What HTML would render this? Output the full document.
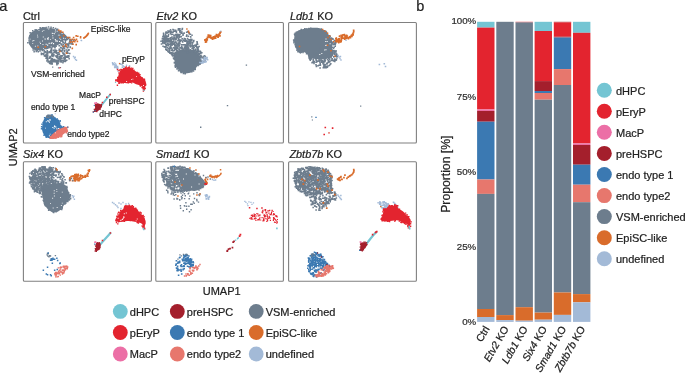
<!DOCTYPE html>
<html><head><meta charset="utf-8"><style>
html,body{margin:0;padding:0;background:#fff;width:685px;height:374px;overflow:hidden}
text{stroke:#222;stroke-width:.22px}
svg{display:block;font-family:"Liberation Sans",sans-serif;will-change:transform}
</style></head><body>
<svg width="685" height="374" viewBox="0 0 685 374">
<rect x="23.4" y="22.5" width="128.0" height="120.5" rx="1" fill="none" stroke="#808080" stroke-width="1.1"/>
<rect x="155.8" y="22.5" width="127.6" height="120.5" rx="1" fill="none" stroke="#808080" stroke-width="1.1"/>
<rect x="288.6" y="22.5" width="127.8" height="120.5" rx="1" fill="none" stroke="#808080" stroke-width="1.1"/>
<rect x="23.4" y="161.8" width="128.0" height="119.5" rx="1" fill="none" stroke="#808080" stroke-width="1.1"/>
<rect x="155.8" y="161.8" width="127.6" height="119.5" rx="1" fill="none" stroke="#808080" stroke-width="1.1"/>
<rect x="288.6" y="161.8" width="127.8" height="119.5" rx="1" fill="none" stroke="#808080" stroke-width="1.1"/>
<text x="22.9" y="19.7" font-size="10.90" text-anchor="start" fill="#222">Ctrl</text>
<text x="156.4" y="19.7" font-size="10.90" fill="#222"><tspan font-style="italic">Etv2</tspan> KO</text>
<text x="289.9" y="19.7" font-size="10.90" fill="#222"><tspan font-style="italic">Ldb1</tspan> KO</text>
<text x="23.0" y="158.3" font-size="10.90" fill="#222"><tspan font-style="italic">Six4</tspan> KO</text>
<text x="156.1" y="158.3" font-size="10.90" fill="#222"><tspan font-style="italic">Smad1</tspan> KO</text>
<text x="289.4" y="158.3" font-size="10.90" fill="#222"><tspan font-style="italic">Zbtb7b</tspan> KO</text>
<text x="-0.8" y="10.7" font-size="14.50" text-anchor="start" fill="#222">a</text>
<text x="416.2" y="10.5" font-size="14.50" text-anchor="start" fill="#222">b</text>
<text x="221.7" y="294.9" font-size="11.00" text-anchor="middle" fill="#222">UMAP1</text>
<text transform="translate(17.4 147.3) rotate(-90)" font-size="11" text-anchor="middle" fill="#222">UMAP2</text>
<path d="M28.1 39.9C28.1 38.5 28.7 36.9 29.2 35.6C29.7 34.4 30.2 33.3 31.3 32.4C32.4 31.5 33.8 31.0 35.6 30.3C37.4 29.6 40.0 28.6 42.0 28.1C44.0 27.7 45.6 27.6 47.4 27.6C49.2 27.7 51.1 28.0 52.7 28.4C54.3 28.8 55.8 29.3 57.0 29.7C58.2 30.1 59.1 30.3 60.2 30.8C61.3 31.3 62.3 32.0 63.4 32.9C64.5 33.8 66.0 34.9 66.6 36.1C67.2 37.3 67.4 38.9 67.0 40.0C66.6 41.1 65.2 42.3 64.0 43.0C62.8 43.7 61.3 43.5 60.0 44.0C58.7 44.5 57.3 45.3 56.0 46.0C54.7 46.7 53.3 47.5 52.0 48.0C50.7 48.5 49.3 48.7 48.0 49.0C46.7 49.3 45.3 49.8 44.0 50.0C42.7 50.2 41.3 50.0 40.0 50.0C38.7 50.0 37.1 50.1 36.0 50.0C34.9 49.9 34.3 49.9 33.5 49.5C32.7 49.1 32.0 48.3 31.3 47.4C30.6 46.5 29.7 45.5 29.2 44.2C28.7 43.0 28.1 41.3 28.1 39.9Z" fill="#6d7d8d"/>
<path d="M46.4 56.8h1.6v1.6h-1.6zM55.5 61.2h1.6v1.6h-1.6zM63.0 52.2h1.6v1.6h-1.6zM50.9 58.6h1.6v1.6h-1.6zM46.1 54.3h1.6v1.6h-1.6zM61.6 47.6h1.6v1.6h-1.6zM66.6 38.2h1.6v1.6h-1.6zM58.5 48.4h1.6v1.6h-1.6zM48.6 50.9h1.6v1.6h-1.6zM44.6 51.1h1.6v1.6h-1.6zM52.0 58.9h1.6v1.6h-1.6zM64.1 58.2h1.6v1.6h-1.6zM50.4 49.2h1.6v1.6h-1.6zM67.7 55.1h1.6v1.6h-1.6zM66.6 55.8h1.6v1.6h-1.6zM51.0 62.3h1.6v1.6h-1.6zM66.1 52.1h1.6v1.6h-1.6zM51.2 55.1h1.6v1.6h-1.6zM65.6 56.1h1.6v1.6h-1.6zM64.0 53.7h1.6v1.6h-1.6zM70.2 43.0h1.6v1.6h-1.6zM70.2 40.0h1.6v1.6h-1.6zM55.3 59.5h1.6v1.6h-1.6zM65.0 44.2h1.6v1.6h-1.6zM56.6 55.8h1.6v1.6h-1.6zM68.1 55.2h1.6v1.6h-1.6zM61.0 44.2h1.6v1.6h-1.6zM70.9 41.2h1.6v1.6h-1.6zM67.9 56.1h1.6v1.6h-1.6zM50.9 60.7h1.6v1.6h-1.6zM46.8 58.4h1.6v1.6h-1.6zM53.5 59.6h1.6v1.6h-1.6zM46.2 60.1h1.6v1.6h-1.6zM59.9 47.0h1.6v1.6h-1.6zM52.2 55.3h1.6v1.6h-1.6zM62.0 45.2h1.6v1.6h-1.6zM52.5 54.4h1.6v1.6h-1.6zM68.3 42.9h1.6v1.6h-1.6zM50.3 51.9h1.6v1.6h-1.6zM48.8 61.0h1.6v1.6h-1.6zM58.7 58.6h1.6v1.6h-1.6zM52.4 61.0h1.6v1.6h-1.6zM62.5 59.4h1.6v1.6h-1.6zM55.3 45.4h1.6v1.6h-1.6zM46.3 59.9h1.6v1.6h-1.6zM52.9 52.2h1.6v1.6h-1.6zM55.8 55.9h1.6v1.6h-1.6zM52.1 60.4h1.6v1.6h-1.6zM60.2 46.8h1.6v1.6h-1.6zM64.1 42.5h1.6v1.6h-1.6zM49.5 57.1h1.6v1.6h-1.6zM59.0 49.9h1.6v1.6h-1.6zM66.4 51.1h1.6v1.6h-1.6zM53.6 46.0h1.6v1.6h-1.6zM61.0 50.7h1.6v1.6h-1.6zM59.4 58.7h1.6v1.6h-1.6zM59.8 50.1h1.6v1.6h-1.6zM67.3 49.6h1.6v1.6h-1.6zM60.2 56.3h1.6v1.6h-1.6zM49.9 57.1h1.6v1.6h-1.6zM63.4 56.8h1.6v1.6h-1.6zM53.5 59.2h1.6v1.6h-1.6zM58.0 52.0h1.6v1.6h-1.6zM52.4 49.6h1.6v1.6h-1.6zM55.4 51.5h1.6v1.6h-1.6zM63.1 54.0h1.6v1.6h-1.6zM48.8 51.6h1.6v1.6h-1.6zM61.7 49.2h1.6v1.6h-1.6zM57.5 51.9h1.6v1.6h-1.6zM64.1 45.3h1.6v1.6h-1.6zM67.1 52.3h1.6v1.6h-1.6zM68.9 52.7h1.6v1.6h-1.6zM67.8 37.3h1.6v1.6h-1.6zM67.0 56.3h1.6v1.6h-1.6zM55.6 60.0h1.6v1.6h-1.6zM60.2 43.2h1.6v1.6h-1.6zM61.1 50.2h1.6v1.6h-1.6zM52.9 59.0h1.6v1.6h-1.6zM49.9 49.7h1.6v1.6h-1.6zM67.5 44.0h1.6v1.6h-1.6zM64.4 57.9h1.6v1.6h-1.6zM50.8 51.6h1.6v1.6h-1.6zM56.4 54.6h1.6v1.6h-1.6zM55.9 52.2h1.6v1.6h-1.6zM50.8 48.0h1.6v1.6h-1.6zM67.0 44.1h1.6v1.6h-1.6zM49.7 51.3h1.6v1.6h-1.6zM57.3 60.4h1.6v1.6h-1.6zM63.1 53.6h1.6v1.6h-1.6zM57.2 61.2h1.6v1.6h-1.6zM69.1 38.8h1.6v1.6h-1.6zM64.2 42.5h1.6v1.6h-1.6zM45.7 56.3h1.6v1.6h-1.6zM60.9 59.4h1.6v1.6h-1.6zM63.3 53.6h1.6v1.6h-1.6zM64.2 54.9h1.6v1.6h-1.6zM55.2 51.3h1.6v1.6h-1.6zM60.9 57.5h1.6v1.6h-1.6zM63.6 50.5h1.6v1.6h-1.6zM48.6 56.5h1.6v1.6h-1.6zM65.0 60.0h1.6v1.6h-1.6zM69.1 40.3h1.6v1.6h-1.6zM66.2 43.1h1.6v1.6h-1.6zM54.1 49.3h1.6v1.6h-1.6zM63.0 46.7h1.6v1.6h-1.6zM46.3 56.6h1.6v1.6h-1.6zM56.1 59.8h1.6v1.6h-1.6zM50.7 60.4h1.6v1.6h-1.6zM68.9 40.9h1.6v1.6h-1.6zM67.9 49.3h1.6v1.6h-1.6zM45.5 57.5h1.6v1.6h-1.6zM59.8 59.4h1.6v1.6h-1.6zM54.2 46.8h1.6v1.6h-1.6zM46.4 50.7h1.6v1.6h-1.6zM61.6 55.1h1.6v1.6h-1.6zM60.2 55.0h1.6v1.6h-1.6zM60.2 56.4h1.6v1.6h-1.6zM49.4 61.5h1.6v1.6h-1.6zM62.7 60.6h1.6v1.6h-1.6zM67.6 36.8h1.6v1.6h-1.6zM49.8 60.2h1.6v1.6h-1.6zM57.8 59.3h1.6v1.6h-1.6zM66.5 47.0h1.6v1.6h-1.6zM53.3 58.8h1.6v1.6h-1.6zM56.0 62.5h1.6v1.6h-1.6zM53.6 50.9h1.6v1.6h-1.6zM50.3 59.3h1.6v1.6h-1.6zM66.4 55.2h1.6v1.6h-1.6zM50.1 50.1h1.6v1.6h-1.6zM62.5 52.8h1.6v1.6h-1.6zM60.8 43.7h1.6v1.6h-1.6zM60.6 43.2h1.6v1.6h-1.6zM58.5 57.5h1.6v1.6h-1.6zM62.7 45.8h1.6v1.6h-1.6zM39.2 50.1h1.6v1.6h-1.6zM60.7 61.1h1.6v1.6h-1.6zM66.8 38.7h1.6v1.6h-1.6zM55.6 52.0h1.6v1.6h-1.6zM57.2 62.3h1.6v1.6h-1.6zM48.4 57.3h1.6v1.6h-1.6zM58.6 57.9h1.6v1.6h-1.6zM46.9 53.1h1.6v1.6h-1.6zM36.8 49.4h1.6v1.6h-1.6zM58.4 49.8h1.6v1.6h-1.6zM58.6 53.5h1.6v1.6h-1.6zM64.1 59.2h1.6v1.6h-1.6zM65.4 56.3h1.6v1.6h-1.6zM55.8 56.7h1.6v1.6h-1.6zM65.5 49.2h1.6v1.6h-1.6zM46.9 54.9h1.6v1.6h-1.6zM42.9 52.4h1.6v1.6h-1.6zM49.4 55.7h1.6v1.6h-1.6zM58.7 44.9h1.6v1.6h-1.6zM58.6 55.4h1.6v1.6h-1.6zM67.8 45.0h1.6v1.6h-1.6zM51.2 54.2h1.6v1.6h-1.6zM61.1 50.3h1.6v1.6h-1.6zM57.0 53.7h1.6v1.6h-1.6zM62.0 47.8h1.6v1.6h-1.6zM58.9 57.4h1.6v1.6h-1.6zM36.1 50.0h1.6v1.6h-1.6zM45.2 55.5h1.6v1.6h-1.6zM58.4 45.0h1.6v1.6h-1.6zM45.5 53.7h1.6v1.6h-1.6zM68.1 42.4h1.6v1.6h-1.6zM53.1 54.0h1.6v1.6h-1.6zM59.7 58.7h1.6v1.6h-1.6zM62.1 52.2h1.6v1.6h-1.6zM65.6 51.5h1.6v1.6h-1.6zM41.4 49.6h1.6v1.6h-1.6zM62.4 52.7h1.6v1.6h-1.6zM57.6 60.6h1.6v1.6h-1.6zM35.5 50.6h1.6v1.6h-1.6zM49.3 62.2h1.6v1.6h-1.6zM51.6 52.8h1.6v1.6h-1.6zM50.3 50.0h1.6v1.6h-1.6zM64.5 45.7h1.6v1.6h-1.6zM44.9 54.5h1.6v1.6h-1.6zM46.2 52.1h1.6v1.6h-1.6zM63.6 49.8h1.6v1.6h-1.6zM43.2 50.0h1.6v1.6h-1.6zM64.1 56.4h1.6v1.6h-1.6zM46.5 49.9h1.6v1.6h-1.6zM68.0 55.3h1.6v1.6h-1.6zM67.9 55.5h1.6v1.6h-1.6zM54.6 55.2h1.6v1.6h-1.6zM57.3 59.2h1.6v1.6h-1.6zM62.7 57.2h1.6v1.6h-1.6zM51.1 53.7h1.6v1.6h-1.6zM47.0 58.8h1.6v1.6h-1.6zM51.5 58.1h1.6v1.6h-1.6zM57.2 57.3h1.6v1.6h-1.6zM55.9 49.9h1.6v1.6h-1.6zM57.9 60.6h1.6v1.6h-1.6zM59.5 49.5h1.6v1.6h-1.6zM50.9 54.8h1.6v1.6h-1.6zM64.5 41.5h1.6v1.6h-1.6zM50.0 62.2h1.6v1.6h-1.6zM56.7 55.5h1.6v1.6h-1.6zM55.8 55.3h1.6v1.6h-1.6zM67.1 46.6h1.6v1.6h-1.6zM56.8 55.4h1.6v1.6h-1.6zM68.2 49.0h1.6v1.6h-1.6zM55.0 49.6h1.6v1.6h-1.6zM58.6 48.4h1.6v1.6h-1.6zM62.1 60.0h1.6v1.6h-1.6zM64.2 55.4h1.6v1.6h-1.6zM56.1 60.7h1.6v1.6h-1.6zM63.7 47.7h1.6v1.6h-1.6zM68.5 43.0h1.6v1.6h-1.6zM53.9 60.8h1.6v1.6h-1.6zM59.3 57.9h1.6v1.6h-1.6zM55.5 52.5h1.6v1.6h-1.6zM48.0 60.6h1.6v1.6h-1.6zM47.0 51.4h1.6v1.6h-1.6zM43.6 50.2h1.6v1.6h-1.6zM44.6 55.3h1.6v1.6h-1.6zM58.9 56.8h1.6v1.6h-1.6zM46.5 59.0h1.6v1.6h-1.6zM44.2 51.7h1.6v1.6h-1.6zM54.3 59.3h1.6v1.6h-1.6zM63.9 59.0h1.6v1.6h-1.6zM63.7 58.3h1.6v1.6h-1.6zM65.5 56.1h1.6v1.6h-1.6zM58.0 60.0h1.6v1.6h-1.6zM52.2 55.7h1.6v1.6h-1.6zM54.5 51.4h1.6v1.6h-1.6zM62.8 43.5h1.6v1.6h-1.6zM53.3 59.4h1.6v1.6h-1.6z" fill="#6d7d8d"/>
<path d="M61.2 42.2h1.1v1.1h-1.1zM53.0 43.1h1.1v1.1h-1.1zM47.2 38.0h1.1v1.1h-1.1zM47.1 44.6h1.1v1.1h-1.1zM50.7 42.8h1.1v1.1h-1.1zM51.5 42.2h1.1v1.1h-1.1zM63.4 40.3h1.1v1.1h-1.1zM45.6 43.7h1.1v1.1h-1.1zM59.2 37.5h1.1v1.1h-1.1zM55.4 39.9h1.1v1.1h-1.1zM60.8 41.8h1.1v1.1h-1.1zM54.8 38.9h1.1v1.1h-1.1zM59.0 41.0h1.1v1.1h-1.1zM47.5 37.8h1.1v1.1h-1.1zM55.4 40.6h1.1v1.1h-1.1zM48.6 42.8h1.1v1.1h-1.1zM56.8 40.6h1.1v1.1h-1.1zM52.4 37.5h1.1v1.1h-1.1z" fill="#fff"/>
<path d="M29.3 42.9h1.5v1.5h-1.5zM50.3 26.5h1.5v1.5h-1.5zM54.6 28.1h1.5v1.5h-1.5zM34.2 49.3h1.5v1.5h-1.5zM40.7 53.7h1.5v1.5h-1.5zM45.6 57.4h1.5v1.5h-1.5zM59.5 60.9h1.5v1.5h-1.5zM29.4 32.1h1.5v1.5h-1.5zM47.3 61.2h1.5v1.5h-1.5zM56.1 63.3h1.5v1.5h-1.5zM66.0 59.5h1.5v1.5h-1.5zM35.4 29.0h1.5v1.5h-1.5zM54.9 27.7h1.5v1.5h-1.5zM69.4 46.8h1.5v1.5h-1.5zM52.6 27.1h1.5v1.5h-1.5zM56.2 63.9h1.5v1.5h-1.5zM50.7 63.3h1.5v1.5h-1.5zM29.3 35.1h1.5v1.5h-1.5zM49.9 28.2h1.5v1.5h-1.5zM37.5 51.0h1.5v1.5h-1.5zM39.7 27.8h1.5v1.5h-1.5zM34.8 30.5h1.5v1.5h-1.5zM40.6 52.4h1.5v1.5h-1.5zM71.5 43.5h1.5v1.5h-1.5zM42.7 53.7h1.5v1.5h-1.5zM62.2 62.0h1.5v1.5h-1.5zM50.3 26.5h1.5v1.5h-1.5zM51.3 62.6h1.5v1.5h-1.5zM40.5 28.4h1.5v1.5h-1.5zM55.9 28.7h1.5v1.5h-1.5zM41.6 26.9h1.5v1.5h-1.5zM40.6 53.0h1.5v1.5h-1.5zM43.2 27.1h1.5v1.5h-1.5zM61.4 32.3h1.5v1.5h-1.5zM36.9 29.9h1.5v1.5h-1.5zM30.7 32.8h1.5v1.5h-1.5zM57.2 63.1h1.5v1.5h-1.5zM69.5 46.3h1.5v1.5h-1.5zM54.9 27.9h1.5v1.5h-1.5zM65.6 36.5h1.5v1.5h-1.5zM28.2 39.2h1.5v1.5h-1.5zM34.3 29.3h1.5v1.5h-1.5zM33.4 51.0h1.5v1.5h-1.5zM49.6 62.9h1.5v1.5h-1.5zM27.1 42.1h1.5v1.5h-1.5zM43.7 55.3h1.5v1.5h-1.5zM39.4 26.9h1.5v1.5h-1.5zM41.7 53.1h1.5v1.5h-1.5zM45.6 26.8h1.5v1.5h-1.5zM32.4 49.2h1.5v1.5h-1.5zM68.4 57.9h1.5v1.5h-1.5zM44.9 27.6h1.5v1.5h-1.5zM51.5 63.3h1.5v1.5h-1.5zM32.0 30.0h1.5v1.5h-1.5zM64.6 60.8h1.5v1.5h-1.5zM56.9 28.6h1.5v1.5h-1.5zM64.0 60.5h1.5v1.5h-1.5zM43.9 54.6h1.5v1.5h-1.5zM47.8 26.2h1.5v1.5h-1.5zM48.8 62.6h1.5v1.5h-1.5z" fill="#6d7d8d"/>
<path d="M59.2 34.7h0.9v0.9h-0.9zM46.8 27.5h0.9v0.9h-0.9zM63.1 37.8h0.9v0.9h-0.9zM61.6 33.1h0.9v0.9h-0.9zM34.9 45.8h0.9v0.9h-0.9zM41.9 30.8h0.9v0.9h-0.9zM42.1 40.5h0.9v0.9h-0.9zM27.8 38.8h0.9v0.9h-0.9zM45.0 38.7h0.9v0.9h-0.9zM32.3 43.2h0.9v0.9h-0.9zM40.1 43.1h0.9v0.9h-0.9zM42.5 44.0h0.9v0.9h-0.9zM64.8 38.2h0.9v0.9h-0.9zM47.6 39.0h0.9v0.9h-0.9zM48.6 27.6h0.9v0.9h-0.9zM37.4 45.5h0.9v0.9h-0.9zM54.8 31.5h0.9v0.9h-0.9zM28.3 40.6h0.9v0.9h-0.9zM50.1 38.9h0.9v0.9h-0.9zM55.0 29.5h0.9v0.9h-0.9zM46.9 38.4h0.9v0.9h-0.9zM38.5 29.9h0.9v0.9h-0.9zM43.4 30.2h0.9v0.9h-0.9zM50.7 46.4h0.9v0.9h-0.9zM33.4 40.0h0.9v0.9h-0.9zM56.7 30.8h0.9v0.9h-0.9zM42.8 36.6h0.9v0.9h-0.9zM60.3 38.9h0.9v0.9h-0.9zM43.0 48.2h0.9v0.9h-0.9zM57.9 34.7h0.9v0.9h-0.9zM37.0 34.7h0.9v0.9h-0.9zM44.6 49.1h0.9v0.9h-0.9zM29.7 38.7h0.9v0.9h-0.9zM37.3 36.6h0.9v0.9h-0.9zM52.3 35.3h0.9v0.9h-0.9zM48.3 28.7h0.9v0.9h-0.9zM44.5 38.5h0.9v0.9h-0.9zM64.1 41.3h0.9v0.9h-0.9zM52.6 33.1h0.9v0.9h-0.9zM54.0 33.3h0.9v0.9h-0.9zM48.7 47.9h0.9v0.9h-0.9zM51.8 32.8h0.9v0.9h-0.9zM47.9 36.9h0.9v0.9h-0.9zM39.5 41.7h0.9v0.9h-0.9zM32.3 40.5h0.9v0.9h-0.9z" fill="#fff"/>
<path d="M58.0 29.4h1.6v1.6h-1.6zM60.0 30.3h1.6v1.6h-1.6zM62.0 31.5h1.6v1.6h-1.6zM59.5 31.2h1.6v1.6h-1.6zM62.9 34.8h1.6v1.6h-1.6zM66.7 36.7h1.6v1.6h-1.6zM68.9 36.7h1.6v1.6h-1.6zM72.8 36.7h1.6v1.6h-1.6zM75.4 35.1h1.6v1.6h-1.6zM77.0 35.5h1.6v1.6h-1.6zM79.8 36.1h1.6v1.6h-1.6zM79.8 37.0h1.6v1.6h-1.6zM76.6 40.6h1.6v1.6h-1.6zM75.4 43.8h1.6v1.6h-1.6zM72.2 43.5h1.6v1.6h-1.6zM59.3 36.4h1.6v1.6h-1.6zM65.1 43.8h1.6v1.6h-1.6zM65.7 45.7h1.6v1.6h-1.6zM62.5 45.4h1.6v1.6h-1.6zM71.5 47.6h1.6v1.6h-1.6zM37.4 46.5h1.6v1.6h-1.6zM44.6 45.9h1.6v1.6h-1.6zM59.1 50.7h1.6v1.6h-1.6zM65.7 52.5h1.6v1.6h-1.6z" fill="#d96c2b"/>
<path d="M69.8 38.7h1.6v1.6h-1.6zM71.6 38.4h1.6v1.6h-1.6zM73.4 38.8h1.6v1.6h-1.6zM74.8 39.5h1.6v1.6h-1.6zM70.6 40.2h1.6v1.6h-1.6zM72.4 40.4h1.6v1.6h-1.6zM74.0 41.0h1.6v1.6h-1.6zM71.7 42.0h1.6v1.6h-1.6zM69.5 41.4h1.6v1.6h-1.6zM75.7 38.5h1.6v1.6h-1.6z" fill="#d96c2b"/>
<path d="M70.8 39.5h1.4v1.4h-1.4zM73.2 39.7h1.4v1.4h-1.4zM71.5 42.9h1.4v1.4h-1.4z" fill="#6d7d8d"/>
<path d="M83.9 38.0L85.3 37.0L86.6 35.9L87.6 34.7L88.3 33.4" stroke="#d96c2b" stroke-width="1.9" fill="none" stroke-linecap="round"/>
<path d="M80.6 39.7h1.4v1.4h-1.4z" fill="#a3bad7"/>
<path d="M72.8 55.8h1.4v1.4h-1.4zM73.8 57.3h1.4v1.4h-1.4zM74.8 58.8h1.4v1.4h-1.4zM75.8 59.6h1.4v1.4h-1.4zM80.8 39.9h1.4v1.4h-1.4zM74.5 56.5h1.4v1.4h-1.4z" fill="#a3bad7"/>
<path d="M52.1 66.5h1.2v1.2h-1.2zM57.9 67.2h1.2v1.2h-1.2zM59.9 66.9h1.2v1.2h-1.2z" fill="#6d7d8d"/>
<path d="M59.2 67.2h1.2v1.2h-1.2z" fill="#e3242f"/>
<path d="M118.8 74.0C119.1 73.2 119.7 72.0 120.2 71.2C120.7 70.4 121.3 69.9 122.0 69.4C122.7 68.9 123.6 68.3 124.4 68.0C125.2 67.7 125.9 67.6 126.7 67.5C127.5 67.4 128.2 67.3 129.0 67.5C129.8 67.7 130.5 67.9 131.4 68.4C132.3 68.9 133.3 69.7 134.2 70.3C135.1 70.9 136.1 71.4 137.0 72.2C137.9 73.0 138.9 74.1 139.8 75.0C140.7 75.9 141.7 77.0 142.6 77.8C143.5 78.6 144.4 79.3 145.0 80.1C145.6 80.9 145.8 81.5 145.9 82.5C146.0 83.5 145.6 85.0 145.4 86.2C145.2 87.4 145.2 88.7 145.0 89.5C144.8 90.3 144.4 91.3 144.0 90.9C143.6 90.5 143.3 88.0 142.6 87.1C141.9 86.2 140.9 85.8 139.8 85.3C138.7 84.8 137.3 84.8 136.1 84.3C134.8 83.8 133.6 82.7 132.3 82.5C131.1 82.3 129.8 82.8 128.6 82.9C127.3 83.0 126.0 82.9 124.8 82.9C123.5 82.9 122.3 83.1 121.1 82.9C119.9 82.8 118.2 82.5 117.4 82.0C116.6 81.5 116.0 80.7 116.0 80.1C116.0 79.5 117.0 78.9 117.4 78.2C117.8 77.5 118.1 76.6 118.3 75.9C118.5 75.2 118.5 74.8 118.8 74.0Z" fill="#e3242f"/>
<path d="M117.0 76.8h1.4v1.4h-1.4zM136.5 71.7h1.4v1.4h-1.4zM142.7 90.3h1.4v1.4h-1.4zM125.6 66.3h1.4v1.4h-1.4zM138.1 73.1h1.4v1.4h-1.4zM138.0 72.6h1.4v1.4h-1.4zM122.9 67.9h1.4v1.4h-1.4zM121.0 82.0h1.4v1.4h-1.4zM142.4 87.1h1.4v1.4h-1.4zM131.6 68.7h1.4v1.4h-1.4zM144.8 84.5h1.4v1.4h-1.4zM139.5 84.9h1.4v1.4h-1.4zM139.3 73.9h1.4v1.4h-1.4zM133.2 69.4h1.4v1.4h-1.4zM143.3 78.6h1.4v1.4h-1.4zM118.3 72.3h1.4v1.4h-1.4zM119.1 82.3h1.4v1.4h-1.4zM142.6 88.3h1.4v1.4h-1.4zM136.9 73.2h1.4v1.4h-1.4zM137.8 73.6h1.4v1.4h-1.4zM128.8 66.3h1.4v1.4h-1.4zM118.4 81.8h1.4v1.4h-1.4zM120.9 68.9h1.4v1.4h-1.4zM144.7 82.7h1.4v1.4h-1.4zM124.4 66.7h1.4v1.4h-1.4zM117.4 76.7h1.4v1.4h-1.4zM128.3 66.5h1.4v1.4h-1.4zM141.3 76.9h1.4v1.4h-1.4zM139.6 84.3h1.4v1.4h-1.4zM122.6 82.2h1.4v1.4h-1.4zM129.5 81.6h1.4v1.4h-1.4zM127.8 82.2h1.4v1.4h-1.4zM125.6 81.9h1.4v1.4h-1.4zM115.1 80.1h1.4v1.4h-1.4zM118.2 82.5h1.4v1.4h-1.4zM127.3 82.1h1.4v1.4h-1.4zM143.7 87.5h1.4v1.4h-1.4zM142.0 87.1h1.4v1.4h-1.4zM125.7 81.6h1.4v1.4h-1.4zM139.8 85.3h1.4v1.4h-1.4zM145.0 83.8h1.4v1.4h-1.4zM130.9 82.2h1.4v1.4h-1.4zM143.8 79.0h1.4v1.4h-1.4zM143.7 78.4h1.4v1.4h-1.4zM125.5 81.6h1.4v1.4h-1.4zM144.5 87.8h1.4v1.4h-1.4zM130.7 67.4h1.4v1.4h-1.4zM127.5 66.9h1.4v1.4h-1.4zM141.4 86.9h1.4v1.4h-1.4zM115.1 79.2h1.4v1.4h-1.4z" fill="#e3242f"/>
<path d="M132.4 78.7h0.9v0.9h-0.9zM143.1 85.1h0.9v0.9h-0.9zM131.0 79.2h0.9v0.9h-0.9zM136.0 76.2h0.9v0.9h-0.9zM126.2 81.0h0.9v0.9h-0.9z" fill="#fff"/>
<path d="M115.6 65.9h1.5v1.5h-1.5zM113.9 66.2h1.5v1.5h-1.5zM114.1 66.7h1.5v1.5h-1.5zM117.1 67.2h1.5v1.5h-1.5zM114.6 65.7h1.5v1.5h-1.5zM112.5 63.0h1.5v1.5h-1.5zM115.3 66.5h1.5v1.5h-1.5zM116.7 66.4h1.5v1.5h-1.5zM114.5 66.1h1.5v1.5h-1.5zM115.0 64.9h1.5v1.5h-1.5zM112.0 62.8h1.5v1.5h-1.5z" fill="#a3bad7"/>
<path d="M119.3 63.1h1.5v1.5h-1.5zM121.6 66.4h1.5v1.5h-1.5zM122.1 66.3h1.5v1.5h-1.5zM119.7 63.6h1.5v1.5h-1.5z" fill="#a3bad7"/>
<path d="M128.8 64.9h1.4v1.4h-1.4zM117.3 70.3h1.4v1.4h-1.4zM125.8 64.5h1.4v1.4h-1.4zM111.8 62.1h1.4v1.4h-1.4zM112.7 62.9h1.4v1.4h-1.4zM113.5 63.9h1.4v1.4h-1.4zM114.3 64.9h1.4v1.4h-1.4zM115.1 66.0h1.4v1.4h-1.4zM115.9 67.1h1.4v1.4h-1.4zM116.6 68.2h1.4v1.4h-1.4zM112.3 64.1h1.4v1.4h-1.4zM113.9 62.2h1.4v1.4h-1.4zM114.9 63.3h1.4v1.4h-1.4zM115.6 64.6h1.4v1.4h-1.4zM116.9 65.7h1.4v1.4h-1.4zM119.1 62.9h1.4v1.4h-1.4zM120.3 63.5h1.4v1.4h-1.4zM121.6 64.3h1.4v1.4h-1.4zM122.7 65.3h1.4v1.4h-1.4zM123.6 66.3h1.4v1.4h-1.4z" fill="#a3bad7"/>
<path d="M116.8 68.8h1.4v1.4h-1.4zM118.3 69.8h1.4v1.4h-1.4zM120.3 68.8h1.4v1.4h-1.4zM119.8 70.8h1.4v1.4h-1.4z" fill="#e3242f"/>
<path d="M116.7 84.6h1.4v1.4h-1.4zM109.2 93.9h1.4v1.4h-1.4zM132.1 67.7h1.4v1.4h-1.4zM119.3 69.3h1.4v1.4h-1.4z" fill="#e3242f"/>
<path d="M114.9 81.9h1.2v1.2h-1.2zM143.4 89.8h1.2v1.2h-1.2z" fill="#74c5d3"/>
<path d="M118.9 62.9h1.2v1.2h-1.2z" fill="#d96c2b"/>
<path d="M100.5 106.5L103.0 103.3L106.0 99.6L108.5 96.5L110.2 94.5" stroke="#74c5d3" stroke-width="1.9" fill="none" stroke-linecap="round"/>
<path d="M109.5 93.8h1.5v1.5h-1.5zM106.0 96.5h1.5v1.5h-1.5zM101.7 101.8h1.5v1.5h-1.5z" fill="#e3242f"/>
<path d="M94.7 104.4C95.1 104.1 96.5 103.7 97.3 103.6C98.1 103.5 99.0 103.7 99.8 104.0C100.6 104.3 101.7 104.7 102.0 105.3C102.3 105.9 102.0 106.7 101.6 107.4C101.2 108.1 100.5 108.9 99.8 109.6C99.1 110.2 98.1 110.9 97.3 111.3C96.5 111.7 95.3 112.0 94.7 112.1C94.1 112.2 93.5 112.4 93.4 112.1C93.3 111.8 94.0 110.8 94.3 110.0C94.6 109.2 95.0 108.1 95.1 107.4C95.2 106.7 95.2 106.2 95.1 105.7C95.0 105.2 94.3 104.8 94.7 104.4Z" fill="#a41f2c"/>
<path d="M96.7 103.5h1.2v1.2h-1.2zM96.3 111.0h1.2v1.2h-1.2zM99.5 108.9h1.2v1.2h-1.2zM95.7 103.8h1.2v1.2h-1.2zM96.1 110.3h1.2v1.2h-1.2zM99.4 108.5h1.2v1.2h-1.2zM100.9 103.8h1.2v1.2h-1.2zM94.9 105.7h1.2v1.2h-1.2zM100.7 105.6h1.2v1.2h-1.2zM93.7 108.7h1.2v1.2h-1.2zM95.6 110.5h1.2v1.2h-1.2zM98.0 109.1h1.2v1.2h-1.2zM100.6 104.1h1.2v1.2h-1.2zM92.6 111.2h1.2v1.2h-1.2z" fill="#a41f2c"/>
<path d="M94.0 102.4h1.4v1.4h-1.4zM95.7 102.0h1.4v1.4h-1.4zM94.8 102.6h1.4v1.4h-1.4z" fill="#ec6fa6"/>
<path d="M93.7 104.9h1.2v1.2h-1.2zM92.8 111.5h1.2v1.2h-1.2zM94.5 110.0h1.2v1.2h-1.2z" fill="#3b79b2"/>
<path d="M46.0 116.4C46.7 115.7 47.5 115.0 48.4 114.8C49.3 114.6 50.7 114.7 51.6 115.0C52.5 115.3 53.2 115.8 54.0 116.4C54.8 117.0 55.5 118.1 56.4 118.8C57.3 119.5 58.7 119.6 59.3 120.4C59.9 121.2 59.8 122.7 60.1 123.6C60.4 124.5 60.7 125.4 61.3 126.0C61.9 126.6 62.9 126.7 63.7 127.2C64.5 127.7 65.6 128.5 66.1 129.2C66.6 129.9 66.9 130.6 66.5 131.3C66.1 132.0 64.7 132.6 63.7 133.3C62.7 134.0 61.7 135.0 60.5 135.7C59.3 136.4 57.8 137.2 56.4 137.7C55.0 138.2 53.7 138.4 52.4 138.5C51.1 138.6 49.6 138.4 48.4 138.1C47.2 137.8 46.1 137.3 45.2 136.5C44.3 135.7 43.7 134.5 43.2 133.3C42.7 132.1 42.1 130.5 42.0 129.2C41.9 127.8 42.2 126.5 42.4 125.2C42.6 123.9 42.9 122.3 43.2 121.2C43.5 120.1 43.9 119.6 44.4 118.8C44.9 118.0 45.3 117.1 46.0 116.4Z" fill="#3b79b2"/>
<path d="M59.9 125.2h1.4v1.4h-1.4zM55.5 131.3h1.4v1.4h-1.4zM59.4 120.6h1.4v1.4h-1.4zM63.1 127.0h1.4v1.4h-1.4zM43.9 117.1h1.4v1.4h-1.4zM51.9 135.2h1.4v1.4h-1.4zM53.2 133.7h1.4v1.4h-1.4zM60.7 129.0h1.4v1.4h-1.4zM52.7 115.9h1.4v1.4h-1.4zM63.0 126.0h1.4v1.4h-1.4zM56.6 118.2h1.4v1.4h-1.4zM59.5 120.1h1.4v1.4h-1.4zM45.5 136.6h1.4v1.4h-1.4zM54.3 117.2h1.4v1.4h-1.4zM51.3 114.1h1.4v1.4h-1.4zM40.9 126.1h1.4v1.4h-1.4zM57.8 129.6h1.4v1.4h-1.4zM40.8 128.1h1.4v1.4h-1.4zM62.7 126.8h1.4v1.4h-1.4zM61.3 126.8h1.4v1.4h-1.4zM57.1 119.7h1.4v1.4h-1.4zM54.9 132.8h1.4v1.4h-1.4zM57.9 130.9h1.4v1.4h-1.4zM43.3 134.6h1.4v1.4h-1.4zM42.4 121.8h1.4v1.4h-1.4zM62.5 127.4h1.4v1.4h-1.4zM49.2 136.9h1.4v1.4h-1.4zM41.3 123.5h1.4v1.4h-1.4zM54.2 132.7h1.4v1.4h-1.4zM58.9 122.6h1.4v1.4h-1.4zM61.2 127.5h1.4v1.4h-1.4zM51.3 135.2h1.4v1.4h-1.4zM61.4 128.4h1.4v1.4h-1.4zM55.2 118.4h1.4v1.4h-1.4zM60.8 125.7h1.4v1.4h-1.4z" fill="#3b79b2"/>
<path d="M49.4 138.5C49.6 137.9 50.7 136.4 51.5 135.5C52.3 134.6 53.2 133.6 54.1 132.8C55.0 132.0 55.9 131.4 56.8 130.8C57.7 130.2 58.8 129.6 59.7 129.1C60.7 128.6 61.5 128.2 62.5 127.8C63.5 127.4 64.7 126.8 65.4 126.8C66.2 126.8 66.6 127.0 67.0 127.5C67.4 128.0 67.6 128.8 67.6 129.5C67.6 130.2 67.6 130.8 67.0 131.5C66.4 132.2 65.0 133.0 64.0 133.8C63.0 134.6 62.0 135.5 60.8 136.2C59.6 136.9 58.0 137.7 56.6 138.2C55.2 138.7 53.5 138.9 52.4 139.0C51.3 139.1 50.5 139.1 50.0 139.0C49.5 138.9 49.1 139.1 49.4 138.5Z" fill="#e7776d"/>
<path d="M66.5 129.8h1.4v1.4h-1.4zM57.9 136.6h1.4v1.4h-1.4zM60.9 135.9h1.4v1.4h-1.4zM60.1 136.0h1.4v1.4h-1.4zM66.0 130.4h1.4v1.4h-1.4zM61.1 135.0h1.4v1.4h-1.4zM61.8 129.0h1.4v1.4h-1.4zM61.0 129.9h1.4v1.4h-1.4zM66.7 130.9h1.4v1.4h-1.4zM65.8 126.9h1.4v1.4h-1.4zM52.8 135.2h1.4v1.4h-1.4zM55.8 137.2h1.4v1.4h-1.4zM53.9 134.1h1.4v1.4h-1.4zM59.2 130.1h1.4v1.4h-1.4zM51.3 135.9h1.4v1.4h-1.4zM65.8 129.8h1.4v1.4h-1.4zM55.6 133.8h1.4v1.4h-1.4zM67.1 126.6h1.4v1.4h-1.4zM65.6 132.0h1.4v1.4h-1.4zM60.4 135.6h1.4v1.4h-1.4zM66.6 126.7h1.4v1.4h-1.4zM51.7 135.7h1.4v1.4h-1.4zM59.2 130.7h1.4v1.4h-1.4zM54.5 133.6h1.4v1.4h-1.4zM54.8 137.4h1.4v1.4h-1.4z" fill="#e7776d"/>
<path d="M58.6 128.0h1.2v1.2h-1.2zM53.9 133.7h1.2v1.2h-1.2zM56.5 129.3h1.2v1.2h-1.2zM53.4 134.3h1.2v1.2h-1.2zM49.6 136.1h1.2v1.2h-1.2zM51.7 134.6h1.2v1.2h-1.2zM54.7 132.1h1.2v1.2h-1.2zM57.3 132.4h1.2v1.2h-1.2zM58.8 130.8h1.2v1.2h-1.2zM56.7 131.6h1.2v1.2h-1.2zM56.3 129.4h1.2v1.2h-1.2zM50.6 136.7h1.2v1.2h-1.2zM50.9 136.0h1.2v1.2h-1.2zM57.0 131.3h1.2v1.2h-1.2z" fill="#e7776d"/>
<path d="M46.2 115.2h1.5v1.5h-1.5zM47.2 114.5h1.5v1.5h-1.5zM48.8 114.8h1.5v1.5h-1.5zM50.2 114.7h1.5v1.5h-1.5zM51.8 115.2h1.5v1.5h-1.5zM46.8 116.5h1.5v1.5h-1.5zM49.2 115.8h1.5v1.5h-1.5zM52.2 116.2h1.5v1.5h-1.5zM48.0 117.0h1.5v1.5h-1.5zM45.8 116.8h1.5v1.5h-1.5z" fill="#6d7d8d"/>
<path d="M48.5 120.5h1.0v1.0h-1.0zM45.8 121.3h1.0v1.0h-1.0zM47.6 120.7h1.0v1.0h-1.0zM50.0 119.5h1.0v1.0h-1.0zM49.2 119.2h1.0v1.0h-1.0zM48.9 121.7h1.0v1.0h-1.0z" fill="#fff"/>
<path d="M53.6 127.7h1.0v1.0h-1.0zM58.1 128.1h1.0v1.0h-1.0zM55.4 126.5h1.0v1.0h-1.0zM52.3 126.9h1.0v1.0h-1.0zM54.5 126.3h1.0v1.0h-1.0zM53.9 126.0h1.0v1.0h-1.0zM56.4 128.2h1.0v1.0h-1.0z" fill="#fff"/>
<path d="M47.4 120.1h0.9v0.9h-0.9zM54.2 124.9h0.9v0.9h-0.9zM48.9 135.3h0.9v0.9h-0.9zM45.0 127.7h0.9v0.9h-0.9zM49.7 133.7h0.9v0.9h-0.9zM55.0 132.4h0.9v0.9h-0.9z" fill="#fff"/>
<path d="M67.1 126.6h1.2v1.2h-1.2z" fill="#3b79b2"/>
<path d="M54.7 113.3h1.0v1.0h-1.0z" fill="#a3bad7"/>
<path d="M173.9 52.9C174.8 51.8 177.4 50.6 179.6 50.0C181.8 49.4 184.7 49.3 186.9 49.3C189.1 49.3 190.9 49.4 192.6 50.0C194.3 50.6 195.8 51.8 197.0 52.9C198.2 54.0 199.1 55.1 199.8 56.5C200.5 57.9 201.7 60.0 201.3 61.5C201.0 63.0 198.9 64.3 197.7 65.8C196.5 67.2 195.5 69.0 194.1 70.2C192.7 71.4 190.7 72.6 189.0 73.1C187.3 73.6 185.6 73.8 184.0 73.4C182.4 73.0 180.9 72.0 179.6 70.9C178.3 69.8 176.8 68.2 176.0 66.6C175.2 65.0 174.9 63.2 174.6 61.5C174.2 59.8 174.0 57.9 173.9 56.5C173.8 55.1 173.0 54.0 173.9 52.9Z" fill="#6d7d8d"/>
<path d="M187.7 48.1h1.6v1.6h-1.6zM165.9 40.3h1.6v1.6h-1.6zM177.0 36.6h1.6v1.6h-1.6zM163.5 40.0h1.6v1.6h-1.6zM180.9 32.3h1.6v1.6h-1.6zM175.4 48.5h1.6v1.6h-1.6zM177.1 34.8h1.6v1.6h-1.6zM165.7 49.4h1.6v1.6h-1.6zM180.3 35.8h1.6v1.6h-1.6zM202.1 56.5h1.6v1.6h-1.6zM190.1 38.6h1.6v1.6h-1.6zM171.8 33.5h1.6v1.6h-1.6zM175.5 35.6h1.6v1.6h-1.6zM167.9 40.8h1.6v1.6h-1.6zM186.9 30.8h1.6v1.6h-1.6zM180.5 35.9h1.6v1.6h-1.6zM196.1 46.5h1.6v1.6h-1.6zM183.9 46.3h1.6v1.6h-1.6zM176.0 47.1h1.6v1.6h-1.6zM174.1 47.3h1.6v1.6h-1.6zM186.1 43.0h1.6v1.6h-1.6zM169.6 31.1h1.6v1.6h-1.6zM175.3 48.1h1.6v1.6h-1.6zM204.0 55.3h1.6v1.6h-1.6zM189.9 40.8h1.6v1.6h-1.6zM162.1 35.8h1.6v1.6h-1.6zM191.3 47.5h1.6v1.6h-1.6zM186.2 45.2h1.6v1.6h-1.6zM165.9 35.4h1.6v1.6h-1.6zM172.2 31.5h1.6v1.6h-1.6zM184.6 38.6h1.6v1.6h-1.6zM171.0 53.2h1.6v1.6h-1.6zM179.1 30.5h1.6v1.6h-1.6zM178.4 35.0h1.6v1.6h-1.6zM171.4 44.1h1.6v1.6h-1.6zM170.4 40.8h1.6v1.6h-1.6zM192.6 46.5h1.6v1.6h-1.6zM200.7 55.4h1.6v1.6h-1.6zM200.0 52.8h1.6v1.6h-1.6zM166.3 44.1h1.6v1.6h-1.6zM187.9 31.7h1.6v1.6h-1.6zM191.1 38.8h1.6v1.6h-1.6zM169.5 47.5h1.6v1.6h-1.6zM198.4 53.6h1.6v1.6h-1.6zM169.1 52.4h1.6v1.6h-1.6zM177.9 33.7h1.6v1.6h-1.6zM200.1 51.6h1.6v1.6h-1.6zM176.2 34.1h1.6v1.6h-1.6zM191.3 45.0h1.6v1.6h-1.6zM182.2 34.4h1.6v1.6h-1.6zM200.0 54.9h1.6v1.6h-1.6zM164.2 42.1h1.6v1.6h-1.6zM168.4 43.6h1.6v1.6h-1.6zM178.2 43.3h1.6v1.6h-1.6zM162.8 33.8h1.6v1.6h-1.6zM190.9 39.6h1.6v1.6h-1.6zM173.1 49.9h1.6v1.6h-1.6zM172.6 53.0h1.6v1.6h-1.6zM200.0 62.4h1.6v1.6h-1.6zM177.1 40.0h1.6v1.6h-1.6zM202.9 58.1h1.6v1.6h-1.6zM194.0 50.3h1.6v1.6h-1.6zM189.3 43.1h1.6v1.6h-1.6zM185.5 45.6h1.6v1.6h-1.6zM163.5 42.5h1.6v1.6h-1.6zM182.4 43.9h1.6v1.6h-1.6zM171.7 37.9h1.6v1.6h-1.6zM176.5 33.4h1.6v1.6h-1.6zM181.1 47.4h1.6v1.6h-1.6zM186.3 40.9h1.6v1.6h-1.6zM168.4 30.2h1.6v1.6h-1.6zM174.3 41.2h1.6v1.6h-1.6zM164.4 35.3h1.6v1.6h-1.6zM168.2 39.4h1.6v1.6h-1.6zM178.7 36.3h1.6v1.6h-1.6zM189.9 36.1h1.6v1.6h-1.6zM176.1 33.4h1.6v1.6h-1.6zM169.2 51.6h1.6v1.6h-1.6zM200.1 56.3h1.6v1.6h-1.6zM189.9 45.6h1.6v1.6h-1.6zM191.3 42.5h1.6v1.6h-1.6zM163.4 46.0h1.6v1.6h-1.6zM175.8 49.6h1.6v1.6h-1.6zM187.6 38.9h1.6v1.6h-1.6zM181.6 27.8h1.6v1.6h-1.6zM175.6 31.4h1.6v1.6h-1.6zM167.8 33.7h1.6v1.6h-1.6zM197.3 46.4h1.6v1.6h-1.6zM187.8 42.2h1.6v1.6h-1.6zM181.1 39.8h1.6v1.6h-1.6zM195.6 43.7h1.6v1.6h-1.6zM185.7 35.5h1.6v1.6h-1.6zM167.5 35.3h1.6v1.6h-1.6zM189.4 42.8h1.6v1.6h-1.6zM196.7 48.1h1.6v1.6h-1.6zM203.2 55.7h1.6v1.6h-1.6zM170.9 38.6h1.6v1.6h-1.6zM172.6 46.9h1.6v1.6h-1.6zM171.2 36.4h1.6v1.6h-1.6zM170.5 53.1h1.6v1.6h-1.6zM173.5 42.3h1.6v1.6h-1.6zM187.6 47.8h1.6v1.6h-1.6zM165.2 34.9h1.6v1.6h-1.6zM183.5 37.7h1.6v1.6h-1.6zM180.1 32.0h1.6v1.6h-1.6zM166.2 49.3h1.6v1.6h-1.6zM166.9 46.7h1.6v1.6h-1.6zM183.3 32.3h1.6v1.6h-1.6zM176.7 49.7h1.6v1.6h-1.6zM200.5 60.4h1.6v1.6h-1.6zM173.1 35.2h1.6v1.6h-1.6zM172.7 30.3h1.6v1.6h-1.6zM178.7 41.6h1.6v1.6h-1.6zM178.2 44.7h1.6v1.6h-1.6zM179.2 33.7h1.6v1.6h-1.6zM172.2 54.9h1.6v1.6h-1.6zM177.7 38.1h1.6v1.6h-1.6zM169.7 32.5h1.6v1.6h-1.6zM192.0 41.9h1.6v1.6h-1.6zM199.1 50.4h1.6v1.6h-1.6zM194.2 44.4h1.6v1.6h-1.6zM192.8 45.1h1.6v1.6h-1.6zM191.2 41.8h1.6v1.6h-1.6zM170.7 33.7h1.6v1.6h-1.6zM167.7 38.6h1.6v1.6h-1.6zM165.4 43.4h1.6v1.6h-1.6zM196.9 50.9h1.6v1.6h-1.6zM181.1 31.2h1.6v1.6h-1.6zM192.0 47.6h1.6v1.6h-1.6zM191.3 43.9h1.6v1.6h-1.6zM184.2 38.0h1.6v1.6h-1.6zM177.4 42.6h1.6v1.6h-1.6zM177.9 28.0h1.6v1.6h-1.6zM163.4 35.3h1.6v1.6h-1.6zM193.0 39.7h1.6v1.6h-1.6zM175.3 38.2h1.6v1.6h-1.6zM169.9 46.4h1.6v1.6h-1.6zM177.5 29.2h1.6v1.6h-1.6zM180.7 43.9h1.6v1.6h-1.6zM192.8 40.6h1.6v1.6h-1.6zM204.4 59.5h1.6v1.6h-1.6zM175.6 30.4h1.6v1.6h-1.6zM194.7 44.4h1.6v1.6h-1.6zM201.3 61.6h1.6v1.6h-1.6zM181.6 48.2h1.6v1.6h-1.6zM178.8 29.0h1.6v1.6h-1.6zM166.1 37.2h1.6v1.6h-1.6zM165.4 31.2h1.6v1.6h-1.6zM192.7 49.1h1.6v1.6h-1.6zM173.1 39.1h1.6v1.6h-1.6zM174.9 38.8h1.6v1.6h-1.6zM199.4 52.4h1.6v1.6h-1.6zM183.7 46.3h1.6v1.6h-1.6zM163.1 41.0h1.6v1.6h-1.6zM184.9 44.2h1.6v1.6h-1.6zM187.0 43.8h1.6v1.6h-1.6zM163.1 41.5h1.6v1.6h-1.6zM184.7 45.8h1.6v1.6h-1.6zM186.2 41.9h1.6v1.6h-1.6zM187.6 35.4h1.6v1.6h-1.6zM196.8 49.8h1.6v1.6h-1.6zM174.0 36.8h1.6v1.6h-1.6zM165.3 31.5h1.6v1.6h-1.6zM174.0 37.8h1.6v1.6h-1.6zM186.9 41.7h1.6v1.6h-1.6zM186.0 34.2h1.6v1.6h-1.6zM178.4 28.7h1.6v1.6h-1.6zM170.8 52.0h1.6v1.6h-1.6zM165.0 48.3h1.6v1.6h-1.6zM193.5 46.7h1.6v1.6h-1.6zM173.9 43.0h1.6v1.6h-1.6zM194.5 49.7h1.6v1.6h-1.6zM164.8 33.5h1.6v1.6h-1.6zM175.8 47.6h1.6v1.6h-1.6zM174.2 30.4h1.6v1.6h-1.6zM185.9 31.5h1.6v1.6h-1.6zM187.5 48.1h1.6v1.6h-1.6zM176.6 44.2h1.6v1.6h-1.6zM167.5 31.5h1.6v1.6h-1.6zM166.1 48.4h1.6v1.6h-1.6zM168.2 51.5h1.6v1.6h-1.6zM183.6 43.9h1.6v1.6h-1.6zM169.7 45.5h1.6v1.6h-1.6zM169.9 33.0h1.6v1.6h-1.6zM167.7 39.2h1.6v1.6h-1.6zM184.1 40.5h1.6v1.6h-1.6zM186.8 37.8h1.6v1.6h-1.6zM171.8 54.4h1.6v1.6h-1.6zM197.2 48.2h1.6v1.6h-1.6zM179.1 31.2h1.6v1.6h-1.6zM176.3 33.6h1.6v1.6h-1.6zM169.7 37.2h1.6v1.6h-1.6zM198.8 62.9h1.6v1.6h-1.6zM176.5 34.6h1.6v1.6h-1.6zM204.2 57.7h1.6v1.6h-1.6zM201.4 61.0h1.6v1.6h-1.6zM198.2 63.6h1.6v1.6h-1.6zM187.3 47.0h1.6v1.6h-1.6zM171.2 36.2h1.6v1.6h-1.6zM181.4 37.9h1.6v1.6h-1.6zM179.0 31.2h1.6v1.6h-1.6zM197.3 46.2h1.6v1.6h-1.6zM188.0 48.0h1.6v1.6h-1.6zM175.9 36.9h1.6v1.6h-1.6zM188.6 40.5h1.6v1.6h-1.6zM164.8 39.5h1.6v1.6h-1.6zM192.3 47.3h1.6v1.6h-1.6zM169.1 39.5h1.6v1.6h-1.6zM172.1 43.2h1.6v1.6h-1.6zM199.5 50.5h1.6v1.6h-1.6zM200.9 57.5h1.6v1.6h-1.6zM189.2 44.3h1.6v1.6h-1.6zM200.8 60.3h1.6v1.6h-1.6zM175.4 33.4h1.6v1.6h-1.6zM189.6 40.0h1.6v1.6h-1.6zM185.2 46.3h1.6v1.6h-1.6zM204.7 56.7h1.6v1.6h-1.6zM173.3 34.5h1.6v1.6h-1.6zM196.4 43.0h1.6v1.6h-1.6zM167.1 50.6h1.6v1.6h-1.6zM174.8 29.6h1.6v1.6h-1.6zM174.2 44.6h1.6v1.6h-1.6zM169.2 41.2h1.6v1.6h-1.6zM175.2 47.1h1.6v1.6h-1.6zM165.7 39.0h1.6v1.6h-1.6zM178.5 44.7h1.6v1.6h-1.6zM174.9 34.1h1.6v1.6h-1.6zM194.8 48.5h1.6v1.6h-1.6zM184.6 40.3h1.6v1.6h-1.6zM189.1 39.0h1.6v1.6h-1.6zM197.9 52.9h1.6v1.6h-1.6zM172.7 38.2h1.6v1.6h-1.6zM165.8 41.1h1.6v1.6h-1.6zM195.6 45.1h1.6v1.6h-1.6zM203.0 60.9h1.6v1.6h-1.6zM176.1 45.0h1.6v1.6h-1.6zM166.8 42.6h1.6v1.6h-1.6zM163.8 46.0h1.6v1.6h-1.6zM194.7 49.9h1.6v1.6h-1.6zM173.2 30.3h1.6v1.6h-1.6zM173.1 36.9h1.6v1.6h-1.6zM170.9 31.5h1.6v1.6h-1.6zM196.8 43.5h1.6v1.6h-1.6zM167.0 39.7h1.6v1.6h-1.6zM165.8 37.4h1.6v1.6h-1.6zM189.1 42.6h1.6v1.6h-1.6zM197.1 51.6h1.6v1.6h-1.6zM179.8 30.1h1.6v1.6h-1.6zM187.1 45.4h1.6v1.6h-1.6zM182.3 33.3h1.6v1.6h-1.6zM192.6 47.8h1.6v1.6h-1.6zM176.1 35.8h1.6v1.6h-1.6zM178.9 40.0h1.6v1.6h-1.6zM184.0 47.1h1.6v1.6h-1.6zM169.6 39.3h1.6v1.6h-1.6zM163.6 36.5h1.6v1.6h-1.6zM172.6 43.3h1.6v1.6h-1.6zM162.8 35.2h1.6v1.6h-1.6zM196.9 47.9h1.6v1.6h-1.6zM165.4 32.0h1.6v1.6h-1.6zM166.6 32.1h1.6v1.6h-1.6zM170.2 38.6h1.6v1.6h-1.6zM193.7 44.6h1.6v1.6h-1.6z" fill="#6d7d8d"/>
<path d="M192.1 50.5h1.6v1.6h-1.6zM169.3 46.2h1.6v1.6h-1.6zM192.8 49.6h1.6v1.6h-1.6zM195.0 45.3h1.6v1.6h-1.6zM163.9 41.7h1.6v1.6h-1.6zM179.6 47.1h1.6v1.6h-1.6zM169.0 40.3h1.6v1.6h-1.6zM165.2 46.3h1.6v1.6h-1.6zM166.0 39.6h1.6v1.6h-1.6zM178.5 46.2h1.6v1.6h-1.6zM185.4 48.2h1.6v1.6h-1.6zM179.1 43.0h1.6v1.6h-1.6zM186.8 48.3h1.6v1.6h-1.6zM170.3 47.2h1.6v1.6h-1.6zM187.5 44.2h1.6v1.6h-1.6zM169.9 42.9h1.6v1.6h-1.6zM191.1 50.2h1.6v1.6h-1.6zM185.3 48.8h1.6v1.6h-1.6zM162.7 37.8h1.6v1.6h-1.6zM169.5 47.6h1.6v1.6h-1.6zM196.6 47.1h1.6v1.6h-1.6zM168.3 49.9h1.6v1.6h-1.6zM167.4 44.9h1.6v1.6h-1.6zM195.0 51.8h1.6v1.6h-1.6zM182.3 50.2h1.6v1.6h-1.6zM180.3 46.7h1.6v1.6h-1.6zM183.8 49.8h1.6v1.6h-1.6zM164.1 37.1h1.6v1.6h-1.6zM181.9 41.1h1.6v1.6h-1.6zM192.7 50.0h1.6v1.6h-1.6zM185.9 39.7h1.6v1.6h-1.6zM188.9 50.6h1.6v1.6h-1.6zM175.2 41.3h1.6v1.6h-1.6zM164.0 38.1h1.6v1.6h-1.6zM187.5 46.4h1.6v1.6h-1.6zM181.0 43.9h1.6v1.6h-1.6zM176.7 46.6h1.6v1.6h-1.6zM189.0 49.7h1.6v1.6h-1.6zM195.9 50.4h1.6v1.6h-1.6zM187.1 50.6h1.6v1.6h-1.6zM177.6 51.1h1.6v1.6h-1.6zM178.0 48.2h1.6v1.6h-1.6zM170.8 41.3h1.6v1.6h-1.6zM174.4 41.7h1.6v1.6h-1.6zM164.8 43.7h1.6v1.6h-1.6zM196.6 49.2h1.6v1.6h-1.6zM170.7 43.2h1.6v1.6h-1.6zM162.0 40.1h1.6v1.6h-1.6zM194.9 51.9h1.6v1.6h-1.6zM173.7 49.3h1.6v1.6h-1.6zM190.6 51.3h1.6v1.6h-1.6zM191.4 45.2h1.6v1.6h-1.6zM173.1 46.9h1.6v1.6h-1.6zM175.2 45.3h1.6v1.6h-1.6zM181.4 47.2h1.6v1.6h-1.6zM176.7 51.7h1.6v1.6h-1.6zM164.6 39.8h1.6v1.6h-1.6zM172.1 51.6h1.6v1.6h-1.6zM161.7 40.6h1.6v1.6h-1.6zM167.9 43.6h1.6v1.6h-1.6zM187.3 47.9h1.6v1.6h-1.6zM189.5 49.0h1.6v1.6h-1.6zM170.6 40.6h1.6v1.6h-1.6zM169.2 40.6h1.6v1.6h-1.6zM183.7 47.4h1.6v1.6h-1.6zM183.9 48.0h1.6v1.6h-1.6zM174.9 38.6h1.6v1.6h-1.6zM165.5 44.6h1.6v1.6h-1.6zM171.6 49.3h1.6v1.6h-1.6zM168.0 37.9h1.6v1.6h-1.6zM172.7 43.2h1.6v1.6h-1.6zM187.4 43.8h1.6v1.6h-1.6zM193.7 49.8h1.6v1.6h-1.6zM186.7 40.9h1.6v1.6h-1.6zM161.6 39.4h1.6v1.6h-1.6zM186.3 46.2h1.6v1.6h-1.6zM166.7 37.9h1.6v1.6h-1.6zM186.0 45.9h1.6v1.6h-1.6zM169.7 37.3h1.6v1.6h-1.6zM175.0 48.5h1.6v1.6h-1.6zM170.8 42.4h1.6v1.6h-1.6zM170.6 49.7h1.6v1.6h-1.6zM172.0 42.7h1.6v1.6h-1.6zM168.6 39.9h1.6v1.6h-1.6zM175.8 42.4h1.6v1.6h-1.6zM185.6 44.2h1.6v1.6h-1.6zM186.4 50.4h1.6v1.6h-1.6zM178.7 48.3h1.6v1.6h-1.6zM164.8 38.2h1.6v1.6h-1.6zM179.4 39.2h1.6v1.6h-1.6zM170.0 43.7h1.6v1.6h-1.6zM165.7 37.4h1.6v1.6h-1.6zM174.9 44.2h1.6v1.6h-1.6zM163.9 40.0h1.6v1.6h-1.6zM189.5 45.8h1.6v1.6h-1.6zM194.3 52.6h1.6v1.6h-1.6zM170.3 39.1h1.6v1.6h-1.6zM164.4 40.7h1.6v1.6h-1.6zM178.4 41.6h1.6v1.6h-1.6zM169.0 47.5h1.6v1.6h-1.6zM174.9 38.2h1.6v1.6h-1.6zM186.0 44.9h1.6v1.6h-1.6zM189.3 45.3h1.6v1.6h-1.6zM170.1 44.7h1.6v1.6h-1.6zM184.2 47.3h1.6v1.6h-1.6zM197.1 48.8h1.6v1.6h-1.6zM169.8 46.4h1.6v1.6h-1.6zM177.9 38.6h1.6v1.6h-1.6zM168.5 48.9h1.6v1.6h-1.6zM176.5 47.7h1.6v1.6h-1.6zM170.1 44.3h1.6v1.6h-1.6zM184.8 39.9h1.6v1.6h-1.6zM173.4 43.1h1.6v1.6h-1.6zM174.2 47.6h1.6v1.6h-1.6zM162.1 42.6h1.6v1.6h-1.6zM171.0 43.9h1.6v1.6h-1.6zM182.6 48.3h1.6v1.6h-1.6zM166.4 40.3h1.6v1.6h-1.6zM166.9 38.5h1.6v1.6h-1.6zM181.0 46.1h1.6v1.6h-1.6zM170.1 39.0h1.6v1.6h-1.6zM183.5 43.9h1.6v1.6h-1.6zM176.7 51.3h1.6v1.6h-1.6zM186.3 50.8h1.6v1.6h-1.6zM165.2 36.5h1.6v1.6h-1.6zM172.2 41.1h1.6v1.6h-1.6zM197.9 51.0h1.6v1.6h-1.6zM177.2 45.2h1.6v1.6h-1.6zM193.5 49.9h1.6v1.6h-1.6zM186.0 44.9h1.6v1.6h-1.6zM165.6 40.3h1.6v1.6h-1.6zM186.2 46.2h1.6v1.6h-1.6zM191.6 51.5h1.6v1.6h-1.6zM182.9 39.3h1.6v1.6h-1.6zM187.5 40.5h1.6v1.6h-1.6zM170.2 42.4h1.6v1.6h-1.6zM181.1 47.7h1.6v1.6h-1.6zM184.9 44.2h1.6v1.6h-1.6zM186.7 49.8h1.6v1.6h-1.6zM187.0 48.3h1.6v1.6h-1.6zM197.6 49.6h1.6v1.6h-1.6zM170.1 43.5h1.6v1.6h-1.6zM189.1 42.3h1.6v1.6h-1.6zM186.4 49.2h1.6v1.6h-1.6zM166.0 40.0h1.6v1.6h-1.6zM169.4 40.7h1.6v1.6h-1.6zM162.6 38.5h1.6v1.6h-1.6zM176.6 43.4h1.6v1.6h-1.6zM164.2 46.1h1.6v1.6h-1.6zM174.7 48.2h1.6v1.6h-1.6zM177.8 39.2h1.6v1.6h-1.6zM190.3 50.4h1.6v1.6h-1.6zM185.6 47.0h1.6v1.6h-1.6zM168.7 49.2h1.6v1.6h-1.6zM172.6 40.5h1.6v1.6h-1.6zM192.4 46.4h1.6v1.6h-1.6zM193.5 51.1h1.6v1.6h-1.6zM183.6 39.6h1.6v1.6h-1.6zM188.8 40.8h1.6v1.6h-1.6zM167.8 48.0h1.6v1.6h-1.6zM171.3 48.3h1.6v1.6h-1.6zM173.9 45.1h1.6v1.6h-1.6zM173.4 43.3h1.6v1.6h-1.6zM179.4 40.6h1.6v1.6h-1.6zM163.3 37.6h1.6v1.6h-1.6zM167.4 37.8h1.6v1.6h-1.6zM184.9 48.0h1.6v1.6h-1.6zM171.2 49.7h1.6v1.6h-1.6zM188.9 42.0h1.6v1.6h-1.6zM179.9 39.4h1.6v1.6h-1.6zM163.1 38.8h1.6v1.6h-1.6zM187.5 42.7h1.6v1.6h-1.6z" fill="#6d7d8d"/>
<path d="M173.0 58.0h1.6v1.6h-1.6zM177.0 54.9h1.6v1.6h-1.6zM197.4 53.8h1.6v1.6h-1.6zM200.1 60.7h1.6v1.6h-1.6zM177.5 54.7h1.6v1.6h-1.6zM199.1 63.4h1.6v1.6h-1.6zM174.3 62.0h1.6v1.6h-1.6zM199.7 56.5h1.6v1.6h-1.6zM176.3 68.1h1.6v1.6h-1.6zM174.4 64.4h1.6v1.6h-1.6zM197.3 64.7h1.6v1.6h-1.6zM179.6 70.1h1.6v1.6h-1.6zM193.6 50.8h1.6v1.6h-1.6zM199.4 62.6h1.6v1.6h-1.6zM175.0 63.8h1.6v1.6h-1.6zM175.8 65.6h1.6v1.6h-1.6zM200.1 61.6h1.6v1.6h-1.6zM173.8 62.2h1.6v1.6h-1.6zM200.1 57.9h1.6v1.6h-1.6zM175.1 55.6h1.6v1.6h-1.6zM174.2 57.9h1.6v1.6h-1.6zM176.5 54.2h1.6v1.6h-1.6zM194.1 67.8h1.6v1.6h-1.6zM195.3 51.7h1.6v1.6h-1.6zM197.8 53.0h1.6v1.6h-1.6zM180.4 71.7h1.6v1.6h-1.6zM187.0 51.5h1.6v1.6h-1.6zM184.4 73.0h1.6v1.6h-1.6zM198.7 55.3h1.6v1.6h-1.6zM180.1 71.1h1.6v1.6h-1.6zM173.5 58.0h1.6v1.6h-1.6zM175.0 54.4h1.6v1.6h-1.6zM196.5 52.1h1.6v1.6h-1.6zM182.6 72.7h1.6v1.6h-1.6zM173.6 61.8h1.6v1.6h-1.6zM194.3 68.3h1.6v1.6h-1.6zM173.9 58.3h1.6v1.6h-1.6zM191.0 70.8h1.6v1.6h-1.6zM186.7 51.7h1.6v1.6h-1.6zM174.5 65.6h1.6v1.6h-1.6z" fill="#6d7d8d"/>
<path d="M203.5 55.3h1.5v1.5h-1.5zM191.3 34.4h1.5v1.5h-1.5zM162.0 41.6h1.5v1.5h-1.5zM173.0 29.0h1.5v1.5h-1.5zM192.8 70.2h1.5v1.5h-1.5zM165.3 31.9h1.5v1.5h-1.5zM175.1 65.6h1.5v1.5h-1.5zM167.2 30.3h1.5v1.5h-1.5zM168.6 31.1h1.5v1.5h-1.5zM162.8 32.4h1.5v1.5h-1.5zM174.8 66.4h1.5v1.5h-1.5zM169.8 28.9h1.5v1.5h-1.5zM177.7 27.9h1.5v1.5h-1.5zM172.7 57.3h1.5v1.5h-1.5zM179.2 28.0h1.5v1.5h-1.5zM201.1 52.1h1.5v1.5h-1.5zM172.2 28.7h1.5v1.5h-1.5zM160.7 43.3h1.5v1.5h-1.5zM188.6 33.2h1.5v1.5h-1.5zM168.5 51.0h1.5v1.5h-1.5zM204.3 56.9h1.5v1.5h-1.5zM194.4 68.8h1.5v1.5h-1.5zM204.6 56.1h1.5v1.5h-1.5zM177.8 70.0h1.5v1.5h-1.5zM181.4 28.7h1.5v1.5h-1.5zM170.3 30.4h1.5v1.5h-1.5zM196.2 41.1h1.5v1.5h-1.5zM188.6 32.4h1.5v1.5h-1.5zM160.3 40.5h1.5v1.5h-1.5zM171.8 55.1h1.5v1.5h-1.5zM179.0 28.0h1.5v1.5h-1.5zM196.5 41.4h1.5v1.5h-1.5zM199.7 51.7h1.5v1.5h-1.5zM171.2 54.0h1.5v1.5h-1.5zM161.6 37.8h1.5v1.5h-1.5zM193.3 68.3h1.5v1.5h-1.5zM162.3 45.6h1.5v1.5h-1.5zM173.1 54.9h1.5v1.5h-1.5zM189.7 33.4h1.5v1.5h-1.5zM198.4 45.7h1.5v1.5h-1.5z" fill="#6d7d8d"/>
<path d="M200.8 62.1h1.5v1.5h-1.5zM202.5 60.2h1.5v1.5h-1.5zM201.0 62.2h1.5v1.5h-1.5zM205.4 61.0h1.5v1.5h-1.5zM206.1 57.5h1.5v1.5h-1.5zM204.7 58.4h1.5v1.5h-1.5zM206.4 56.7h1.5v1.5h-1.5zM203.7 58.1h1.5v1.5h-1.5zM206.2 58.2h1.5v1.5h-1.5zM204.9 60.3h1.5v1.5h-1.5zM199.2 61.8h1.5v1.5h-1.5zM203.7 58.9h1.5v1.5h-1.5zM201.8 61.2h1.5v1.5h-1.5zM200.7 58.1h1.5v1.5h-1.5zM206.0 57.3h1.5v1.5h-1.5zM205.5 57.1h1.5v1.5h-1.5zM203.0 58.6h1.5v1.5h-1.5zM201.6 60.2h1.5v1.5h-1.5zM206.9 59.0h1.5v1.5h-1.5zM201.6 61.9h1.5v1.5h-1.5zM204.0 56.5h1.5v1.5h-1.5zM204.1 61.6h1.5v1.5h-1.5zM203.5 59.1h1.5v1.5h-1.5zM202.5 61.9h1.5v1.5h-1.5z" fill="#a3bad7"/>
<path d="M204.7 41.0h1.9v1.9h-1.9zM205.0 39.5h1.9v1.9h-1.9zM205.6 38.0h1.9v1.9h-1.9zM206.6 36.5h1.9v1.9h-1.9zM207.6 35.5h1.9v1.9h-1.9zM208.6 36.2h1.9v1.9h-1.9zM209.7 36.8h1.9v1.9h-1.9zM210.8 37.0h1.9v1.9h-1.9zM211.9 36.5h1.9v1.9h-1.9zM213.0 36.0h1.9v1.9h-1.9zM214.1 35.6h1.9v1.9h-1.9zM215.2 35.2h1.9v1.9h-1.9zM216.4 34.8h1.9v1.9h-1.9zM217.4 34.2h1.9v1.9h-1.9zM218.2 33.3h1.9v1.9h-1.9zM219.0 32.2h1.9v1.9h-1.9zM219.6 31.1h1.9v1.9h-1.9zM208.5 34.6h1.9v1.9h-1.9zM213.1 37.3h1.9v1.9h-1.9zM206.2 38.8h1.9v1.9h-1.9zM207.4 34.3h1.9v1.9h-1.9zM209.6 34.8h1.9v1.9h-1.9zM211.6 38.0h1.9v1.9h-1.9zM214.6 37.0h1.9v1.9h-1.9zM217.1 36.0h1.9v1.9h-1.9zM218.9 34.8h1.9v1.9h-1.9zM205.4 40.5h1.9v1.9h-1.9zM204.1 39.0h1.9v1.9h-1.9zM215.6 33.8h1.9v1.9h-1.9z" fill="#d96c2b"/>
<path d="M220.2 30.6h1.2v1.2h-1.2z" fill="#a3bad7"/>
<path d="M186.2 28.3h1.4v1.4h-1.4zM188.3 32.0h1.4v1.4h-1.4zM187.9 30.6h1.4v1.4h-1.4z" fill="#d96c2b"/>
<path d="M245.7 64.4h1.4v1.4h-1.4zM226.8 104.9h1.4v1.4h-1.4zM200.0 126.5h1.4v1.4h-1.4z" fill="#6d7d8d"/>
<path d="M294.1 39.0C294.2 37.6 294.4 36.1 294.8 34.9C295.2 33.6 295.8 32.4 296.8 31.5C297.8 30.6 299.3 30.0 300.9 29.5C302.5 29.0 304.6 28.7 306.4 28.4C308.2 28.1 310.0 27.9 311.8 27.8C313.6 27.7 315.6 27.6 317.3 27.8C319.0 28.0 320.7 28.6 322.1 29.2C323.5 29.8 324.4 30.6 325.5 31.5C326.6 32.5 327.9 33.6 328.9 34.9C329.9 36.1 330.9 37.6 331.5 39.0C332.1 40.4 332.4 41.8 332.5 43.1C332.6 44.4 331.8 45.5 332.0 47.0C332.2 48.5 333.3 50.5 333.5 52.0C333.7 53.5 333.9 54.9 333.0 56.0C332.1 57.1 330.2 57.9 328.0 58.5C325.8 59.1 322.7 59.5 320.0 59.5C317.3 59.5 313.8 58.7 312.0 58.5C310.2 58.3 309.9 58.9 309.1 58.1C308.3 57.4 308.0 55.0 307.1 54.0C306.2 53.0 304.6 52.1 303.6 52.0C302.6 51.9 301.8 53.3 300.9 53.3C300.0 53.3 299.0 52.9 298.2 52.0C297.4 51.1 296.7 49.4 296.1 47.9C295.5 46.4 294.7 44.6 294.4 43.1C294.1 41.6 294.0 40.4 294.1 39.0Z" fill="#6d7d8d"/>
<path d="M335.1 55.7h1.6v1.6h-1.6zM316.1 60.8h1.6v1.6h-1.6zM324.2 65.3h1.6v1.6h-1.6zM333.0 49.7h1.6v1.6h-1.6zM326.4 62.8h1.6v1.6h-1.6zM315.2 64.0h1.6v1.6h-1.6zM315.6 65.4h1.6v1.6h-1.6zM320.8 60.1h1.6v1.6h-1.6zM319.6 64.3h1.6v1.6h-1.6zM323.9 66.8h1.6v1.6h-1.6zM330.3 57.0h1.6v1.6h-1.6zM333.4 43.5h1.6v1.6h-1.6zM325.3 66.1h1.6v1.6h-1.6zM330.4 59.6h1.6v1.6h-1.6zM332.4 60.0h1.6v1.6h-1.6zM333.8 53.3h1.6v1.6h-1.6zM317.3 65.0h1.6v1.6h-1.6zM325.9 62.4h1.6v1.6h-1.6zM331.4 58.0h1.6v1.6h-1.6zM319.3 67.2h1.6v1.6h-1.6zM322.6 66.9h1.6v1.6h-1.6zM308.6 57.4h1.6v1.6h-1.6zM312.5 59.6h1.6v1.6h-1.6zM333.2 50.1h1.6v1.6h-1.6zM332.7 59.6h1.6v1.6h-1.6zM327.7 60.8h1.6v1.6h-1.6zM336.5 55.3h1.6v1.6h-1.6zM333.9 58.2h1.6v1.6h-1.6zM318.3 64.4h1.6v1.6h-1.6zM328.6 58.3h1.6v1.6h-1.6zM313.2 62.6h1.6v1.6h-1.6zM332.8 52.2h1.6v1.6h-1.6zM335.6 58.8h1.6v1.6h-1.6zM313.5 60.9h1.6v1.6h-1.6zM331.9 42.1h1.6v1.6h-1.6zM334.6 55.2h1.6v1.6h-1.6zM323.1 65.2h1.6v1.6h-1.6zM336.6 54.9h1.6v1.6h-1.6zM319.0 61.0h1.6v1.6h-1.6zM319.0 60.0h1.6v1.6h-1.6zM322.5 61.4h1.6v1.6h-1.6zM333.6 51.9h1.6v1.6h-1.6zM315.6 65.6h1.6v1.6h-1.6zM333.0 56.1h1.6v1.6h-1.6zM334.0 60.6h1.6v1.6h-1.6zM332.9 59.4h1.6v1.6h-1.6zM335.6 53.5h1.6v1.6h-1.6zM334.6 50.3h1.6v1.6h-1.6zM324.2 60.7h1.6v1.6h-1.6zM309.0 58.1h1.6v1.6h-1.6zM322.5 66.8h1.6v1.6h-1.6zM328.0 57.4h1.6v1.6h-1.6zM324.3 63.9h1.6v1.6h-1.6zM309.5 58.4h1.6v1.6h-1.6zM328.0 60.4h1.6v1.6h-1.6zM327.2 61.7h1.6v1.6h-1.6zM334.9 42.2h1.6v1.6h-1.6zM335.0 41.9h1.6v1.6h-1.6zM313.2 61.3h1.6v1.6h-1.6zM335.2 55.1h1.6v1.6h-1.6zM320.2 59.1h1.6v1.6h-1.6zM312.6 61.2h1.6v1.6h-1.6zM312.5 61.2h1.6v1.6h-1.6zM332.5 41.0h1.6v1.6h-1.6zM333.7 60.4h1.6v1.6h-1.6zM334.9 42.2h1.6v1.6h-1.6zM325.8 63.1h1.6v1.6h-1.6zM333.3 46.4h1.6v1.6h-1.6zM315.4 59.4h1.6v1.6h-1.6zM330.9 59.4h1.6v1.6h-1.6zM322.9 60.6h1.6v1.6h-1.6zM315.3 61.5h1.6v1.6h-1.6zM309.5 59.5h1.6v1.6h-1.6zM323.7 59.1h1.6v1.6h-1.6zM312.4 58.7h1.6v1.6h-1.6zM332.2 43.8h1.6v1.6h-1.6zM317.1 60.3h1.6v1.6h-1.6zM321.5 61.3h1.6v1.6h-1.6zM310.4 58.1h1.6v1.6h-1.6zM312.5 58.4h1.6v1.6h-1.6zM334.5 43.8h1.6v1.6h-1.6zM319.4 62.6h1.6v1.6h-1.6zM332.2 38.3h1.6v1.6h-1.6zM335.4 59.0h1.6v1.6h-1.6zM331.6 38.0h1.6v1.6h-1.6zM328.1 61.7h1.6v1.6h-1.6zM317.3 60.5h1.6v1.6h-1.6zM318.3 59.1h1.6v1.6h-1.6zM333.5 60.5h1.6v1.6h-1.6zM333.8 42.3h1.6v1.6h-1.6zM324.1 65.4h1.6v1.6h-1.6zM334.2 59.0h1.6v1.6h-1.6zM323.1 63.8h1.6v1.6h-1.6zM312.7 59.7h1.6v1.6h-1.6zM311.3 62.0h1.6v1.6h-1.6zM311.7 61.5h1.6v1.6h-1.6zM323.7 66.8h1.6v1.6h-1.6zM333.8 50.3h1.6v1.6h-1.6zM333.1 50.3h1.6v1.6h-1.6zM325.0 66.9h1.6v1.6h-1.6zM324.0 66.0h1.6v1.6h-1.6zM321.6 60.0h1.6v1.6h-1.6zM334.9 59.1h1.6v1.6h-1.6zM329.1 60.8h1.6v1.6h-1.6zM326.7 58.9h1.6v1.6h-1.6zM320.9 61.3h1.6v1.6h-1.6zM323.1 62.0h1.6v1.6h-1.6zM322.2 63.0h1.6v1.6h-1.6zM324.4 59.3h1.6v1.6h-1.6zM330.9 37.6h1.6v1.6h-1.6zM315.2 58.7h1.6v1.6h-1.6z" fill="#6d7d8d"/>
<path d="M304.0 27.9h1.5v1.5h-1.5zM293.4 39.2h1.5v1.5h-1.5zM326.0 32.6h1.5v1.5h-1.5zM296.2 49.2h1.5v1.5h-1.5zM300.6 28.8h1.5v1.5h-1.5zM308.4 56.3h1.5v1.5h-1.5zM314.3 52.6h1.5v1.5h-1.5zM326.0 42.7h1.5v1.5h-1.5zM330.4 37.6h1.5v1.5h-1.5zM295.8 47.0h1.5v1.5h-1.5zM294.9 45.8h1.5v1.5h-1.5zM293.2 42.0h1.5v1.5h-1.5zM295.2 46.3h1.5v1.5h-1.5zM297.2 51.0h1.5v1.5h-1.5zM292.9 39.3h1.5v1.5h-1.5zM299.7 51.9h1.5v1.5h-1.5zM325.4 31.9h1.5v1.5h-1.5zM310.0 27.5h1.5v1.5h-1.5zM329.6 39.4h1.5v1.5h-1.5zM308.2 27.7h1.5v1.5h-1.5zM308.7 57.7h1.5v1.5h-1.5zM293.2 40.6h1.5v1.5h-1.5zM325.8 31.7h1.5v1.5h-1.5zM320.5 46.3h1.5v1.5h-1.5zM294.4 43.9h1.5v1.5h-1.5zM325.3 30.7h1.5v1.5h-1.5zM295.7 31.5h1.5v1.5h-1.5zM320.3 47.2h1.5v1.5h-1.5zM293.4 40.1h1.5v1.5h-1.5zM323.8 30.0h1.5v1.5h-1.5zM305.7 28.2h1.5v1.5h-1.5zM319.6 47.7h1.5v1.5h-1.5zM329.4 35.6h1.5v1.5h-1.5zM320.6 28.2h1.5v1.5h-1.5zM329.9 37.9h1.5v1.5h-1.5zM322.1 46.0h1.5v1.5h-1.5zM294.5 32.6h1.5v1.5h-1.5zM323.1 30.1h1.5v1.5h-1.5zM296.2 49.5h1.5v1.5h-1.5zM305.8 53.0h1.5v1.5h-1.5zM324.0 44.0h1.5v1.5h-1.5zM293.8 33.6h1.5v1.5h-1.5zM313.4 52.8h1.5v1.5h-1.5zM325.8 32.5h1.5v1.5h-1.5zM302.3 51.8h1.5v1.5h-1.5zM295.6 31.7h1.5v1.5h-1.5zM314.8 52.3h1.5v1.5h-1.5zM294.3 33.7h1.5v1.5h-1.5zM294.2 34.7h1.5v1.5h-1.5zM317.1 50.3h1.5v1.5h-1.5z" fill="#6d7d8d"/>
<path d="M330.1 63.0h1.5v1.5h-1.5zM335.5 50.3h1.5v1.5h-1.5zM331.2 50.4h1.5v1.5h-1.5zM329.0 56.4h1.5v1.5h-1.5zM331.3 51.0h1.5v1.5h-1.5zM328.0 60.1h1.5v1.5h-1.5zM325.8 65.6h1.5v1.5h-1.5zM334.6 40.9h1.5v1.5h-1.5zM326.2 66.3h1.5v1.5h-1.5zM334.5 45.5h1.5v1.5h-1.5zM335.6 53.4h1.5v1.5h-1.5zM335.0 40.0h1.5v1.5h-1.5zM332.8 47.4h1.5v1.5h-1.5zM329.0 56.2h1.5v1.5h-1.5zM335.9 53.4h1.5v1.5h-1.5zM336.2 57.2h1.5v1.5h-1.5zM335.2 59.5h1.5v1.5h-1.5zM327.2 65.3h1.5v1.5h-1.5zM334.2 40.0h1.5v1.5h-1.5zM333.6 39.8h1.5v1.5h-1.5zM331.5 46.4h1.5v1.5h-1.5zM325.9 66.7h1.5v1.5h-1.5zM330.0 53.1h1.5v1.5h-1.5zM335.1 52.1h1.5v1.5h-1.5zM326.7 66.6h1.5v1.5h-1.5zM328.7 64.7h1.5v1.5h-1.5zM329.9 52.9h1.5v1.5h-1.5zM329.4 63.8h1.5v1.5h-1.5zM336.6 54.7h1.5v1.5h-1.5zM330.5 53.6h1.5v1.5h-1.5z" fill="#6d7d8d"/>
<path d="M319.3 54.1h1.0v1.0h-1.0zM324.2 49.4h1.0v1.0h-1.0zM321.3 52.9h1.0v1.0h-1.0zM325.5 49.3h1.0v1.0h-1.0z" fill="#fff"/>
<path d="M326.7 40.9h1.0v1.0h-1.0zM325.2 41.0h1.0v1.0h-1.0zM329.6 43.3h1.0v1.0h-1.0zM325.7 44.8h1.0v1.0h-1.0zM325.3 45.0h1.0v1.0h-1.0zM325.5 38.5h1.0v1.0h-1.0z" fill="#fff"/>
<path d="M321.9 28.8h1.5v1.5h-1.5zM324.4 30.4h1.5v1.5h-1.5zM326.8 32.5h1.5v1.5h-1.5zM328.9 34.9h1.5v1.5h-1.5zM327.2 36.8h1.5v1.5h-1.5zM330.2 38.8h1.5v1.5h-1.5zM332.9 41.0h1.5v1.5h-1.5zM298.8 45.8h1.5v1.5h-1.5zM326.8 44.4h1.5v1.5h-1.5zM330.2 49.9h1.5v1.5h-1.5zM334.2 55.4h1.5v1.5h-1.5z" fill="#d96c2b"/>
<path d="M337.9 37.9h1.7v1.7h-1.7zM338.1 40.8h1.7v1.7h-1.7zM345.5 36.1h1.7v1.7h-1.7zM341.3 35.9h1.7v1.7h-1.7zM338.7 35.5h1.7v1.7h-1.7zM339.9 40.9h1.7v1.7h-1.7zM335.4 40.4h1.7v1.7h-1.7zM345.0 36.0h1.7v1.7h-1.7zM341.5 37.4h1.7v1.7h-1.7zM338.5 38.0h1.7v1.7h-1.7zM338.9 41.0h1.7v1.7h-1.7zM343.9 38.3h1.7v1.7h-1.7zM340.4 36.5h1.7v1.7h-1.7zM336.6 40.8h1.7v1.7h-1.7zM341.8 34.7h1.7v1.7h-1.7zM335.5 39.3h1.7v1.7h-1.7zM337.8 38.1h1.7v1.7h-1.7zM344.3 36.6h1.7v1.7h-1.7zM340.6 39.1h1.7v1.7h-1.7zM337.3 38.8h1.7v1.7h-1.7zM337.2 39.4h1.7v1.7h-1.7zM341.0 35.3h1.7v1.7h-1.7zM343.9 34.7h1.7v1.7h-1.7zM343.6 37.6h1.7v1.7h-1.7zM345.4 36.6h1.7v1.7h-1.7zM345.0 35.5h1.7v1.7h-1.7zM336.4 40.5h1.7v1.7h-1.7zM341.8 34.7h1.7v1.7h-1.7zM345.7 34.7h1.7v1.7h-1.7zM338.6 39.2h1.7v1.7h-1.7zM339.7 39.7h1.7v1.7h-1.7zM339.4 40.1h1.7v1.7h-1.7zM340.3 40.2h1.7v1.7h-1.7zM338.5 38.1h1.7v1.7h-1.7zM335.4 37.7h1.7v1.7h-1.7zM336.0 40.6h1.7v1.7h-1.7zM342.6 37.2h1.7v1.7h-1.7zM345.7 34.6h1.7v1.7h-1.7zM345.3 37.3h1.7v1.7h-1.7zM345.3 36.0h1.7v1.7h-1.7zM341.6 35.0h1.7v1.7h-1.7zM335.6 39.3h1.7v1.7h-1.7zM340.6 37.7h1.7v1.7h-1.7z" fill="#d96c2b"/>
<path d="M338.9 35.4h1.5v1.5h-1.5zM338.0 42.0h1.5v1.5h-1.5zM335.8 41.1h1.5v1.5h-1.5zM342.2 33.9h1.5v1.5h-1.5zM345.8 36.3h1.5v1.5h-1.5zM343.9 38.2h1.5v1.5h-1.5zM345.6 37.8h1.5v1.5h-1.5zM335.0 38.1h1.5v1.5h-1.5zM335.6 37.3h1.5v1.5h-1.5zM343.7 33.8h1.5v1.5h-1.5zM346.6 35.2h1.5v1.5h-1.5zM335.2 40.1h1.5v1.5h-1.5zM335.9 40.9h1.5v1.5h-1.5zM340.0 40.9h1.5v1.5h-1.5zM343.3 34.3h1.5v1.5h-1.5zM340.4 34.5h1.5v1.5h-1.5z" fill="#d96c2b"/>
<path d="M346.9 37.1h1.7v1.7h-1.7zM347.9 36.8h1.7v1.7h-1.7zM348.9 36.1h1.7v1.7h-1.7zM349.8 35.4h1.7v1.7h-1.7zM350.6 34.6h1.7v1.7h-1.7zM351.4 33.8h1.7v1.7h-1.7zM352.1 32.8h1.7v1.7h-1.7zM352.6 31.8h1.7v1.7h-1.7zM352.9 30.6h1.7v1.7h-1.7zM352.8 29.5h1.7v1.7h-1.7zM347.6 37.8h1.7v1.7h-1.7zM349.6 36.9h1.7v1.7h-1.7zM351.1 35.5h1.7v1.7h-1.7zM352.3 34.1h1.7v1.7h-1.7z" fill="#d96c2b"/>
<path d="M345.3 39.7h1.4v1.4h-1.4zM337.3 54.8h1.4v1.4h-1.4zM338.3 56.3h1.4v1.4h-1.4zM339.3 57.8h1.4v1.4h-1.4zM340.3 59.3h1.4v1.4h-1.4zM339.8 55.8h1.4v1.4h-1.4z" fill="#a3bad7"/>
<path d="M378.6 63.7h1.6v1.6h-1.6zM383.5 63.0h1.6v1.6h-1.6zM384.7 65.7h1.6v1.6h-1.6z" fill="#a3bad7"/>
<path d="M360.1 105.6h1.2v1.2h-1.2zM311.2 116.3h1.2v1.2h-1.2zM311.8 119.4h1.2v1.2h-1.2z" fill="#6d7d8d"/>
<path d="M315.3 116.7h1.4v1.4h-1.4z" fill="#3b79b2"/>
<path d="M324.5 126.7h1.6v1.6h-1.6zM331.8 127.3h1.6v1.6h-1.6zM323.4 133.7h1.6v1.6h-1.6z" fill="#e3242f"/>
<path d="M328.2 132.1h1.6v1.6h-1.6z" fill="#e7776d"/>
<path d="M43.4 185.4C44.8 183.8 47.9 184.6 50.1 184.1C52.3 183.6 54.5 182.7 56.7 182.7C58.9 182.7 61.7 183.3 63.4 184.1C65.1 184.9 65.9 186.1 66.8 187.4C67.7 188.7 68.2 190.5 68.8 192.1C69.4 193.7 70.2 195.4 70.2 196.8C70.2 198.2 69.4 199.3 68.5 200.5C67.6 201.7 65.9 202.8 64.8 204.1C63.7 205.4 63.2 206.9 62.1 208.1C61.0 209.3 59.7 210.8 58.1 211.5C56.5 212.2 54.3 212.3 52.7 212.1C51.1 211.9 49.9 211.1 48.7 210.1C47.5 209.1 46.3 207.8 45.4 206.1C44.5 204.4 44.0 202.2 43.4 200.1C42.8 198.0 42.0 195.8 42.0 193.4C42.0 191.0 42.0 187.0 43.4 185.4Z" fill="#6d7d8d"/>
<path d="M36.0 181.7h1.6v1.6h-1.6zM37.8 170.9h1.6v1.6h-1.6zM52.6 171.9h1.6v1.6h-1.6zM44.0 183.8h1.6v1.6h-1.6zM46.6 182.9h1.6v1.6h-1.6zM40.9 187.1h1.6v1.6h-1.6zM42.4 168.7h1.6v1.6h-1.6zM39.0 177.6h1.6v1.6h-1.6zM47.9 172.7h1.6v1.6h-1.6zM54.4 170.6h1.6v1.6h-1.6zM59.0 171.6h1.6v1.6h-1.6zM38.5 181.6h1.6v1.6h-1.6zM52.6 180.8h1.6v1.6h-1.6zM53.9 171.1h1.6v1.6h-1.6zM55.2 181.6h1.6v1.6h-1.6zM30.6 171.7h1.6v1.6h-1.6zM52.1 173.8h1.6v1.6h-1.6zM39.6 192.6h1.6v1.6h-1.6zM35.6 177.9h1.6v1.6h-1.6zM35.9 174.8h1.6v1.6h-1.6zM34.6 175.8h1.6v1.6h-1.6zM42.8 184.0h1.6v1.6h-1.6zM44.8 178.4h1.6v1.6h-1.6zM37.6 174.1h1.6v1.6h-1.6zM32.0 177.8h1.6v1.6h-1.6zM51.6 180.9h1.6v1.6h-1.6zM39.3 179.3h1.6v1.6h-1.6zM40.6 181.8h1.6v1.6h-1.6zM55.9 171.2h1.6v1.6h-1.6zM31.0 173.5h1.6v1.6h-1.6zM39.7 190.0h1.6v1.6h-1.6zM46.7 177.0h1.6v1.6h-1.6zM43.1 168.2h1.6v1.6h-1.6zM33.3 175.1h1.6v1.6h-1.6zM40.7 178.4h1.6v1.6h-1.6zM43.5 174.5h1.6v1.6h-1.6zM39.3 173.5h1.6v1.6h-1.6zM50.0 174.2h1.6v1.6h-1.6zM36.3 177.0h1.6v1.6h-1.6zM30.0 180.5h1.6v1.6h-1.6zM57.3 171.0h1.6v1.6h-1.6zM45.9 173.1h1.6v1.6h-1.6zM56.1 180.5h1.6v1.6h-1.6zM34.7 173.5h1.6v1.6h-1.6zM45.6 171.8h1.6v1.6h-1.6zM34.0 177.6h1.6v1.6h-1.6zM42.3 184.5h1.6v1.6h-1.6zM51.2 170.7h1.6v1.6h-1.6zM42.1 172.7h1.6v1.6h-1.6zM44.4 181.6h1.6v1.6h-1.6zM43.1 180.6h1.6v1.6h-1.6zM65.2 182.1h1.6v1.6h-1.6zM51.9 182.5h1.6v1.6h-1.6zM61.9 179.9h1.6v1.6h-1.6zM32.7 174.9h1.6v1.6h-1.6zM33.4 172.4h1.6v1.6h-1.6zM29.6 176.8h1.6v1.6h-1.6zM61.0 173.0h1.6v1.6h-1.6zM35.6 189.9h1.6v1.6h-1.6zM62.8 183.0h1.6v1.6h-1.6zM31.0 171.7h1.6v1.6h-1.6zM42.3 177.9h1.6v1.6h-1.6zM47.5 169.6h1.6v1.6h-1.6zM68.2 198.9h1.6v1.6h-1.6zM34.2 181.7h1.6v1.6h-1.6zM34.3 185.2h1.6v1.6h-1.6zM40.4 168.7h1.6v1.6h-1.6zM50.7 179.7h1.6v1.6h-1.6zM53.6 179.7h1.6v1.6h-1.6zM48.1 179.0h1.6v1.6h-1.6zM54.3 174.5h1.6v1.6h-1.6zM49.1 174.0h1.6v1.6h-1.6zM42.6 179.9h1.6v1.6h-1.6zM39.5 167.3h1.6v1.6h-1.6zM52.1 182.4h1.6v1.6h-1.6zM55.8 170.4h1.6v1.6h-1.6zM57.6 181.8h1.6v1.6h-1.6zM35.1 169.6h1.6v1.6h-1.6zM50.9 178.5h1.6v1.6h-1.6zM52.7 172.7h1.6v1.6h-1.6zM36.8 184.7h1.6v1.6h-1.6zM58.3 172.1h1.6v1.6h-1.6zM44.1 166.9h1.6v1.6h-1.6zM46.8 176.8h1.6v1.6h-1.6zM37.7 169.5h1.6v1.6h-1.6zM57.5 171.0h1.6v1.6h-1.6zM38.3 186.0h1.6v1.6h-1.6zM35.8 184.3h1.6v1.6h-1.6zM57.8 180.7h1.6v1.6h-1.6zM61.7 174.4h1.6v1.6h-1.6zM36.8 187.1h1.6v1.6h-1.6zM42.6 176.2h1.6v1.6h-1.6zM37.5 181.7h1.6v1.6h-1.6zM41.7 187.6h1.6v1.6h-1.6zM30.7 185.6h1.6v1.6h-1.6zM55.0 175.2h1.6v1.6h-1.6zM29.4 177.4h1.6v1.6h-1.6zM49.6 167.8h1.6v1.6h-1.6zM41.4 193.7h1.6v1.6h-1.6zM54.9 180.2h1.6v1.6h-1.6zM50.9 167.0h1.6v1.6h-1.6zM43.1 181.9h1.6v1.6h-1.6zM50.3 176.7h1.6v1.6h-1.6zM59.8 176.3h1.6v1.6h-1.6zM42.4 181.5h1.6v1.6h-1.6zM46.9 171.9h1.6v1.6h-1.6zM60.5 181.3h1.6v1.6h-1.6zM32.3 170.5h1.6v1.6h-1.6zM41.9 171.7h1.6v1.6h-1.6zM38.5 191.6h1.6v1.6h-1.6zM45.3 178.3h1.6v1.6h-1.6zM36.2 178.0h1.6v1.6h-1.6zM50.0 168.8h1.6v1.6h-1.6zM41.5 190.5h1.6v1.6h-1.6zM44.1 166.1h1.6v1.6h-1.6zM34.4 171.2h1.6v1.6h-1.6zM39.8 183.4h1.6v1.6h-1.6zM39.8 177.1h1.6v1.6h-1.6zM42.4 184.8h1.6v1.6h-1.6zM43.9 180.7h1.6v1.6h-1.6zM29.3 176.6h1.6v1.6h-1.6zM34.0 180.5h1.6v1.6h-1.6zM44.6 169.2h1.6v1.6h-1.6zM36.2 181.8h1.6v1.6h-1.6zM39.8 192.1h1.6v1.6h-1.6zM56.7 176.7h1.6v1.6h-1.6zM44.8 170.6h1.6v1.6h-1.6zM61.7 174.4h1.6v1.6h-1.6zM34.7 178.7h1.6v1.6h-1.6zM59.9 175.6h1.6v1.6h-1.6zM51.0 173.8h1.6v1.6h-1.6zM39.1 172.7h1.6v1.6h-1.6zM32.3 181.9h1.6v1.6h-1.6zM32.8 176.0h1.6v1.6h-1.6zM39.0 192.7h1.6v1.6h-1.6zM50.8 181.5h1.6v1.6h-1.6zM60.2 175.9h1.6v1.6h-1.6zM61.8 178.0h1.6v1.6h-1.6zM43.8 167.3h1.6v1.6h-1.6zM41.8 170.9h1.6v1.6h-1.6zM48.9 169.3h1.6v1.6h-1.6zM36.2 186.2h1.6v1.6h-1.6zM40.7 182.0h1.6v1.6h-1.6zM37.6 182.8h1.6v1.6h-1.6zM45.5 183.5h1.6v1.6h-1.6zM63.0 181.2h1.6v1.6h-1.6zM44.2 178.6h1.6v1.6h-1.6zM40.3 188.1h1.6v1.6h-1.6zM32.3 184.8h1.6v1.6h-1.6zM65.5 182.2h1.6v1.6h-1.6zM39.7 172.9h1.6v1.6h-1.6zM49.5 168.4h1.6v1.6h-1.6zM35.4 187.8h1.6v1.6h-1.6zM48.3 171.0h1.6v1.6h-1.6zM35.9 177.0h1.6v1.6h-1.6zM34.8 189.3h1.6v1.6h-1.6zM48.4 172.5h1.6v1.6h-1.6zM33.5 186.7h1.6v1.6h-1.6zM36.8 178.7h1.6v1.6h-1.6zM54.1 170.4h1.6v1.6h-1.6zM32.3 183.7h1.6v1.6h-1.6zM47.4 180.9h1.6v1.6h-1.6zM34.1 170.9h1.6v1.6h-1.6zM31.3 178.0h1.6v1.6h-1.6zM34.0 175.9h1.6v1.6h-1.6zM33.8 176.2h1.6v1.6h-1.6zM55.8 169.7h1.6v1.6h-1.6zM33.6 177.4h1.6v1.6h-1.6zM52.9 176.9h1.6v1.6h-1.6zM55.3 174.3h1.6v1.6h-1.6zM52.9 180.6h1.6v1.6h-1.6zM54.9 179.2h1.6v1.6h-1.6zM39.6 189.2h1.6v1.6h-1.6zM50.9 176.2h1.6v1.6h-1.6zM43.7 177.6h1.6v1.6h-1.6zM56.9 181.3h1.6v1.6h-1.6zM35.7 182.6h1.6v1.6h-1.6zM53.1 170.8h1.6v1.6h-1.6zM38.1 177.7h1.6v1.6h-1.6zM40.7 187.1h1.6v1.6h-1.6zM67.0 200.6h1.6v1.6h-1.6zM31.0 171.7h1.6v1.6h-1.6zM32.8 187.0h1.6v1.6h-1.6zM62.3 181.5h1.6v1.6h-1.6zM52.7 174.3h1.6v1.6h-1.6zM42.7 172.8h1.6v1.6h-1.6zM48.1 168.2h1.6v1.6h-1.6zM49.3 169.8h1.6v1.6h-1.6zM57.9 173.9h1.6v1.6h-1.6zM40.4 185.1h1.6v1.6h-1.6zM58.4 176.4h1.6v1.6h-1.6zM35.6 188.0h1.6v1.6h-1.6zM56.0 169.1h1.6v1.6h-1.6zM41.7 170.0h1.6v1.6h-1.6zM50.5 174.4h1.6v1.6h-1.6zM57.6 171.9h1.6v1.6h-1.6zM30.1 182.0h1.6v1.6h-1.6zM59.5 178.2h1.6v1.6h-1.6zM39.6 184.7h1.6v1.6h-1.6zM44.0 169.6h1.6v1.6h-1.6zM39.8 176.2h1.6v1.6h-1.6zM56.5 181.5h1.6v1.6h-1.6zM50.2 170.8h1.6v1.6h-1.6zM43.9 169.5h1.6v1.6h-1.6zM60.3 182.5h1.6v1.6h-1.6zM42.5 166.5h1.6v1.6h-1.6zM55.9 169.5h1.6v1.6h-1.6zM55.1 168.9h1.6v1.6h-1.6zM36.5 181.4h1.6v1.6h-1.6zM61.1 179.2h1.6v1.6h-1.6zM31.7 180.9h1.6v1.6h-1.6zM43.8 183.6h1.6v1.6h-1.6zM40.5 189.8h1.6v1.6h-1.6zM48.7 172.5h1.6v1.6h-1.6zM35.2 189.0h1.6v1.6h-1.6zM35.2 177.9h1.6v1.6h-1.6z" fill="#6d7d8d"/>
<path d="M40.5 186.1h1.6v1.6h-1.6zM40.8 177.2h1.6v1.6h-1.6zM39.9 179.9h1.6v1.6h-1.6zM36.7 191.4h1.6v1.6h-1.6zM34.3 169.6h1.6v1.6h-1.6zM43.8 175.4h1.6v1.6h-1.6zM48.5 167.1h1.6v1.6h-1.6zM47.3 175.8h1.6v1.6h-1.6zM40.8 174.5h1.6v1.6h-1.6zM43.4 173.5h1.6v1.6h-1.6zM47.1 177.0h1.6v1.6h-1.6zM48.1 173.8h1.6v1.6h-1.6zM41.4 180.9h1.6v1.6h-1.6zM48.4 183.4h1.6v1.6h-1.6zM40.7 168.4h1.6v1.6h-1.6zM32.2 170.0h1.6v1.6h-1.6zM34.1 171.0h1.6v1.6h-1.6zM46.9 175.1h1.6v1.6h-1.6zM35.8 170.9h1.6v1.6h-1.6zM33.1 184.2h1.6v1.6h-1.6zM44.6 172.8h1.6v1.6h-1.6zM40.6 182.2h1.6v1.6h-1.6zM46.7 177.8h1.6v1.6h-1.6zM31.6 175.8h1.6v1.6h-1.6zM46.3 168.4h1.6v1.6h-1.6zM39.2 176.0h1.6v1.6h-1.6zM42.9 172.8h1.6v1.6h-1.6zM34.8 169.5h1.6v1.6h-1.6zM47.5 179.6h1.6v1.6h-1.6zM52.5 182.4h1.6v1.6h-1.6zM45.7 177.7h1.6v1.6h-1.6zM40.5 170.0h1.6v1.6h-1.6zM43.8 173.4h1.6v1.6h-1.6zM37.0 181.4h1.6v1.6h-1.6zM36.6 188.1h1.6v1.6h-1.6zM34.8 183.3h1.6v1.6h-1.6zM44.0 174.7h1.6v1.6h-1.6zM31.3 179.0h1.6v1.6h-1.6zM34.6 171.0h1.6v1.6h-1.6zM37.4 187.4h1.6v1.6h-1.6zM35.4 182.9h1.6v1.6h-1.6zM48.1 179.3h1.6v1.6h-1.6zM32.2 178.6h1.6v1.6h-1.6zM44.1 177.2h1.6v1.6h-1.6zM42.7 167.2h1.6v1.6h-1.6zM52.8 181.5h1.6v1.6h-1.6zM38.5 173.6h1.6v1.6h-1.6zM51.7 176.1h1.6v1.6h-1.6zM45.3 180.7h1.6v1.6h-1.6zM48.8 170.4h1.6v1.6h-1.6zM44.3 166.6h1.6v1.6h-1.6zM46.7 182.3h1.6v1.6h-1.6zM43.1 166.4h1.6v1.6h-1.6zM51.5 178.7h1.6v1.6h-1.6zM35.0 176.9h1.6v1.6h-1.6zM31.2 181.5h1.6v1.6h-1.6zM35.0 184.7h1.6v1.6h-1.6zM33.8 184.4h1.6v1.6h-1.6zM47.4 176.6h1.6v1.6h-1.6zM49.6 182.0h1.6v1.6h-1.6zM36.2 190.2h1.6v1.6h-1.6zM38.2 187.9h1.6v1.6h-1.6zM50.6 178.1h1.6v1.6h-1.6zM39.8 187.2h1.6v1.6h-1.6zM46.7 180.4h1.6v1.6h-1.6zM29.6 178.4h1.6v1.6h-1.6zM35.2 169.7h1.6v1.6h-1.6zM40.2 181.9h1.6v1.6h-1.6zM42.8 180.4h1.6v1.6h-1.6zM41.5 177.0h1.6v1.6h-1.6zM47.6 169.1h1.6v1.6h-1.6zM49.5 180.5h1.6v1.6h-1.6zM38.6 168.7h1.6v1.6h-1.6zM31.7 180.4h1.6v1.6h-1.6zM34.1 186.0h1.6v1.6h-1.6zM50.8 178.8h1.6v1.6h-1.6zM38.2 179.7h1.6v1.6h-1.6zM48.6 178.0h1.6v1.6h-1.6zM37.3 189.1h1.6v1.6h-1.6zM39.7 177.2h1.6v1.6h-1.6zM35.2 178.9h1.6v1.6h-1.6zM48.1 175.7h1.6v1.6h-1.6zM46.9 179.2h1.6v1.6h-1.6zM36.9 180.6h1.6v1.6h-1.6zM30.9 171.5h1.6v1.6h-1.6zM33.3 188.7h1.6v1.6h-1.6zM43.0 167.2h1.6v1.6h-1.6zM36.5 179.6h1.6v1.6h-1.6zM33.9 174.2h1.6v1.6h-1.6zM35.4 181.9h1.6v1.6h-1.6zM32.2 179.9h1.6v1.6h-1.6zM46.5 168.5h1.6v1.6h-1.6zM43.8 174.3h1.6v1.6h-1.6zM49.1 182.4h1.6v1.6h-1.6zM53.5 182.2h1.6v1.6h-1.6zM34.1 171.0h1.6v1.6h-1.6zM30.9 177.1h1.6v1.6h-1.6zM36.8 178.5h1.6v1.6h-1.6zM52.5 180.9h1.6v1.6h-1.6zM36.6 182.5h1.6v1.6h-1.6zM39.2 178.7h1.6v1.6h-1.6zM43.4 183.8h1.6v1.6h-1.6zM33.7 188.3h1.6v1.6h-1.6zM33.5 174.4h1.6v1.6h-1.6zM39.0 191.3h1.6v1.6h-1.6zM49.5 170.4h1.6v1.6h-1.6zM32.5 175.6h1.6v1.6h-1.6zM31.5 178.6h1.6v1.6h-1.6zM38.4 185.7h1.6v1.6h-1.6zM51.7 170.6h1.6v1.6h-1.6zM44.3 180.1h1.6v1.6h-1.6zM33.7 174.6h1.6v1.6h-1.6zM35.1 171.3h1.6v1.6h-1.6zM45.6 174.7h1.6v1.6h-1.6zM49.7 181.3h1.6v1.6h-1.6zM51.3 168.4h1.6v1.6h-1.6zM51.8 179.6h1.6v1.6h-1.6zM46.1 172.4h1.6v1.6h-1.6zM47.8 176.9h1.6v1.6h-1.6zM48.5 181.6h1.6v1.6h-1.6zM32.9 174.1h1.6v1.6h-1.6zM49.3 166.5h1.6v1.6h-1.6zM46.1 180.6h1.6v1.6h-1.6zM48.3 174.8h1.6v1.6h-1.6zM41.9 178.7h1.6v1.6h-1.6zM49.2 168.0h1.6v1.6h-1.6zM42.8 173.0h1.6v1.6h-1.6zM44.9 173.0h1.6v1.6h-1.6zM34.7 172.2h1.6v1.6h-1.6zM36.4 180.8h1.6v1.6h-1.6zM46.0 169.1h1.6v1.6h-1.6zM43.1 179.2h1.6v1.6h-1.6zM47.1 173.8h1.6v1.6h-1.6zM51.5 172.7h1.6v1.6h-1.6zM41.6 190.0h1.6v1.6h-1.6zM54.8 181.3h1.6v1.6h-1.6zM39.9 179.3h1.6v1.6h-1.6zM42.8 171.8h1.6v1.6h-1.6zM36.2 188.5h1.6v1.6h-1.6zM47.6 179.6h1.6v1.6h-1.6zM44.5 183.8h1.6v1.6h-1.6zM29.4 177.9h1.6v1.6h-1.6zM41.7 168.2h1.6v1.6h-1.6zM36.0 187.9h1.6v1.6h-1.6zM36.1 190.8h1.6v1.6h-1.6zM39.1 178.0h1.6v1.6h-1.6zM54.6 180.5h1.6v1.6h-1.6zM47.4 169.0h1.6v1.6h-1.6zM32.0 187.9h1.6v1.6h-1.6zM47.3 171.2h1.6v1.6h-1.6zM48.2 174.5h1.6v1.6h-1.6zM43.3 168.1h1.6v1.6h-1.6zM38.3 169.5h1.6v1.6h-1.6zM37.9 185.7h1.6v1.6h-1.6zM44.2 169.7h1.6v1.6h-1.6zM35.6 178.7h1.6v1.6h-1.6zM41.2 169.6h1.6v1.6h-1.6zM37.6 180.5h1.6v1.6h-1.6zM39.5 192.0h1.6v1.6h-1.6zM37.5 177.3h1.6v1.6h-1.6zM37.6 183.4h1.6v1.6h-1.6zM48.5 179.5h1.6v1.6h-1.6zM51.9 168.9h1.6v1.6h-1.6zM30.9 178.8h1.6v1.6h-1.6zM36.4 182.2h1.6v1.6h-1.6zM39.8 178.2h1.6v1.6h-1.6zM43.6 181.7h1.6v1.6h-1.6zM36.5 171.0h1.6v1.6h-1.6zM38.8 190.1h1.6v1.6h-1.6zM31.0 172.7h1.6v1.6h-1.6zM42.6 166.5h1.6v1.6h-1.6zM36.0 178.6h1.6v1.6h-1.6zM47.4 170.2h1.6v1.6h-1.6zM32.5 174.9h1.6v1.6h-1.6zM32.0 187.3h1.6v1.6h-1.6zM46.6 174.0h1.6v1.6h-1.6zM51.1 168.3h1.6v1.6h-1.6zM35.1 190.4h1.6v1.6h-1.6zM49.3 167.3h1.6v1.6h-1.6zM31.7 183.2h1.6v1.6h-1.6zM33.1 183.8h1.6v1.6h-1.6zM47.2 172.2h1.6v1.6h-1.6zM41.9 171.7h1.6v1.6h-1.6zM47.7 182.6h1.6v1.6h-1.6zM50.0 179.7h1.6v1.6h-1.6zM45.0 179.1h1.6v1.6h-1.6zM49.4 180.2h1.6v1.6h-1.6zM36.6 179.8h1.6v1.6h-1.6zM48.4 171.6h1.6v1.6h-1.6zM42.8 181.6h1.6v1.6h-1.6zM44.7 178.3h1.6v1.6h-1.6zM42.8 184.3h1.6v1.6h-1.6zM52.7 179.8h1.6v1.6h-1.6zM32.4 173.0h1.6v1.6h-1.6zM37.6 175.5h1.6v1.6h-1.6zM42.3 173.9h1.6v1.6h-1.6zM39.1 184.6h1.6v1.6h-1.6zM39.2 189.4h1.6v1.6h-1.6zM50.7 174.6h1.6v1.6h-1.6zM33.1 187.5h1.6v1.6h-1.6zM40.3 175.4h1.6v1.6h-1.6zM41.6 185.4h1.6v1.6h-1.6zM49.7 170.8h1.6v1.6h-1.6zM34.6 175.1h1.6v1.6h-1.6zM33.9 178.7h1.6v1.6h-1.6zM32.7 183.4h1.6v1.6h-1.6zM40.2 172.6h1.6v1.6h-1.6zM47.5 174.8h1.6v1.6h-1.6zM37.0 173.1h1.6v1.6h-1.6zM47.8 170.0h1.6v1.6h-1.6zM43.8 167.5h1.6v1.6h-1.6zM36.8 177.3h1.6v1.6h-1.6zM45.0 168.2h1.6v1.6h-1.6zM34.0 172.5h1.6v1.6h-1.6zM30.2 180.7h1.6v1.6h-1.6zM31.4 171.1h1.6v1.6h-1.6zM50.3 173.7h1.6v1.6h-1.6zM33.0 176.2h1.6v1.6h-1.6zM50.7 168.7h1.6v1.6h-1.6zM50.3 180.5h1.6v1.6h-1.6zM50.5 175.0h1.6v1.6h-1.6zM48.5 179.5h1.6v1.6h-1.6zM49.6 171.4h1.6v1.6h-1.6zM36.7 171.7h1.6v1.6h-1.6zM33.3 185.3h1.6v1.6h-1.6zM30.2 178.5h1.6v1.6h-1.6zM36.1 186.4h1.6v1.6h-1.6zM43.1 183.4h1.6v1.6h-1.6zM42.3 167.0h1.6v1.6h-1.6zM43.8 177.1h1.6v1.6h-1.6zM38.1 176.5h1.6v1.6h-1.6zM35.1 174.4h1.6v1.6h-1.6zM41.4 188.5h1.6v1.6h-1.6zM32.6 179.8h1.6v1.6h-1.6zM39.5 170.6h1.6v1.6h-1.6zM46.6 175.3h1.6v1.6h-1.6zM32.2 181.2h1.6v1.6h-1.6zM40.0 189.7h1.6v1.6h-1.6zM44.7 181.9h1.6v1.6h-1.6zM34.3 168.5h1.6v1.6h-1.6zM47.0 172.9h1.6v1.6h-1.6zM42.2 186.5h1.6v1.6h-1.6zM31.6 186.6h1.6v1.6h-1.6zM43.5 168.1h1.6v1.6h-1.6zM40.4 183.8h1.6v1.6h-1.6zM34.8 170.0h1.6v1.6h-1.6zM35.1 177.2h1.6v1.6h-1.6zM40.6 183.5h1.6v1.6h-1.6zM29.2 177.2h1.6v1.6h-1.6zM50.8 169.1h1.6v1.6h-1.6zM37.2 180.0h1.6v1.6h-1.6zM43.2 166.9h1.6v1.6h-1.6zM32.1 184.0h1.6v1.6h-1.6zM40.0 168.5h1.6v1.6h-1.6zM42.0 176.0h1.6v1.6h-1.6zM50.0 169.1h1.6v1.6h-1.6zM43.6 175.6h1.6v1.6h-1.6zM45.3 172.9h1.6v1.6h-1.6zM40.9 180.1h1.6v1.6h-1.6zM39.3 181.1h1.6v1.6h-1.6zM31.6 177.2h1.6v1.6h-1.6zM39.4 185.0h1.6v1.6h-1.6zM34.5 182.5h1.6v1.6h-1.6zM33.9 175.4h1.6v1.6h-1.6zM48.9 166.7h1.6v1.6h-1.6zM49.9 170.1h1.6v1.6h-1.6zM31.4 180.0h1.6v1.6h-1.6zM34.0 181.1h1.6v1.6h-1.6zM47.2 177.8h1.6v1.6h-1.6zM40.4 178.5h1.6v1.6h-1.6z" fill="#6d7d8d"/>
<path d="M65.9 185.7h1.6v1.6h-1.6zM68.6 198.8h1.6v1.6h-1.6zM48.7 186.9h1.6v1.6h-1.6zM47.2 188.4h1.6v1.6h-1.6zM49.0 187.6h1.6v1.6h-1.6zM42.6 199.5h1.6v1.6h-1.6zM69.2 195.7h1.6v1.6h-1.6zM66.3 200.5h1.6v1.6h-1.6zM59.5 182.9h1.6v1.6h-1.6zM64.9 202.5h1.6v1.6h-1.6zM51.3 210.2h1.6v1.6h-1.6zM55.3 182.1h1.6v1.6h-1.6zM53.3 184.6h1.6v1.6h-1.6zM52.3 211.2h1.6v1.6h-1.6zM67.8 192.0h1.6v1.6h-1.6zM55.8 210.5h1.6v1.6h-1.6zM50.5 186.1h1.6v1.6h-1.6zM43.2 200.8h1.6v1.6h-1.6zM65.9 186.5h1.6v1.6h-1.6zM61.3 182.6h1.6v1.6h-1.6zM54.4 182.8h1.6v1.6h-1.6zM66.2 186.8h1.6v1.6h-1.6zM61.0 183.1h1.6v1.6h-1.6zM69.3 194.3h1.6v1.6h-1.6zM45.3 205.2h1.6v1.6h-1.6zM57.0 182.4h1.6v1.6h-1.6zM47.9 209.3h1.6v1.6h-1.6zM60.9 208.6h1.6v1.6h-1.6zM64.1 203.2h1.6v1.6h-1.6zM64.6 201.7h1.6v1.6h-1.6zM64.5 202.2h1.6v1.6h-1.6zM42.8 192.0h1.6v1.6h-1.6zM55.3 210.9h1.6v1.6h-1.6zM44.5 189.5h1.6v1.6h-1.6zM69.5 193.9h1.6v1.6h-1.6zM55.3 211.0h1.6v1.6h-1.6zM53.1 184.7h1.6v1.6h-1.6zM61.4 207.1h1.6v1.6h-1.6zM64.0 185.2h1.6v1.6h-1.6zM52.9 211.7h1.6v1.6h-1.6z" fill="#6d7d8d"/>
<path d="M33.7 191.1h1.5v1.5h-1.5zM50.5 166.9h1.5v1.5h-1.5zM28.6 175.7h1.5v1.5h-1.5zM58.9 171.6h1.5v1.5h-1.5zM64.3 178.9h1.5v1.5h-1.5zM29.2 172.7h1.5v1.5h-1.5zM62.7 176.0h1.5v1.5h-1.5zM38.6 167.6h1.5v1.5h-1.5zM33.7 189.1h1.5v1.5h-1.5zM40.6 196.1h1.5v1.5h-1.5zM69.9 197.6h1.5v1.5h-1.5zM41.0 166.3h1.5v1.5h-1.5zM44.6 204.8h1.5v1.5h-1.5zM42.2 166.1h1.5v1.5h-1.5zM34.0 169.2h1.5v1.5h-1.5zM43.6 202.4h1.5v1.5h-1.5zM30.1 180.5h1.5v1.5h-1.5zM52.5 167.0h1.5v1.5h-1.5zM50.3 167.1h1.5v1.5h-1.5zM59.8 208.6h1.5v1.5h-1.5zM42.9 199.9h1.5v1.5h-1.5zM63.4 176.3h1.5v1.5h-1.5zM28.8 182.2h1.5v1.5h-1.5zM69.8 198.0h1.5v1.5h-1.5zM43.9 203.3h1.5v1.5h-1.5zM38.7 192.5h1.5v1.5h-1.5zM29.4 180.7h1.5v1.5h-1.5zM59.2 208.1h1.5v1.5h-1.5zM41.2 196.3h1.5v1.5h-1.5zM38.9 168.0h1.5v1.5h-1.5zM33.7 169.2h1.5v1.5h-1.5zM30.4 184.0h1.5v1.5h-1.5zM29.8 182.0h1.5v1.5h-1.5zM44.2 203.4h1.5v1.5h-1.5zM54.7 167.5h1.5v1.5h-1.5zM44.1 203.9h1.5v1.5h-1.5zM41.5 166.8h1.5v1.5h-1.5zM59.5 170.8h1.5v1.5h-1.5zM34.2 190.2h1.5v1.5h-1.5zM44.5 203.0h1.5v1.5h-1.5z" fill="#6d7d8d"/>
<path d="M53.9 195.5h0.9v0.9h-0.9zM53.7 192.8h0.9v0.9h-0.9zM50.0 203.2h0.9v0.9h-0.9zM60.9 205.1h0.9v0.9h-0.9zM61.8 191.7h0.9v0.9h-0.9zM53.8 190.3h0.9v0.9h-0.9zM52.2 197.8h0.9v0.9h-0.9zM56.4 190.9h0.9v0.9h-0.9zM61.8 202.7h0.9v0.9h-0.9zM52.7 207.5h0.9v0.9h-0.9zM56.3 188.9h0.9v0.9h-0.9zM56.4 182.4h0.9v0.9h-0.9zM60.0 197.2h0.9v0.9h-0.9zM56.7 207.0h0.9v0.9h-0.9z" fill="#fff"/>
<path d="M68.8 178.6h1.6v1.6h-1.6zM73.4 179.8h1.6v1.6h-1.6zM78.0 178.1h1.6v1.6h-1.6zM79.0 177.3h1.6v1.6h-1.6zM73.9 176.0h1.6v1.6h-1.6zM74.5 175.1h1.6v1.6h-1.6zM77.1 178.8h1.6v1.6h-1.6zM75.1 176.6h1.6v1.6h-1.6zM77.6 177.5h1.6v1.6h-1.6zM74.9 175.6h1.6v1.6h-1.6zM73.8 176.5h1.6v1.6h-1.6zM72.3 175.5h1.6v1.6h-1.6zM83.2 176.2h1.6v1.6h-1.6zM77.1 177.8h1.6v1.6h-1.6zM87.4 173.0h1.6v1.6h-1.6zM76.5 174.7h1.6v1.6h-1.6zM81.8 176.3h1.6v1.6h-1.6zM87.3 172.2h1.6v1.6h-1.6zM72.8 175.7h1.6v1.6h-1.6zM74.6 180.1h1.6v1.6h-1.6zM88.4 170.3h1.6v1.6h-1.6zM74.4 177.5h1.6v1.6h-1.6zM75.7 176.5h1.6v1.6h-1.6zM73.6 178.5h1.6v1.6h-1.6zM75.9 174.1h1.6v1.6h-1.6zM73.2 177.4h1.6v1.6h-1.6zM75.7 178.3h1.6v1.6h-1.6zM74.3 178.1h1.6v1.6h-1.6zM81.4 176.8h1.6v1.6h-1.6zM77.0 175.5h1.6v1.6h-1.6zM84.4 174.7h1.6v1.6h-1.6zM76.9 174.6h1.6v1.6h-1.6zM73.8 178.0h1.6v1.6h-1.6zM74.7 176.8h1.6v1.6h-1.6zM74.7 179.5h1.6v1.6h-1.6zM76.0 176.0h1.6v1.6h-1.6zM77.5 174.9h1.6v1.6h-1.6zM74.4 174.6h1.6v1.6h-1.6zM79.7 175.5h1.6v1.6h-1.6zM86.4 175.0h1.6v1.6h-1.6zM86.3 173.4h1.6v1.6h-1.6zM74.4 173.8h1.6v1.6h-1.6zM75.5 178.9h1.6v1.6h-1.6zM84.1 175.5h1.6v1.6h-1.6zM74.8 174.7h1.6v1.6h-1.6zM76.3 176.4h1.6v1.6h-1.6zM74.3 175.6h1.6v1.6h-1.6zM85.2 175.4h1.6v1.6h-1.6zM79.3 177.0h1.6v1.6h-1.6zM79.2 178.7h1.6v1.6h-1.6zM69.2 178.8h1.6v1.6h-1.6zM72.3 175.1h1.6v1.6h-1.6zM83.2 176.4h1.6v1.6h-1.6zM79.4 174.9h1.6v1.6h-1.6zM75.2 178.8h1.6v1.6h-1.6zM74.0 174.0h1.6v1.6h-1.6zM74.2 178.2h1.6v1.6h-1.6z" fill="#d96c2b"/>
<path d="M75.7 173.5h1.5v1.5h-1.5zM80.9 175.1h1.5v1.5h-1.5zM78.4 180.1h1.5v1.5h-1.5zM88.8 169.1h1.5v1.5h-1.5zM84.7 176.6h1.5v1.5h-1.5zM77.6 173.6h1.5v1.5h-1.5zM81.9 175.0h1.5v1.5h-1.5zM71.7 180.0h1.5v1.5h-1.5zM77.3 180.1h1.5v1.5h-1.5zM87.5 169.7h1.5v1.5h-1.5zM88.5 169.8h1.5v1.5h-1.5zM70.7 175.6h1.5v1.5h-1.5zM76.0 174.0h1.5v1.5h-1.5zM81.8 175.2h1.5v1.5h-1.5zM69.0 177.1h1.5v1.5h-1.5zM88.4 170.8h1.5v1.5h-1.5zM80.7 178.1h1.5v1.5h-1.5zM79.9 174.3h1.5v1.5h-1.5zM87.2 175.5h1.5v1.5h-1.5zM69.2 179.8h1.5v1.5h-1.5zM88.9 169.6h1.5v1.5h-1.5zM70.1 176.2h1.5v1.5h-1.5zM78.4 180.1h1.5v1.5h-1.5zM71.3 175.7h1.5v1.5h-1.5zM88.4 169.2h1.5v1.5h-1.5z" fill="#d96c2b"/>
<path d="M69.3 178.3h1.4v1.4h-1.4zM70.8 177.8h1.4v1.4h-1.4zM72.1 179.8h1.4v1.4h-1.4zM68.9 179.8h1.4v1.4h-1.4z" fill="#6d7d8d"/>
<path d="M55.6 167.9h1.4v1.4h-1.4zM56.3 169.3h1.4v1.4h-1.4zM69.3 177.8h1.4v1.4h-1.4zM73.3 177.8h1.4v1.4h-1.4zM78.3 177.3h1.4v1.4h-1.4z" fill="#d96c2b"/>
<path d="M71.6 195.0h1.4v1.4h-1.4zM72.6 196.8h1.4v1.4h-1.4zM73.7 198.5h1.4v1.4h-1.4zM73.1 195.5h1.4v1.4h-1.4z" fill="#a3bad7"/>
<path d="M124.3 205.7C124.8 205.1 125.5 205.3 126.4 205.3C127.3 205.3 128.4 205.3 129.5 205.5C130.6 205.7 131.5 205.8 132.8 206.5C134.1 207.2 135.7 208.7 137.1 210.0C138.5 211.3 140.2 212.9 141.4 214.3C142.7 215.7 143.9 217.3 144.6 218.6C145.3 219.8 145.6 220.8 145.7 221.8C145.8 222.8 145.4 223.7 145.2 224.5C145.0 225.3 144.8 225.7 144.6 226.5C144.4 227.3 144.3 229.4 144.1 229.3C143.9 229.2 143.6 227.0 143.2 226.0C142.8 225.0 142.4 224.0 141.4 223.4C140.4 222.8 138.7 222.7 137.1 222.3C135.5 221.9 133.8 221.4 131.8 221.2C129.8 221.0 127.3 221.1 125.3 221.2C123.3 221.3 121.4 221.8 120.0 221.8C118.6 221.9 117.6 221.8 116.8 221.5C116.0 221.2 115.2 220.9 115.2 220.2C115.2 219.5 115.9 218.7 116.5 217.5C117.1 216.3 118.2 214.4 118.9 213.2C119.7 212.0 120.3 211.2 121.0 210.5C121.7 209.8 122.7 209.7 123.2 208.9C123.8 208.1 123.8 206.3 124.3 205.7Z" fill="#e3242f"/>
<path d="M142.8 227.8h1.4v1.4h-1.4zM117.1 213.8h1.4v1.4h-1.4zM137.1 221.6h1.4v1.4h-1.4zM143.2 225.8h1.4v1.4h-1.4zM122.4 220.2h1.4v1.4h-1.4zM141.8 215.1h1.4v1.4h-1.4zM136.5 221.5h1.4v1.4h-1.4zM125.1 205.2h1.4v1.4h-1.4zM142.2 226.3h1.4v1.4h-1.4zM116.7 215.3h1.4v1.4h-1.4zM119.3 220.7h1.4v1.4h-1.4zM129.6 219.8h1.4v1.4h-1.4zM128.5 204.5h1.4v1.4h-1.4zM136.3 209.5h1.4v1.4h-1.4zM140.5 212.3h1.4v1.4h-1.4zM135.0 207.5h1.4v1.4h-1.4zM136.7 221.8h1.4v1.4h-1.4zM141.5 225.3h1.4v1.4h-1.4zM137.7 222.3h1.4v1.4h-1.4zM131.7 204.9h1.4v1.4h-1.4zM135.7 208.5h1.4v1.4h-1.4zM136.7 209.5h1.4v1.4h-1.4zM136.2 209.6h1.4v1.4h-1.4zM117.3 213.6h1.4v1.4h-1.4zM129.6 205.8h1.4v1.4h-1.4zM130.8 205.6h1.4v1.4h-1.4zM117.9 221.0h1.4v1.4h-1.4zM117.7 212.3h1.4v1.4h-1.4zM121.0 220.3h1.4v1.4h-1.4zM118.9 212.5h1.4v1.4h-1.4zM143.0 227.1h1.4v1.4h-1.4zM116.2 215.7h1.4v1.4h-1.4zM142.5 214.8h1.4v1.4h-1.4zM139.4 211.5h1.4v1.4h-1.4zM120.0 209.7h1.4v1.4h-1.4zM143.9 222.8h1.4v1.4h-1.4zM123.7 220.7h1.4v1.4h-1.4zM132.7 206.0h1.4v1.4h-1.4zM143.2 218.2h1.4v1.4h-1.4zM144.1 228.2h1.4v1.4h-1.4zM143.3 215.9h1.4v1.4h-1.4zM118.1 211.5h1.4v1.4h-1.4zM115.5 220.1h1.4v1.4h-1.4zM143.0 217.6h1.4v1.4h-1.4zM143.9 227.5h1.4v1.4h-1.4z" fill="#e3242f"/>
<path d="M122.1 218.9h1.0v1.0h-1.0zM125.8 212.6h1.0v1.0h-1.0zM123.4 216.5h1.0v1.0h-1.0zM123.4 216.9h1.0v1.0h-1.0zM117.2 214.5h1.0v1.0h-1.0zM117.6 217.8h1.0v1.0h-1.0zM120.7 219.5h1.0v1.0h-1.0zM123.8 213.2h1.0v1.0h-1.0zM118.3 213.2h1.0v1.0h-1.0zM122.6 218.0h1.0v1.0h-1.0z" fill="#fff"/>
<path d="M135.7 220.4h0.9v0.9h-0.9zM119.9 220.2h0.9v0.9h-0.9zM123.3 216.5h0.9v0.9h-0.9zM136.8 218.5h0.9v0.9h-0.9z" fill="#fff"/>
<path d="M117.1 223.2h1.4v1.4h-1.4zM115.8 221.8h1.4v1.4h-1.4z" fill="#e3242f"/>
<path d="M111.8 201.8h1.4v1.4h-1.4zM113.3 202.8h1.4v1.4h-1.4zM114.8 204.1h1.4v1.4h-1.4zM116.3 205.3h1.4v1.4h-1.4zM118.3 202.3h1.4v1.4h-1.4zM120.3 203.3h1.4v1.4h-1.4zM122.3 201.8h1.4v1.4h-1.4zM125.3 203.3h1.4v1.4h-1.4zM127.9 202.8h1.4v1.4h-1.4zM117.3 206.8h1.4v1.4h-1.4zM120.3 207.8h1.4v1.4h-1.4z" fill="#a3bad7"/>
<path d="M142.8 227.8h1.4v1.4h-1.4zM143.1 228.9h1.4v1.4h-1.4z" fill="#74c5d3"/>
<path d="M100.4 244.4L103.0 241.3L106.0 238.0L108.5 235.2L110.4 233.0" stroke="#74c5d3" stroke-width="2.2" fill="none" stroke-linecap="round"/>
<path d="M109.7 232.2h1.5v1.5h-1.5zM101.7 239.7h1.5v1.5h-1.5z" fill="#e3242f"/>
<path d="M96.3 243.1C96.6 242.8 97.4 242.8 98.0 242.7C98.6 242.6 99.3 242.1 99.7 242.3C100.1 242.5 100.4 243.4 100.6 244.0C100.8 244.6 100.9 245.4 100.8 246.1C100.7 246.8 100.4 247.7 100.1 248.3C99.8 249.0 99.4 249.6 98.9 250.0C98.4 250.4 97.7 250.8 97.1 250.9C96.5 251.1 95.8 251.2 95.4 250.9C95.1 250.6 94.9 249.7 95.0 249.1C95.1 248.5 95.8 248.0 95.9 247.4C96.0 246.8 95.3 246.2 95.4 245.7C95.5 245.2 96.2 244.8 96.3 244.4C96.4 244.0 96.0 243.4 96.3 243.1Z" fill="#a41f2c"/>
<path d="M96.1 243.8h1.2v1.2h-1.2zM94.7 248.0h1.2v1.2h-1.2zM96.7 242.0h1.2v1.2h-1.2zM94.4 250.4h1.2v1.2h-1.2zM95.0 250.5h1.2v1.2h-1.2zM99.3 247.1h1.2v1.2h-1.2zM95.3 245.9h1.2v1.2h-1.2zM98.9 248.4h1.2v1.2h-1.2zM96.1 242.8h1.2v1.2h-1.2zM95.8 250.7h1.2v1.2h-1.2zM94.7 244.4h1.2v1.2h-1.2zM98.5 242.0h1.2v1.2h-1.2z" fill="#a41f2c"/>
<path d="M94.2 241.6h1.5v1.5h-1.5zM94.8 241.2h1.5v1.5h-1.5z" fill="#ec6fa6"/>
<path d="M94.2 243.6h1.2v1.2h-1.2z" fill="#3b79b2"/>
<path d="M46.8 252.7h1.4v1.4h-1.4zM46.4 254.2h1.4v1.4h-1.4zM47.2 255.3h1.4v1.4h-1.4zM48.3 256.0h1.4v1.4h-1.4zM49.0 254.9h1.4v1.4h-1.4zM49.8 255.3h1.4v1.4h-1.4zM54.7 254.9h1.4v1.4h-1.4zM47.5 253.1h1.4v1.4h-1.4z" fill="#6d7d8d"/>
<path d="M50.5 257.9h1.5v1.5h-1.5zM51.6 258.2h1.5v1.5h-1.5zM52.8 258.6h1.5v1.5h-1.5zM53.9 258.6h1.5v1.5h-1.5zM51.2 259.4h1.5v1.5h-1.5zM49.8 259.4h1.5v1.5h-1.5zM52.2 257.4h1.5v1.5h-1.5zM56.1 257.4h1.5v1.5h-1.5zM56.9 259.8h1.5v1.5h-1.5zM59.1 262.8h1.5v1.5h-1.5zM59.5 262.2h1.5v1.5h-1.5zM51.6 262.4h1.5v1.5h-1.5zM46.8 266.4h1.5v1.5h-1.5zM42.6 269.4h1.5v1.5h-1.5zM53.9 269.4h1.5v1.5h-1.5zM56.5 268.8h1.5v1.5h-1.5zM45.6 273.2h1.5v1.5h-1.5zM46.8 273.9h1.5v1.5h-1.5zM49.8 273.9h1.5v1.5h-1.5zM50.5 275.1h1.5v1.5h-1.5zM47.5 252.2h1.5v1.5h-1.5z" fill="#3b79b2"/>
<path d="M56.1 273.1h1.5v1.5h-1.5zM63.3 266.8h1.5v1.5h-1.5zM63.4 265.9h1.5v1.5h-1.5zM58.7 272.6h1.5v1.5h-1.5zM59.9 266.6h1.5v1.5h-1.5zM63.9 267.3h1.5v1.5h-1.5zM66.9 266.2h1.5v1.5h-1.5zM62.5 271.9h1.5v1.5h-1.5zM56.2 271.8h1.5v1.5h-1.5zM61.3 271.6h1.5v1.5h-1.5zM66.1 265.6h1.5v1.5h-1.5zM60.2 270.5h1.5v1.5h-1.5zM54.8 274.1h1.5v1.5h-1.5zM59.9 268.2h1.5v1.5h-1.5zM54.4 273.9h1.5v1.5h-1.5zM64.3 267.2h1.5v1.5h-1.5zM57.9 270.6h1.5v1.5h-1.5zM55.2 272.2h1.5v1.5h-1.5zM55.2 274.7h1.5v1.5h-1.5zM61.4 271.4h1.5v1.5h-1.5zM58.6 272.9h1.5v1.5h-1.5zM66.6 266.9h1.5v1.5h-1.5zM58.3 271.6h1.5v1.5h-1.5zM63.3 270.0h1.5v1.5h-1.5zM57.9 273.1h1.5v1.5h-1.5zM63.7 269.5h1.5v1.5h-1.5zM55.5 273.2h1.5v1.5h-1.5zM63.5 271.1h1.5v1.5h-1.5zM56.8 272.4h1.5v1.5h-1.5zM65.0 267.9h1.5v1.5h-1.5zM64.7 269.0h1.5v1.5h-1.5zM59.9 271.3h1.5v1.5h-1.5zM66.4 267.4h1.5v1.5h-1.5zM60.9 266.6h1.5v1.5h-1.5zM62.3 269.3h1.5v1.5h-1.5zM63.2 266.0h1.5v1.5h-1.5zM55.6 274.1h1.5v1.5h-1.5zM58.8 272.2h1.5v1.5h-1.5zM64.4 268.0h1.5v1.5h-1.5zM58.0 270.7h1.5v1.5h-1.5zM65.6 266.1h1.5v1.5h-1.5zM61.9 269.4h1.5v1.5h-1.5zM58.8 269.4h1.5v1.5h-1.5zM63.7 269.8h1.5v1.5h-1.5z" fill="#e7776d"/>
<path d="M62.5 271.8h1.4v1.4h-1.4zM54.9 271.8h1.4v1.4h-1.4zM55.0 276.2h1.4v1.4h-1.4zM59.6 274.4h1.4v1.4h-1.4zM57.6 267.2h1.4v1.4h-1.4zM65.3 265.5h1.4v1.4h-1.4zM54.1 272.8h1.4v1.4h-1.4zM59.9 266.8h1.4v1.4h-1.4zM61.8 273.3h1.4v1.4h-1.4zM64.3 265.5h1.4v1.4h-1.4zM63.1 272.3h1.4v1.4h-1.4zM62.5 266.1h1.4v1.4h-1.4zM58.3 267.2h1.4v1.4h-1.4zM61.7 273.0h1.4v1.4h-1.4zM54.5 273.0h1.4v1.4h-1.4zM66.6 268.2h1.4v1.4h-1.4zM63.7 265.8h1.4v1.4h-1.4zM62.7 265.6h1.4v1.4h-1.4zM57.6 275.8h1.4v1.4h-1.4zM56.5 276.2h1.4v1.4h-1.4z" fill="#e7776d"/>
<path d="M182.0 168.0C183.6 167.9 186.9 168.8 188.8 169.3C190.7 169.8 192.2 170.5 193.6 171.2C195.0 171.9 196.4 172.7 197.5 173.6C198.6 174.5 199.4 175.5 200.4 176.5C201.4 177.5 202.5 178.4 203.3 179.4C204.1 180.4 205.0 181.3 205.2 182.3C205.3 183.3 204.8 184.2 204.2 185.2C203.6 186.1 202.3 187.2 201.4 188.0C200.5 188.8 199.6 189.5 198.5 190.0C197.4 190.5 196.0 190.8 194.6 190.9C193.2 191.0 191.4 190.5 189.8 190.5C188.2 190.5 186.5 191.3 185.0 190.9C183.5 190.5 181.8 189.5 181.0 188.0C180.2 186.5 180.5 184.0 180.0 182.0C179.5 180.0 178.2 178.0 178.0 176.0C177.8 174.0 178.3 171.3 179.0 170.0C179.7 168.7 180.4 168.1 182.0 168.0Z" fill="#6d7d8d"/>
<path d="M179.1 181.7h1.6v1.6h-1.6zM164.1 171.1h1.6v1.6h-1.6zM175.4 183.4h1.6v1.6h-1.6zM168.4 174.7h1.6v1.6h-1.6zM166.2 182.1h1.6v1.6h-1.6zM175.6 183.4h1.6v1.6h-1.6zM174.3 170.8h1.6v1.6h-1.6zM173.0 184.2h1.6v1.6h-1.6zM179.3 167.7h1.6v1.6h-1.6zM180.6 166.9h1.6v1.6h-1.6zM171.2 184.8h1.6v1.6h-1.6zM181.2 188.1h1.6v1.6h-1.6zM167.9 180.6h1.6v1.6h-1.6zM173.1 175.6h1.6v1.6h-1.6zM168.8 182.8h1.6v1.6h-1.6zM171.1 173.1h1.6v1.6h-1.6zM177.1 178.4h1.6v1.6h-1.6zM172.5 175.0h1.6v1.6h-1.6zM180.6 188.3h1.6v1.6h-1.6zM164.5 175.0h1.6v1.6h-1.6zM178.3 182.1h1.6v1.6h-1.6zM179.4 187.5h1.6v1.6h-1.6zM172.8 179.4h1.6v1.6h-1.6zM176.3 179.9h1.6v1.6h-1.6zM176.1 179.9h1.6v1.6h-1.6zM178.0 190.0h1.6v1.6h-1.6zM162.4 176.1h1.6v1.6h-1.6zM172.3 181.3h1.6v1.6h-1.6zM176.7 181.3h1.6v1.6h-1.6zM180.4 166.8h1.6v1.6h-1.6zM175.3 177.9h1.6v1.6h-1.6zM174.2 168.7h1.6v1.6h-1.6zM173.9 171.4h1.6v1.6h-1.6zM173.3 184.7h1.6v1.6h-1.6zM176.6 178.5h1.6v1.6h-1.6zM178.9 185.3h1.6v1.6h-1.6zM167.1 178.7h1.6v1.6h-1.6zM175.7 166.5h1.6v1.6h-1.6zM179.0 189.8h1.6v1.6h-1.6zM166.8 180.9h1.6v1.6h-1.6zM171.8 177.1h1.6v1.6h-1.6zM170.1 184.2h1.6v1.6h-1.6zM167.3 167.3h1.6v1.6h-1.6zM186.5 168.1h1.6v1.6h-1.6zM168.2 178.4h1.6v1.6h-1.6zM173.7 186.8h1.6v1.6h-1.6zM171.5 184.2h1.6v1.6h-1.6zM173.2 176.3h1.6v1.6h-1.6zM162.6 177.1h1.6v1.6h-1.6zM178.7 167.7h1.6v1.6h-1.6zM178.4 184.9h1.6v1.6h-1.6zM175.1 170.7h1.6v1.6h-1.6zM180.5 188.0h1.6v1.6h-1.6zM174.2 177.3h1.6v1.6h-1.6zM175.9 181.8h1.6v1.6h-1.6zM179.6 186.9h1.6v1.6h-1.6zM177.1 174.2h1.6v1.6h-1.6zM166.9 184.0h1.6v1.6h-1.6zM183.3 190.3h1.6v1.6h-1.6zM176.2 176.9h1.6v1.6h-1.6zM165.9 180.2h1.6v1.6h-1.6zM174.7 180.0h1.6v1.6h-1.6zM164.5 171.9h1.6v1.6h-1.6zM177.3 180.8h1.6v1.6h-1.6zM167.8 181.3h1.6v1.6h-1.6zM170.7 184.4h1.6v1.6h-1.6zM180.1 189.3h1.6v1.6h-1.6zM169.7 172.2h1.6v1.6h-1.6zM171.7 184.4h1.6v1.6h-1.6zM179.0 183.9h1.6v1.6h-1.6zM172.6 178.1h1.6v1.6h-1.6zM170.6 166.5h1.6v1.6h-1.6zM174.2 189.5h1.6v1.6h-1.6zM177.4 179.6h1.6v1.6h-1.6zM167.5 176.4h1.6v1.6h-1.6zM171.4 167.4h1.6v1.6h-1.6zM167.1 182.4h1.6v1.6h-1.6zM167.5 185.5h1.6v1.6h-1.6zM169.4 186.1h1.6v1.6h-1.6zM167.5 183.5h1.6v1.6h-1.6zM177.4 180.2h1.6v1.6h-1.6zM177.3 172.8h1.6v1.6h-1.6zM168.5 185.2h1.6v1.6h-1.6zM171.3 170.0h1.6v1.6h-1.6zM165.5 172.7h1.6v1.6h-1.6zM179.6 186.9h1.6v1.6h-1.6zM174.9 172.2h1.6v1.6h-1.6zM162.4 179.4h1.6v1.6h-1.6zM172.6 181.9h1.6v1.6h-1.6zM168.9 185.8h1.6v1.6h-1.6zM167.1 180.4h1.6v1.6h-1.6zM174.2 168.7h1.6v1.6h-1.6zM173.1 172.3h1.6v1.6h-1.6zM176.6 180.7h1.6v1.6h-1.6zM171.0 177.7h1.6v1.6h-1.6zM177.5 166.6h1.6v1.6h-1.6zM169.7 187.4h1.6v1.6h-1.6zM163.9 169.8h1.6v1.6h-1.6zM170.1 167.3h1.6v1.6h-1.6zM173.7 188.9h1.6v1.6h-1.6zM172.5 173.6h1.6v1.6h-1.6zM169.8 183.6h1.6v1.6h-1.6zM166.5 181.0h1.6v1.6h-1.6zM176.0 179.9h1.6v1.6h-1.6zM171.1 176.8h1.6v1.6h-1.6zM176.6 190.0h1.6v1.6h-1.6zM170.7 175.9h1.6v1.6h-1.6zM173.3 188.0h1.6v1.6h-1.6zM172.7 188.5h1.6v1.6h-1.6zM174.4 166.1h1.6v1.6h-1.6zM173.5 189.5h1.6v1.6h-1.6zM166.1 170.7h1.6v1.6h-1.6zM172.8 170.9h1.6v1.6h-1.6zM170.7 188.0h1.6v1.6h-1.6zM177.3 166.2h1.6v1.6h-1.6zM162.8 180.0h1.6v1.6h-1.6zM162.6 177.8h1.6v1.6h-1.6zM170.8 187.1h1.6v1.6h-1.6zM177.3 179.7h1.6v1.6h-1.6zM179.3 185.8h1.6v1.6h-1.6zM168.7 171.8h1.6v1.6h-1.6zM161.7 175.8h1.6v1.6h-1.6zM176.0 182.4h1.6v1.6h-1.6zM171.5 168.6h1.6v1.6h-1.6zM173.6 173.5h1.6v1.6h-1.6zM177.5 176.5h1.6v1.6h-1.6zM176.6 170.7h1.6v1.6h-1.6zM170.6 168.3h1.6v1.6h-1.6zM173.7 167.1h1.6v1.6h-1.6zM166.4 185.0h1.6v1.6h-1.6zM180.0 186.0h1.6v1.6h-1.6zM171.1 166.9h1.6v1.6h-1.6zM163.7 176.4h1.6v1.6h-1.6zM175.2 168.2h1.6v1.6h-1.6zM173.0 181.6h1.6v1.6h-1.6zM173.0 188.3h1.6v1.6h-1.6zM170.8 181.5h1.6v1.6h-1.6zM164.0 178.7h1.6v1.6h-1.6zM173.8 176.4h1.6v1.6h-1.6zM176.0 181.8h1.6v1.6h-1.6zM181.2 189.3h1.6v1.6h-1.6zM174.6 178.5h1.6v1.6h-1.6zM169.2 176.5h1.6v1.6h-1.6zM172.5 178.1h1.6v1.6h-1.6zM169.9 172.3h1.6v1.6h-1.6zM163.1 177.9h1.6v1.6h-1.6zM172.6 169.4h1.6v1.6h-1.6zM178.4 168.2h1.6v1.6h-1.6zM173.4 183.8h1.6v1.6h-1.6zM162.5 171.2h1.6v1.6h-1.6zM165.2 173.3h1.6v1.6h-1.6zM162.9 180.4h1.6v1.6h-1.6zM174.8 180.6h1.6v1.6h-1.6zM167.7 181.8h1.6v1.6h-1.6zM171.5 188.7h1.6v1.6h-1.6zM177.9 178.8h1.6v1.6h-1.6zM175.3 174.9h1.6v1.6h-1.6zM173.7 175.1h1.6v1.6h-1.6zM172.5 170.9h1.6v1.6h-1.6zM171.9 174.7h1.6v1.6h-1.6zM176.8 182.6h1.6v1.6h-1.6zM171.9 172.0h1.6v1.6h-1.6zM169.9 178.3h1.6v1.6h-1.6zM171.3 178.2h1.6v1.6h-1.6zM171.9 184.6h1.6v1.6h-1.6zM176.3 168.2h1.6v1.6h-1.6zM174.3 184.6h1.6v1.6h-1.6zM169.5 186.2h1.6v1.6h-1.6zM173.7 173.8h1.6v1.6h-1.6zM163.8 178.5h1.6v1.6h-1.6zM172.2 183.0h1.6v1.6h-1.6zM176.1 182.3h1.6v1.6h-1.6zM168.0 170.8h1.6v1.6h-1.6zM170.6 171.4h1.6v1.6h-1.6zM166.0 175.7h1.6v1.6h-1.6zM171.2 169.9h1.6v1.6h-1.6zM166.0 178.0h1.6v1.6h-1.6zM168.9 181.1h1.6v1.6h-1.6zM176.3 182.7h1.6v1.6h-1.6zM177.9 168.1h1.6v1.6h-1.6zM170.6 181.6h1.6v1.6h-1.6zM177.2 179.6h1.6v1.6h-1.6zM177.2 184.1h1.6v1.6h-1.6zM168.7 179.2h1.6v1.6h-1.6zM179.6 190.6h1.6v1.6h-1.6zM176.2 172.2h1.6v1.6h-1.6zM173.5 180.2h1.6v1.6h-1.6zM166.1 183.3h1.6v1.6h-1.6zM169.0 183.7h1.6v1.6h-1.6zM180.8 190.4h1.6v1.6h-1.6zM171.2 173.7h1.6v1.6h-1.6zM173.2 170.8h1.6v1.6h-1.6zM162.8 175.5h1.6v1.6h-1.6zM176.2 188.8h1.6v1.6h-1.6zM165.3 178.6h1.6v1.6h-1.6zM171.1 172.2h1.6v1.6h-1.6zM162.3 173.8h1.6v1.6h-1.6zM173.9 177.4h1.6v1.6h-1.6zM178.0 182.8h1.6v1.6h-1.6zM177.5 182.0h1.6v1.6h-1.6zM167.5 167.2h1.6v1.6h-1.6zM164.9 173.2h1.6v1.6h-1.6zM173.8 179.0h1.6v1.6h-1.6zM175.8 180.6h1.6v1.6h-1.6zM166.2 181.7h1.6v1.6h-1.6zM170.5 180.0h1.6v1.6h-1.6zM169.6 177.2h1.6v1.6h-1.6zM172.8 182.1h1.6v1.6h-1.6zM173.9 178.8h1.6v1.6h-1.6zM174.8 177.3h1.6v1.6h-1.6zM178.6 182.8h1.6v1.6h-1.6zM187.4 168.3h1.6v1.6h-1.6zM165.9 180.2h1.6v1.6h-1.6zM173.0 170.2h1.6v1.6h-1.6zM164.2 175.6h1.6v1.6h-1.6zM170.9 181.0h1.6v1.6h-1.6zM178.4 189.1h1.6v1.6h-1.6zM171.5 172.8h1.6v1.6h-1.6zM174.0 186.1h1.6v1.6h-1.6zM177.4 172.5h1.6v1.6h-1.6zM165.6 172.4h1.6v1.6h-1.6zM170.4 169.5h1.6v1.6h-1.6zM169.3 178.3h1.6v1.6h-1.6zM172.5 175.4h1.6v1.6h-1.6zM171.7 175.7h1.6v1.6h-1.6zM179.6 191.0h1.6v1.6h-1.6zM161.5 174.7h1.6v1.6h-1.6zM167.9 170.4h1.6v1.6h-1.6zM173.3 181.6h1.6v1.6h-1.6zM165.8 179.2h1.6v1.6h-1.6zM176.5 178.6h1.6v1.6h-1.6zM166.1 175.0h1.6v1.6h-1.6zM173.5 169.1h1.6v1.6h-1.6zM175.8 186.6h1.6v1.6h-1.6zM163.8 177.4h1.6v1.6h-1.6zM172.9 183.9h1.6v1.6h-1.6zM168.9 182.5h1.6v1.6h-1.6zM166.3 178.5h1.6v1.6h-1.6zM173.3 176.1h1.6v1.6h-1.6zM170.1 171.3h1.6v1.6h-1.6zM169.8 176.5h1.6v1.6h-1.6zM162.5 176.5h1.6v1.6h-1.6zM177.7 167.1h1.6v1.6h-1.6zM173.8 175.9h1.6v1.6h-1.6zM171.9 187.3h1.6v1.6h-1.6zM174.4 182.7h1.6v1.6h-1.6zM169.7 179.1h1.6v1.6h-1.6zM163.3 173.7h1.6v1.6h-1.6zM171.8 187.2h1.6v1.6h-1.6zM169.3 185.2h1.6v1.6h-1.6zM169.9 174.6h1.6v1.6h-1.6zM177.8 171.1h1.6v1.6h-1.6zM176.5 167.9h1.6v1.6h-1.6zM171.8 167.3h1.6v1.6h-1.6zM168.9 184.8h1.6v1.6h-1.6zM173.5 186.1h1.6v1.6h-1.6zM165.2 172.5h1.6v1.6h-1.6zM173.5 179.2h1.6v1.6h-1.6zM162.7 171.4h1.6v1.6h-1.6zM169.8 167.8h1.6v1.6h-1.6zM177.1 185.9h1.6v1.6h-1.6zM175.8 189.6h1.6v1.6h-1.6z" fill="#6d7d8d"/>
<path d="M193.4 171.0h1.5v1.5h-1.5zM185.3 168.1h1.5v1.5h-1.5zM188.3 168.5h1.5v1.5h-1.5zM181.7 190.1h1.5v1.5h-1.5zM172.9 165.7h1.5v1.5h-1.5zM180.7 167.0h1.5v1.5h-1.5zM187.1 189.6h1.5v1.5h-1.5zM172.8 189.9h1.5v1.5h-1.5zM204.5 183.7h1.5v1.5h-1.5zM194.9 171.9h1.5v1.5h-1.5zM185.7 168.3h1.5v1.5h-1.5zM180.8 166.5h1.5v1.5h-1.5zM186.1 190.4h1.5v1.5h-1.5zM188.3 190.0h1.5v1.5h-1.5zM163.3 168.8h1.5v1.5h-1.5zM189.5 189.3h1.5v1.5h-1.5zM186.4 189.4h1.5v1.5h-1.5zM188.0 189.4h1.5v1.5h-1.5zM169.9 188.1h1.5v1.5h-1.5zM201.9 186.8h1.5v1.5h-1.5zM183.5 166.4h1.5v1.5h-1.5zM169.8 166.3h1.5v1.5h-1.5zM189.1 169.1h1.5v1.5h-1.5zM170.7 189.0h1.5v1.5h-1.5zM165.6 184.0h1.5v1.5h-1.5zM178.6 166.3h1.5v1.5h-1.5zM179.3 165.6h1.5v1.5h-1.5zM181.7 166.3h1.5v1.5h-1.5zM161.1 172.8h1.5v1.5h-1.5zM173.2 189.0h1.5v1.5h-1.5zM167.2 187.2h1.5v1.5h-1.5zM162.8 171.6h1.5v1.5h-1.5zM197.2 173.0h1.5v1.5h-1.5zM184.2 190.1h1.5v1.5h-1.5zM193.2 170.0h1.5v1.5h-1.5zM170.3 166.8h1.5v1.5h-1.5zM163.9 183.8h1.5v1.5h-1.5zM182.0 166.8h1.5v1.5h-1.5zM186.5 168.0h1.5v1.5h-1.5zM204.0 184.1h1.5v1.5h-1.5zM170.5 166.3h1.5v1.5h-1.5zM172.4 189.9h1.5v1.5h-1.5zM200.7 186.5h1.5v1.5h-1.5zM198.3 189.2h1.5v1.5h-1.5zM163.4 181.2h1.5v1.5h-1.5zM161.2 174.2h1.5v1.5h-1.5zM204.3 182.1h1.5v1.5h-1.5zM169.7 188.0h1.5v1.5h-1.5zM200.0 187.7h1.5v1.5h-1.5zM165.2 184.8h1.5v1.5h-1.5zM172.0 165.8h1.5v1.5h-1.5zM184.3 166.7h1.5v1.5h-1.5zM161.6 176.4h1.5v1.5h-1.5zM173.9 190.0h1.5v1.5h-1.5zM202.6 185.9h1.5v1.5h-1.5zM165.3 184.7h1.5v1.5h-1.5zM199.2 175.8h1.5v1.5h-1.5zM167.7 185.7h1.5v1.5h-1.5zM204.5 181.9h1.5v1.5h-1.5zM171.0 188.9h1.5v1.5h-1.5z" fill="#6d7d8d"/>
<path d="M183.0 178.4h1.0v1.0h-1.0zM185.8 173.4h1.0v1.0h-1.0zM198.5 175.5h1.0v1.0h-1.0zM194.5 174.4h1.0v1.0h-1.0zM180.6 185.4h1.0v1.0h-1.0zM198.6 183.6h1.0v1.0h-1.0zM194.1 171.5h1.0v1.0h-1.0zM191.1 186.6h1.0v1.0h-1.0z" fill="#fff"/>
<path d="M193.5 202.5h1.4v1.4h-1.4zM188.0 192.4h1.4v1.4h-1.4zM179.7 205.1h1.4v1.4h-1.4zM190.4 209.1h1.4v1.4h-1.4zM198.8 194.8h1.4v1.4h-1.4zM174.3 191.2h1.4v1.4h-1.4zM177.2 190.8h1.4v1.4h-1.4zM183.0 189.7h1.4v1.4h-1.4zM198.1 194.2h1.4v1.4h-1.4zM193.0 193.2h1.4v1.4h-1.4zM175.0 191.6h1.4v1.4h-1.4zM184.6 195.1h1.4v1.4h-1.4zM185.9 205.5h1.4v1.4h-1.4zM173.4 191.5h1.4v1.4h-1.4zM183.9 197.9h1.4v1.4h-1.4zM181.4 197.1h1.4v1.4h-1.4zM171.2 191.2h1.4v1.4h-1.4zM191.5 203.5h1.4v1.4h-1.4zM190.1 203.6h1.4v1.4h-1.4zM183.8 193.0h1.4v1.4h-1.4zM181.8 194.6h1.4v1.4h-1.4zM179.9 207.6h1.4v1.4h-1.4zM175.1 193.9h1.4v1.4h-1.4zM176.2 197.8h1.4v1.4h-1.4zM188.5 198.1h1.4v1.4h-1.4zM196.3 192.0h1.4v1.4h-1.4zM196.1 198.8h1.4v1.4h-1.4zM193.8 197.8h1.4v1.4h-1.4zM188.2 205.6h1.4v1.4h-1.4zM184.1 205.4h1.4v1.4h-1.4zM181.0 198.2h1.4v1.4h-1.4zM199.4 193.2h1.4v1.4h-1.4zM171.3 192.4h1.4v1.4h-1.4zM176.2 198.3h1.4v1.4h-1.4zM179.1 199.3h1.4v1.4h-1.4zM183.6 189.6h1.4v1.4h-1.4zM182.6 210.0h1.4v1.4h-1.4zM188.8 211.0h1.4v1.4h-1.4zM196.3 200.2h1.4v1.4h-1.4zM166.1 189.7h1.4v1.4h-1.4zM186.0 208.5h1.4v1.4h-1.4zM177.2 191.5h1.4v1.4h-1.4zM192.6 201.2h1.4v1.4h-1.4zM182.1 191.4h1.4v1.4h-1.4zM185.2 202.1h1.4v1.4h-1.4zM176.9 198.3h1.4v1.4h-1.4zM181.2 190.0h1.4v1.4h-1.4zM182.4 191.9h1.4v1.4h-1.4zM165.9 189.5h1.4v1.4h-1.4zM179.0 199.1h1.4v1.4h-1.4zM197.8 201.4h1.4v1.4h-1.4zM179.2 189.5h1.4v1.4h-1.4zM189.1 195.4h1.4v1.4h-1.4zM198.8 194.3h1.4v1.4h-1.4zM172.8 192.7h1.4v1.4h-1.4zM172.6 194.0h1.4v1.4h-1.4zM170.4 193.3h1.4v1.4h-1.4zM173.4 198.3h1.4v1.4h-1.4zM173.9 194.7h1.4v1.4h-1.4zM180.4 192.4h1.4v1.4h-1.4zM167.1 190.5h1.4v1.4h-1.4zM176.3 198.0h1.4v1.4h-1.4zM180.7 196.0h1.4v1.4h-1.4zM167.2 192.1h1.4v1.4h-1.4zM170.5 193.3h1.4v1.4h-1.4zM177.2 190.8h1.4v1.4h-1.4zM187.5 193.1h1.4v1.4h-1.4zM183.7 204.9h1.4v1.4h-1.4z" fill="#6d7d8d"/>
<path d="M209.3 174.8C209.6 174.7 210.4 175.1 211.2 175.3C212.0 175.5 213.1 176.0 214.0 176.1C214.9 176.2 215.8 176.2 216.6 176.0C217.4 175.8 218.0 175.6 218.6 175.2C219.2 174.8 219.9 174.2 220.3 173.8C220.7 173.4 220.9 172.6 221.1 172.6C221.2 172.6 221.3 173.3 221.2 173.8C221.1 174.3 220.8 175.1 220.4 175.6C220.0 176.1 219.3 176.6 218.5 177.0C217.7 177.4 216.5 177.7 215.5 177.8C214.5 177.9 213.3 177.8 212.5 177.6C211.7 177.4 211.0 177.1 210.5 176.8C210.0 176.5 209.5 176.1 209.3 175.8C209.1 175.5 209.0 174.9 209.3 174.8Z" fill="#d96c2b"/>
<path d="M220.4 173.4h1.2v1.2h-1.2zM213.7 177.2h1.2v1.2h-1.2zM214.8 175.2h1.2v1.2h-1.2zM216.3 176.9h1.2v1.2h-1.2zM217.0 174.7h1.2v1.2h-1.2zM213.9 175.7h1.2v1.2h-1.2zM220.4 172.7h1.2v1.2h-1.2zM211.7 177.1h1.2v1.2h-1.2zM215.2 175.7h1.2v1.2h-1.2zM215.5 175.5h1.2v1.2h-1.2zM209.4 175.8h1.2v1.2h-1.2zM220.3 172.7h1.2v1.2h-1.2zM211.4 176.5h1.2v1.2h-1.2zM215.9 177.1h1.2v1.2h-1.2zM210.2 174.3h1.2v1.2h-1.2zM209.7 176.0h1.2v1.2h-1.2zM210.8 176.3h1.2v1.2h-1.2zM215.6 175.7h1.2v1.2h-1.2zM216.5 175.0h1.2v1.2h-1.2zM216.7 175.5h1.2v1.2h-1.2zM209.2 175.8h1.2v1.2h-1.2zM220.4 173.0h1.2v1.2h-1.2z" fill="#d96c2b"/>
<path d="M205.0 176.9h1.6v1.6h-1.6zM205.8 182.7h1.6v1.6h-1.6zM206.3 182.2h1.6v1.6h-1.6zM204.2 179.2h1.6v1.6h-1.6zM205.4 180.7h1.6v1.6h-1.6zM206.7 178.6h1.6v1.6h-1.6zM205.8 181.6h1.6v1.6h-1.6zM205.0 180.5h1.6v1.6h-1.6zM206.0 182.0h1.6v1.6h-1.6zM204.4 178.8h1.6v1.6h-1.6z" fill="#d96c2b"/>
<path d="M219.8 168.9h1.5v1.5h-1.5zM198.2 173.2h1.5v1.5h-1.5zM195.2 169.2h1.5v1.5h-1.5zM189.2 167.2h1.5v1.5h-1.5zM174.2 181.2h1.5v1.5h-1.5zM177.2 195.2h1.5v1.5h-1.5zM199.2 193.2h1.5v1.5h-1.5zM181.2 184.2h1.5v1.5h-1.5zM196.2 194.2h1.5v1.5h-1.5z" fill="#d96c2b"/>
<path d="M204.3 183.0h1.7v1.7h-1.7zM205.5 183.3h1.7v1.7h-1.7z" fill="#e3242f"/>
<path d="M202.8 174.8h1.4v1.4h-1.4zM205.3 176.8h1.4v1.4h-1.4zM207.3 176.3h1.4v1.4h-1.4zM209.6 178.3h1.4v1.4h-1.4z" fill="#6d7d8d"/>
<path d="M211.7 178.8h1.4v1.4h-1.4zM213.3 179.5h1.4v1.4h-1.4zM214.9 179.3h1.4v1.4h-1.4z" fill="#a3bad7"/>
<path d="M205.5 198.1h1.6v1.6h-1.6zM204.6 194.5h1.6v1.6h-1.6zM207.4 198.0h1.6v1.6h-1.6zM206.0 194.1h1.6v1.6h-1.6zM207.3 197.1h1.6v1.6h-1.6zM206.5 195.2h1.6v1.6h-1.6zM206.0 195.0h1.6v1.6h-1.6zM208.6 195.8h1.6v1.6h-1.6zM208.1 196.7h1.6v1.6h-1.6zM205.3 195.2h1.6v1.6h-1.6zM207.8 198.4h1.6v1.6h-1.6zM205.5 194.2h1.6v1.6h-1.6zM205.1 195.8h1.6v1.6h-1.6z" fill="#a3bad7"/>
<path d="M172.9 165.9h1.2v1.2h-1.2zM173.9 165.6h1.2v1.2h-1.2z" fill="#3b79b2"/>
<path d="M261.5 217.0h1.2v1.2h-1.2zM275.2 215.2h1.2v1.2h-1.2zM263.1 217.6h1.2v1.2h-1.2zM253.8 216.1h1.2v1.2h-1.2zM267.4 218.1h1.2v1.2h-1.2zM263.5 218.6h1.2v1.2h-1.2zM262.9 219.0h1.2v1.2h-1.2zM261.7 211.7h1.2v1.2h-1.2zM272.8 219.8h1.2v1.2h-1.2zM270.6 214.0h1.2v1.2h-1.2zM273.0 213.7h1.2v1.2h-1.2zM276.2 222.5h1.2v1.2h-1.2zM274.8 215.3h1.2v1.2h-1.2zM250.5 218.4h1.2v1.2h-1.2zM271.0 211.5h1.2v1.2h-1.2zM276.4 220.8h1.2v1.2h-1.2zM271.5 209.8h1.2v1.2h-1.2zM264.6 214.9h1.2v1.2h-1.2zM252.2 218.6h1.2v1.2h-1.2zM251.8 214.4h1.2v1.2h-1.2zM276.6 221.7h1.2v1.2h-1.2zM254.5 213.9h1.2v1.2h-1.2zM273.2 218.6h1.2v1.2h-1.2zM270.8 212.7h1.2v1.2h-1.2zM251.0 217.5h1.2v1.2h-1.2zM255.4 217.8h1.2v1.2h-1.2zM259.2 215.0h1.2v1.2h-1.2zM276.2 215.6h1.2v1.2h-1.2zM274.7 221.9h1.2v1.2h-1.2zM274.0 217.9h1.2v1.2h-1.2zM255.3 219.8h1.2v1.2h-1.2zM265.7 212.0h1.2v1.2h-1.2zM266.2 211.7h1.2v1.2h-1.2zM253.5 213.4h1.2v1.2h-1.2zM265.0 208.9h1.2v1.2h-1.2zM276.8 218.9h1.2v1.2h-1.2zM268.4 217.5h1.2v1.2h-1.2zM262.4 220.3h1.2v1.2h-1.2zM250.6 216.8h1.2v1.2h-1.2zM269.8 219.8h1.2v1.2h-1.2zM258.6 219.4h1.2v1.2h-1.2zM273.4 217.3h1.2v1.2h-1.2zM266.5 213.7h1.2v1.2h-1.2zM265.3 218.0h1.2v1.2h-1.2zM250.7 218.5h1.2v1.2h-1.2zM269.5 213.8h1.2v1.2h-1.2zM269.7 217.4h1.2v1.2h-1.2zM249.3 217.8h1.2v1.2h-1.2zM262.3 210.8h1.2v1.2h-1.2zM268.7 215.8h1.2v1.2h-1.2zM257.1 219.3h1.2v1.2h-1.2zM274.7 218.9h1.2v1.2h-1.2zM257.9 219.1h1.2v1.2h-1.2zM254.2 214.6h1.2v1.2h-1.2zM273.9 213.7h1.2v1.2h-1.2zM265.3 212.4h1.2v1.2h-1.2zM252.3 215.8h1.2v1.2h-1.2zM261.5 211.6h1.2v1.2h-1.2zM254.6 214.3h1.2v1.2h-1.2zM266.5 215.8h1.2v1.2h-1.2zM269.0 217.2h1.2v1.2h-1.2zM272.5 210.9h1.2v1.2h-1.2zM266.6 214.9h1.2v1.2h-1.2zM266.7 218.8h1.2v1.2h-1.2zM268.3 210.2h1.2v1.2h-1.2zM262.2 209.8h1.2v1.2h-1.2zM269.1 209.8h1.2v1.2h-1.2zM256.3 213.0h1.2v1.2h-1.2zM268.6 216.3h1.2v1.2h-1.2zM266.2 220.8h1.2v1.2h-1.2zM275.4 220.1h1.2v1.2h-1.2zM252.2 215.0h1.2v1.2h-1.2zM259.3 217.2h1.2v1.2h-1.2zM273.9 221.5h1.2v1.2h-1.2zM275.8 215.2h1.2v1.2h-1.2zM267.3 210.3h1.2v1.2h-1.2zM267.0 220.0h1.2v1.2h-1.2zM273.2 213.0h1.2v1.2h-1.2zM250.8 214.8h1.2v1.2h-1.2zM271.6 209.7h1.2v1.2h-1.2zM263.4 220.1h1.2v1.2h-1.2zM272.8 219.5h1.2v1.2h-1.2zM275.8 215.8h1.2v1.2h-1.2zM254.8 216.4h1.2v1.2h-1.2zM266.9 216.3h1.2v1.2h-1.2zM272.9 217.0h1.2v1.2h-1.2zM257.4 213.6h1.2v1.2h-1.2zM276.5 216.4h1.2v1.2h-1.2zM265.0 210.2h1.2v1.2h-1.2zM263.9 216.0h1.2v1.2h-1.2zM276.5 216.2h1.2v1.2h-1.2zM264.7 215.7h1.2v1.2h-1.2zM264.0 214.3h1.2v1.2h-1.2zM256.2 215.4h1.2v1.2h-1.2zM252.1 214.6h1.2v1.2h-1.2zM262.2 212.4h1.2v1.2h-1.2zM254.0 218.1h1.2v1.2h-1.2zM268.3 212.5h1.2v1.2h-1.2zM258.7 218.2h1.2v1.2h-1.2zM252.0 216.1h1.2v1.2h-1.2zM263.8 214.7h1.2v1.2h-1.2zM259.3 214.3h1.2v1.2h-1.2zM263.8 209.4h1.2v1.2h-1.2zM254.3 218.4h1.2v1.2h-1.2zM266.9 216.5h1.2v1.2h-1.2zM273.1 218.0h1.2v1.2h-1.2zM272.5 214.4h1.2v1.2h-1.2zM260.1 219.4h1.2v1.2h-1.2zM263.0 219.4h1.2v1.2h-1.2zM264.4 216.2h1.2v1.2h-1.2zM264.9 209.2h1.2v1.2h-1.2zM257.9 215.3h1.2v1.2h-1.2zM263.3 214.6h1.2v1.2h-1.2zM253.7 215.0h1.2v1.2h-1.2zM269.8 214.1h1.2v1.2h-1.2z" fill="#e3242f"/>
<path d="M248.8 207.1h1.5v1.5h-1.5zM256.2 207.8h1.5v1.5h-1.5zM261.2 207.2h1.5v1.5h-1.5z" fill="#e3242f"/>
<path d="M244.2 200.8h1.3v1.3h-1.3zM245.3 201.8h1.3v1.3h-1.3zM246.8 203.2h1.3v1.3h-1.3zM248.3 201.3h1.3v1.3h-1.3zM250.3 201.7h1.3v1.3h-1.3zM252.8 202.3h1.3v1.3h-1.3zM251.3 203.8h1.3v1.3h-1.3zM247.3 205.0h1.3v1.3h-1.3z" fill="#a3bad7"/>
<path d="M276.1 227.6h1.6v1.6h-1.6z" fill="#74c5d3"/>
<path d="M239.5 233.7h1.8v1.8h-1.8zM238.7 235.3h1.8v1.8h-1.8z" fill="#e3242f"/>
<path d="M238.4 237.8L237.5 238.8" stroke="#74c5d3" stroke-width="1.5" fill="none" stroke-linecap="round"/>
<path d="M234.9 239.5h1.4v1.4h-1.4z" fill="#74c5d3"/>
<path d="M232.3 241.3h1.7v1.7h-1.7zM233.2 240.6h1.7v1.7h-1.7zM231.6 246.7h1.7v1.7h-1.7zM226.7 249.7h1.7v1.7h-1.7zM227.7 248.3h1.7v1.7h-1.7zM229.2 247.8h1.7v1.7h-1.7zM226.3 250.2h1.7v1.7h-1.7z" fill="#a41f2c"/>
<path d="M184.9 255.8h1.6v1.6h-1.6zM191.6 264.1h1.6v1.6h-1.6zM189.8 264.9h1.6v1.6h-1.6zM189.0 258.9h1.6v1.6h-1.6zM188.8 260.2h1.6v1.6h-1.6zM192.4 264.1h1.6v1.6h-1.6zM190.1 263.8h1.6v1.6h-1.6zM190.8 258.9h1.6v1.6h-1.6zM191.6 265.1h1.6v1.6h-1.6zM189.7 263.7h1.6v1.6h-1.6zM190.3 258.9h1.6v1.6h-1.6zM186.3 259.7h1.6v1.6h-1.6zM183.1 258.3h1.6v1.6h-1.6zM189.1 261.8h1.6v1.6h-1.6zM189.4 258.0h1.6v1.6h-1.6zM189.3 261.1h1.6v1.6h-1.6zM188.1 258.7h1.6v1.6h-1.6zM192.6 262.0h1.6v1.6h-1.6zM189.7 263.6h1.6v1.6h-1.6zM188.9 263.3h1.6v1.6h-1.6zM185.5 258.9h1.6v1.6h-1.6zM183.5 256.2h1.6v1.6h-1.6zM186.6 254.9h1.6v1.6h-1.6zM188.3 260.3h1.6v1.6h-1.6zM192.3 261.0h1.6v1.6h-1.6zM192.6 262.0h1.6v1.6h-1.6zM188.7 263.5h1.6v1.6h-1.6zM184.5 259.8h1.6v1.6h-1.6zM184.6 260.1h1.6v1.6h-1.6zM188.1 261.4h1.6v1.6h-1.6zM186.5 257.3h1.6v1.6h-1.6zM189.3 260.9h1.6v1.6h-1.6zM185.7 263.0h1.6v1.6h-1.6zM185.8 253.8h1.6v1.6h-1.6zM185.4 254.2h1.6v1.6h-1.6zM184.5 263.5h1.6v1.6h-1.6zM186.7 265.4h1.6v1.6h-1.6zM187.1 259.9h1.6v1.6h-1.6zM188.0 265.9h1.6v1.6h-1.6zM189.9 259.7h1.6v1.6h-1.6zM192.4 264.3h1.6v1.6h-1.6zM189.0 259.6h1.6v1.6h-1.6zM185.0 254.3h1.6v1.6h-1.6zM188.1 255.2h1.6v1.6h-1.6zM187.3 262.3h1.6v1.6h-1.6zM187.4 257.0h1.6v1.6h-1.6zM188.6 259.1h1.6v1.6h-1.6zM190.5 260.6h1.6v1.6h-1.6zM190.5 261.8h1.6v1.6h-1.6zM186.4 257.2h1.6v1.6h-1.6zM189.6 261.0h1.6v1.6h-1.6zM188.7 261.9h1.6v1.6h-1.6zM191.8 265.1h1.6v1.6h-1.6zM185.6 259.2h1.6v1.6h-1.6zM183.8 262.5h1.6v1.6h-1.6zM188.3 261.9h1.6v1.6h-1.6zM186.6 259.9h1.6v1.6h-1.6zM185.0 258.1h1.6v1.6h-1.6zM190.2 264.6h1.6v1.6h-1.6zM183.7 255.2h1.6v1.6h-1.6zM190.8 261.8h1.6v1.6h-1.6zM187.1 257.0h1.6v1.6h-1.6zM190.8 258.4h1.6v1.6h-1.6zM189.3 266.6h1.6v1.6h-1.6zM186.1 260.8h1.6v1.6h-1.6zM190.2 265.7h1.6v1.6h-1.6zM187.1 258.4h1.6v1.6h-1.6z" fill="#3b79b2"/>
<path d="M180.7 263.9h1.6v1.6h-1.6zM181.9 259.8h1.6v1.6h-1.6zM182.9 254.9h1.6v1.6h-1.6zM177.0 267.8h1.6v1.6h-1.6zM175.6 259.9h1.6v1.6h-1.6zM182.3 268.5h1.6v1.6h-1.6zM178.5 269.2h1.6v1.6h-1.6zM182.2 265.7h1.6v1.6h-1.6zM184.3 262.8h1.6v1.6h-1.6zM183.2 259.9h1.6v1.6h-1.6zM178.1 262.0h1.6v1.6h-1.6zM177.4 261.2h1.6v1.6h-1.6zM178.6 261.2h1.6v1.6h-1.6zM178.9 261.7h1.6v1.6h-1.6zM176.8 265.6h1.6v1.6h-1.6zM183.1 265.1h1.6v1.6h-1.6zM183.5 265.6h1.6v1.6h-1.6zM176.6 269.9h1.6v1.6h-1.6zM184.0 259.4h1.6v1.6h-1.6zM175.0 264.5h1.6v1.6h-1.6zM180.5 265.7h1.6v1.6h-1.6zM183.2 254.6h1.6v1.6h-1.6zM180.5 270.5h1.6v1.6h-1.6zM175.7 267.2h1.6v1.6h-1.6zM176.3 269.6h1.6v1.6h-1.6zM181.5 258.6h1.6v1.6h-1.6zM177.1 270.0h1.6v1.6h-1.6zM180.2 270.0h1.6v1.6h-1.6zM178.9 260.6h1.6v1.6h-1.6zM179.9 265.0h1.6v1.6h-1.6zM182.3 268.8h1.6v1.6h-1.6zM184.3 262.2h1.6v1.6h-1.6zM183.4 267.9h1.6v1.6h-1.6zM180.2 268.8h1.6v1.6h-1.6zM183.1 262.5h1.6v1.6h-1.6zM179.2 256.4h1.6v1.6h-1.6zM178.7 256.9h1.6v1.6h-1.6zM176.9 262.5h1.6v1.6h-1.6zM177.8 274.5h1.6v1.6h-1.6zM176.0 267.5h1.6v1.6h-1.6zM182.9 257.1h1.6v1.6h-1.6zM175.4 263.3h1.6v1.6h-1.6zM180.9 273.2h1.6v1.6h-1.6zM177.2 269.0h1.6v1.6h-1.6z" fill="#3b79b2"/>
<path d="M179.3 254.3h1.3v1.3h-1.3zM180.8 255.3h1.3v1.3h-1.3zM182.8 253.8h1.3v1.3h-1.3zM177.3 258.4h1.3v1.3h-1.3zM185.3 253.8h1.3v1.3h-1.3zM186.8 254.3h1.3v1.3h-1.3z" fill="#6d7d8d"/>
<path d="M193.3 266.8h1.6v1.6h-1.6zM187.2 272.9h1.6v1.6h-1.6zM189.2 270.5h1.6v1.6h-1.6zM188.5 274.4h1.6v1.6h-1.6zM191.7 266.7h1.6v1.6h-1.6zM185.4 275.1h1.6v1.6h-1.6zM196.3 268.6h1.6v1.6h-1.6zM192.3 270.1h1.6v1.6h-1.6zM194.2 266.9h1.6v1.6h-1.6zM190.1 273.4h1.6v1.6h-1.6zM189.4 267.2h1.6v1.6h-1.6zM188.6 270.3h1.6v1.6h-1.6zM186.9 273.1h1.6v1.6h-1.6zM195.1 265.3h1.6v1.6h-1.6zM191.7 269.6h1.6v1.6h-1.6zM197.1 267.7h1.6v1.6h-1.6zM196.1 269.0h1.6v1.6h-1.6zM198.0 265.2h1.6v1.6h-1.6zM196.7 266.6h1.6v1.6h-1.6zM192.6 270.2h1.6v1.6h-1.6zM187.0 273.8h1.6v1.6h-1.6zM189.2 267.8h1.6v1.6h-1.6zM191.5 272.4h1.6v1.6h-1.6zM189.9 272.1h1.6v1.6h-1.6zM195.0 266.9h1.6v1.6h-1.6zM192.9 269.5h1.6v1.6h-1.6zM196.3 266.6h1.6v1.6h-1.6zM193.6 267.5h1.6v1.6h-1.6z" fill="#e7776d"/>
<path d="M199.3 263.8h1.4v1.4h-1.4zM183.8 275.3h1.4v1.4h-1.4zM185.3 273.3h1.4v1.4h-1.4z" fill="#e7776d"/>
<path d="M307.9 181.2h1.6v1.6h-1.6zM304.8 175.4h1.6v1.6h-1.6zM308.5 184.8h1.6v1.6h-1.6zM303.2 171.6h1.6v1.6h-1.6zM321.7 175.2h1.6v1.6h-1.6zM330.1 181.8h1.6v1.6h-1.6zM321.4 175.3h1.6v1.6h-1.6zM298.7 168.6h1.6v1.6h-1.6zM319.6 185.9h1.6v1.6h-1.6zM300.2 177.3h1.6v1.6h-1.6zM325.8 182.7h1.6v1.6h-1.6zM296.7 172.3h1.6v1.6h-1.6zM299.3 169.4h1.6v1.6h-1.6zM309.1 168.0h1.6v1.6h-1.6zM329.1 178.0h1.6v1.6h-1.6zM313.2 184.2h1.6v1.6h-1.6zM323.1 189.1h1.6v1.6h-1.6zM308.3 175.3h1.6v1.6h-1.6zM309.3 166.3h1.6v1.6h-1.6zM308.8 185.7h1.6v1.6h-1.6zM318.9 183.1h1.6v1.6h-1.6zM293.9 175.3h1.6v1.6h-1.6zM306.5 184.3h1.6v1.6h-1.6zM297.3 176.6h1.6v1.6h-1.6zM313.1 188.2h1.6v1.6h-1.6zM325.4 183.2h1.6v1.6h-1.6zM299.4 187.6h1.6v1.6h-1.6zM328.4 181.4h1.6v1.6h-1.6zM306.9 180.1h1.6v1.6h-1.6zM298.7 186.1h1.6v1.6h-1.6zM321.1 189.5h1.6v1.6h-1.6zM317.7 171.5h1.6v1.6h-1.6zM296.4 172.8h1.6v1.6h-1.6zM315.7 185.6h1.6v1.6h-1.6zM307.3 179.0h1.6v1.6h-1.6zM314.4 181.8h1.6v1.6h-1.6zM315.1 173.4h1.6v1.6h-1.6zM325.1 182.9h1.6v1.6h-1.6zM298.0 189.2h1.6v1.6h-1.6zM304.5 191.3h1.6v1.6h-1.6zM302.6 182.1h1.6v1.6h-1.6zM325.6 171.2h1.6v1.6h-1.6zM314.6 168.1h1.6v1.6h-1.6zM318.9 174.6h1.6v1.6h-1.6zM319.4 186.8h1.6v1.6h-1.6zM308.1 182.7h1.6v1.6h-1.6zM301.0 179.1h1.6v1.6h-1.6zM298.8 176.8h1.6v1.6h-1.6zM315.4 170.8h1.6v1.6h-1.6zM313.5 173.4h1.6v1.6h-1.6zM315.4 175.3h1.6v1.6h-1.6zM318.2 167.0h1.6v1.6h-1.6zM319.4 170.0h1.6v1.6h-1.6zM330.6 182.9h1.6v1.6h-1.6zM311.5 177.5h1.6v1.6h-1.6zM317.5 185.4h1.6v1.6h-1.6zM322.8 187.2h1.6v1.6h-1.6zM325.9 190.1h1.6v1.6h-1.6zM309.2 178.2h1.6v1.6h-1.6zM315.3 191.5h1.6v1.6h-1.6zM313.7 180.8h1.6v1.6h-1.6zM310.1 191.5h1.6v1.6h-1.6zM305.7 167.4h1.6v1.6h-1.6zM321.5 191.4h1.6v1.6h-1.6zM321.7 182.8h1.6v1.6h-1.6zM322.5 174.5h1.6v1.6h-1.6zM316.3 167.9h1.6v1.6h-1.6zM298.1 178.5h1.6v1.6h-1.6zM312.8 177.1h1.6v1.6h-1.6zM295.2 185.6h1.6v1.6h-1.6zM313.7 172.7h1.6v1.6h-1.6zM305.1 177.1h1.6v1.6h-1.6zM302.4 167.8h1.6v1.6h-1.6zM319.2 190.4h1.6v1.6h-1.6zM309.6 188.7h1.6v1.6h-1.6zM301.8 187.0h1.6v1.6h-1.6zM315.3 191.5h1.6v1.6h-1.6zM297.0 188.3h1.6v1.6h-1.6zM298.0 181.1h1.6v1.6h-1.6zM302.7 174.4h1.6v1.6h-1.6zM305.9 167.7h1.6v1.6h-1.6zM328.1 189.0h1.6v1.6h-1.6zM308.7 176.0h1.6v1.6h-1.6zM316.0 167.2h1.6v1.6h-1.6zM305.2 180.0h1.6v1.6h-1.6zM311.6 171.7h1.6v1.6h-1.6zM328.2 171.4h1.6v1.6h-1.6zM325.9 175.9h1.6v1.6h-1.6zM311.6 170.8h1.6v1.6h-1.6zM301.1 183.8h1.6v1.6h-1.6zM321.5 174.8h1.6v1.6h-1.6zM328.3 190.5h1.6v1.6h-1.6zM321.0 169.7h1.6v1.6h-1.6zM320.3 192.4h1.6v1.6h-1.6zM310.6 168.1h1.6v1.6h-1.6zM301.9 174.6h1.6v1.6h-1.6zM320.9 171.5h1.6v1.6h-1.6zM300.3 172.6h1.6v1.6h-1.6zM319.1 188.3h1.6v1.6h-1.6zM307.7 184.6h1.6v1.6h-1.6zM327.7 182.6h1.6v1.6h-1.6zM302.1 174.4h1.6v1.6h-1.6zM329.3 184.8h1.6v1.6h-1.6zM304.0 184.0h1.6v1.6h-1.6zM310.4 180.9h1.6v1.6h-1.6zM313.9 167.2h1.6v1.6h-1.6zM316.6 174.0h1.6v1.6h-1.6zM303.0 188.6h1.6v1.6h-1.6zM296.6 174.0h1.6v1.6h-1.6zM322.7 172.9h1.6v1.6h-1.6zM304.1 181.4h1.6v1.6h-1.6zM311.2 187.1h1.6v1.6h-1.6zM308.2 192.2h1.6v1.6h-1.6zM312.7 171.0h1.6v1.6h-1.6zM314.9 184.2h1.6v1.6h-1.6zM307.2 184.5h1.6v1.6h-1.6zM323.7 180.5h1.6v1.6h-1.6zM312.9 189.8h1.6v1.6h-1.6zM319.9 180.6h1.6v1.6h-1.6zM323.6 170.6h1.6v1.6h-1.6zM316.9 172.6h1.6v1.6h-1.6zM310.4 187.8h1.6v1.6h-1.6zM323.9 188.3h1.6v1.6h-1.6zM302.4 179.7h1.6v1.6h-1.6zM301.8 182.3h1.6v1.6h-1.6zM312.7 166.9h1.6v1.6h-1.6zM316.5 186.1h1.6v1.6h-1.6zM315.5 190.6h1.6v1.6h-1.6zM300.2 170.2h1.6v1.6h-1.6zM293.9 179.9h1.6v1.6h-1.6zM310.2 178.4h1.6v1.6h-1.6zM303.5 188.5h1.6v1.6h-1.6zM315.4 181.3h1.6v1.6h-1.6zM324.1 172.6h1.6v1.6h-1.6zM298.9 174.7h1.6v1.6h-1.6zM294.9 174.8h1.6v1.6h-1.6zM317.4 180.8h1.6v1.6h-1.6zM303.5 182.6h1.6v1.6h-1.6zM299.9 173.1h1.6v1.6h-1.6zM299.4 185.4h1.6v1.6h-1.6zM325.6 188.2h1.6v1.6h-1.6zM295.6 177.5h1.6v1.6h-1.6zM307.4 172.0h1.6v1.6h-1.6zM312.3 187.4h1.6v1.6h-1.6zM311.0 187.0h1.6v1.6h-1.6zM294.7 172.7h1.6v1.6h-1.6zM308.5 174.3h1.6v1.6h-1.6zM309.8 168.1h1.6v1.6h-1.6zM323.0 186.7h1.6v1.6h-1.6zM302.2 173.1h1.6v1.6h-1.6zM314.7 172.7h1.6v1.6h-1.6zM311.2 192.3h1.6v1.6h-1.6zM307.4 175.4h1.6v1.6h-1.6zM294.7 177.3h1.6v1.6h-1.6zM318.5 167.6h1.6v1.6h-1.6zM306.6 185.6h1.6v1.6h-1.6zM326.9 182.6h1.6v1.6h-1.6zM327.8 179.0h1.6v1.6h-1.6zM308.5 189.8h1.6v1.6h-1.6zM308.1 188.0h1.6v1.6h-1.6zM301.6 175.7h1.6v1.6h-1.6zM300.4 181.5h1.6v1.6h-1.6zM299.6 171.7h1.6v1.6h-1.6zM301.6 179.1h1.6v1.6h-1.6zM305.2 178.6h1.6v1.6h-1.6zM326.8 171.7h1.6v1.6h-1.6zM308.1 168.0h1.6v1.6h-1.6zM320.2 176.2h1.6v1.6h-1.6zM300.3 173.3h1.6v1.6h-1.6zM308.5 192.0h1.6v1.6h-1.6zM321.1 173.5h1.6v1.6h-1.6zM307.3 170.2h1.6v1.6h-1.6zM329.7 176.1h1.6v1.6h-1.6zM323.1 186.4h1.6v1.6h-1.6zM305.8 176.8h1.6v1.6h-1.6zM305.9 187.7h1.6v1.6h-1.6zM313.5 167.5h1.6v1.6h-1.6zM308.6 172.6h1.6v1.6h-1.6zM316.4 166.8h1.6v1.6h-1.6zM305.4 177.9h1.6v1.6h-1.6zM314.4 169.7h1.6v1.6h-1.6zM320.8 173.3h1.6v1.6h-1.6zM321.5 184.8h1.6v1.6h-1.6zM298.9 171.7h1.6v1.6h-1.6zM304.1 186.1h1.6v1.6h-1.6zM309.0 176.8h1.6v1.6h-1.6zM327.0 172.3h1.6v1.6h-1.6zM304.6 175.7h1.6v1.6h-1.6zM315.3 188.8h1.6v1.6h-1.6zM319.3 191.9h1.6v1.6h-1.6zM301.6 185.4h1.6v1.6h-1.6zM319.2 192.9h1.6v1.6h-1.6zM327.1 172.5h1.6v1.6h-1.6zM317.9 168.4h1.6v1.6h-1.6zM309.9 177.0h1.6v1.6h-1.6zM295.5 176.7h1.6v1.6h-1.6zM306.0 180.0h1.6v1.6h-1.6zM304.1 170.4h1.6v1.6h-1.6zM308.9 179.3h1.6v1.6h-1.6zM299.7 184.7h1.6v1.6h-1.6zM302.6 168.5h1.6v1.6h-1.6zM306.5 177.9h1.6v1.6h-1.6zM299.1 182.4h1.6v1.6h-1.6zM320.6 181.6h1.6v1.6h-1.6zM308.5 176.2h1.6v1.6h-1.6zM295.7 177.3h1.6v1.6h-1.6zM295.3 179.9h1.6v1.6h-1.6zM316.0 179.2h1.6v1.6h-1.6zM305.9 173.1h1.6v1.6h-1.6zM294.1 175.7h1.6v1.6h-1.6zM328.0 181.9h1.6v1.6h-1.6zM303.4 184.8h1.6v1.6h-1.6zM300.5 179.2h1.6v1.6h-1.6zM317.2 192.9h1.6v1.6h-1.6zM307.3 182.2h1.6v1.6h-1.6zM330.0 187.7h1.6v1.6h-1.6zM317.7 183.5h1.6v1.6h-1.6zM309.2 177.7h1.6v1.6h-1.6zM304.0 189.4h1.6v1.6h-1.6zM327.5 176.7h1.6v1.6h-1.6zM298.5 180.3h1.6v1.6h-1.6zM305.2 176.1h1.6v1.6h-1.6zM300.7 172.4h1.6v1.6h-1.6zM319.7 172.5h1.6v1.6h-1.6zM308.6 172.7h1.6v1.6h-1.6zM312.5 184.3h1.6v1.6h-1.6zM314.6 183.6h1.6v1.6h-1.6zM315.1 189.4h1.6v1.6h-1.6zM306.7 191.0h1.6v1.6h-1.6zM305.4 186.2h1.6v1.6h-1.6zM320.3 185.3h1.6v1.6h-1.6zM330.8 189.2h1.6v1.6h-1.6zM299.4 183.5h1.6v1.6h-1.6zM312.3 181.9h1.6v1.6h-1.6zM307.6 174.0h1.6v1.6h-1.6zM322.4 181.0h1.6v1.6h-1.6zM302.4 173.0h1.6v1.6h-1.6zM305.9 170.9h1.6v1.6h-1.6zM313.2 169.5h1.6v1.6h-1.6zM297.2 185.8h1.6v1.6h-1.6zM297.6 178.7h1.6v1.6h-1.6zM323.3 179.5h1.6v1.6h-1.6zM303.1 180.3h1.6v1.6h-1.6zM324.3 177.0h1.6v1.6h-1.6zM321.1 173.0h1.6v1.6h-1.6zM321.1 175.2h1.6v1.6h-1.6zM306.2 187.4h1.6v1.6h-1.6zM326.1 189.3h1.6v1.6h-1.6zM315.3 177.8h1.6v1.6h-1.6zM320.8 183.5h1.6v1.6h-1.6zM325.6 188.6h1.6v1.6h-1.6zM298.1 176.6h1.6v1.6h-1.6zM319.3 172.4h1.6v1.6h-1.6zM316.0 192.5h1.6v1.6h-1.6zM320.0 177.8h1.6v1.6h-1.6zM317.8 177.1h1.6v1.6h-1.6zM304.4 186.6h1.6v1.6h-1.6zM306.1 166.7h1.6v1.6h-1.6zM314.4 179.6h1.6v1.6h-1.6zM307.8 174.7h1.6v1.6h-1.6zM324.4 189.6h1.6v1.6h-1.6zM304.3 177.0h1.6v1.6h-1.6zM317.3 187.6h1.6v1.6h-1.6zM320.3 181.4h1.6v1.6h-1.6zM324.4 170.1h1.6v1.6h-1.6zM300.0 168.9h1.6v1.6h-1.6zM312.2 169.3h1.6v1.6h-1.6zM315.3 170.0h1.6v1.6h-1.6zM317.6 173.7h1.6v1.6h-1.6zM302.1 179.5h1.6v1.6h-1.6zM307.5 173.2h1.6v1.6h-1.6zM328.0 174.7h1.6v1.6h-1.6zM296.3 171.1h1.6v1.6h-1.6zM301.1 190.4h1.6v1.6h-1.6zM312.1 177.6h1.6v1.6h-1.6zM324.7 177.1h1.6v1.6h-1.6zM295.4 181.5h1.6v1.6h-1.6zM318.8 183.5h1.6v1.6h-1.6zM310.5 189.5h1.6v1.6h-1.6zM321.5 170.9h1.6v1.6h-1.6zM307.2 187.2h1.6v1.6h-1.6zM305.3 180.5h1.6v1.6h-1.6zM313.8 188.8h1.6v1.6h-1.6zM324.1 186.7h1.6v1.6h-1.6zM308.8 188.6h1.6v1.6h-1.6zM325.5 187.6h1.6v1.6h-1.6zM330.3 177.3h1.6v1.6h-1.6zM320.7 173.0h1.6v1.6h-1.6zM315.7 172.3h1.6v1.6h-1.6zM308.3 176.4h1.6v1.6h-1.6zM318.8 188.8h1.6v1.6h-1.6zM307.4 184.0h1.6v1.6h-1.6zM307.0 173.8h1.6v1.6h-1.6zM328.5 175.0h1.6v1.6h-1.6zM296.9 175.4h1.6v1.6h-1.6zM322.1 171.9h1.6v1.6h-1.6zM322.2 181.4h1.6v1.6h-1.6zM319.7 170.9h1.6v1.6h-1.6zM297.3 169.9h1.6v1.6h-1.6zM306.9 178.1h1.6v1.6h-1.6zM293.6 180.1h1.6v1.6h-1.6zM308.9 175.0h1.6v1.6h-1.6zM314.1 192.8h1.6v1.6h-1.6zM305.7 187.2h1.6v1.6h-1.6zM310.0 193.1h1.6v1.6h-1.6zM301.8 177.5h1.6v1.6h-1.6zM320.7 170.9h1.6v1.6h-1.6zM303.9 185.1h1.6v1.6h-1.6zM330.2 175.0h1.6v1.6h-1.6zM300.4 176.0h1.6v1.6h-1.6zM318.0 176.6h1.6v1.6h-1.6zM318.3 171.9h1.6v1.6h-1.6zM317.2 191.0h1.6v1.6h-1.6zM326.6 183.7h1.6v1.6h-1.6zM312.9 182.0h1.6v1.6h-1.6zM297.7 189.6h1.6v1.6h-1.6zM320.1 178.7h1.6v1.6h-1.6zM319.2 177.8h1.6v1.6h-1.6zM308.2 172.4h1.6v1.6h-1.6zM316.6 182.1h1.6v1.6h-1.6zM313.3 166.8h1.6v1.6h-1.6zM317.7 178.5h1.6v1.6h-1.6zM316.3 182.7h1.6v1.6h-1.6zM322.0 174.8h1.6v1.6h-1.6zM308.9 190.4h1.6v1.6h-1.6zM312.4 172.5h1.6v1.6h-1.6zM326.0 184.3h1.6v1.6h-1.6zM329.8 189.4h1.6v1.6h-1.6zM324.3 180.4h1.6v1.6h-1.6zM327.1 186.0h1.6v1.6h-1.6zM303.0 188.7h1.6v1.6h-1.6zM310.9 181.1h1.6v1.6h-1.6zM327.0 171.4h1.6v1.6h-1.6zM304.1 184.1h1.6v1.6h-1.6zM296.1 181.6h1.6v1.6h-1.6zM323.9 179.8h1.6v1.6h-1.6zM302.6 188.5h1.6v1.6h-1.6zM326.5 187.7h1.6v1.6h-1.6zM314.6 191.5h1.6v1.6h-1.6zM324.3 170.2h1.6v1.6h-1.6zM307.5 168.7h1.6v1.6h-1.6zM294.6 175.7h1.6v1.6h-1.6zM326.9 189.5h1.6v1.6h-1.6zM297.8 171.0h1.6v1.6h-1.6zM308.4 189.9h1.6v1.6h-1.6zM317.3 191.4h1.6v1.6h-1.6zM301.3 183.7h1.6v1.6h-1.6zM327.4 186.5h1.6v1.6h-1.6zM300.9 184.8h1.6v1.6h-1.6zM310.0 166.3h1.6v1.6h-1.6zM306.4 174.8h1.6v1.6h-1.6zM317.8 173.8h1.6v1.6h-1.6zM316.7 185.6h1.6v1.6h-1.6zM300.2 169.5h1.6v1.6h-1.6zM320.3 179.1h1.6v1.6h-1.6zM298.2 169.2h1.6v1.6h-1.6zM329.9 183.2h1.6v1.6h-1.6zM307.1 171.5h1.6v1.6h-1.6zM321.9 176.1h1.6v1.6h-1.6zM305.3 177.5h1.6v1.6h-1.6zM298.9 183.8h1.6v1.6h-1.6zM309.8 189.1h1.6v1.6h-1.6zM309.2 178.8h1.6v1.6h-1.6zM313.0 192.5h1.6v1.6h-1.6zM306.7 185.8h1.6v1.6h-1.6zM302.4 182.3h1.6v1.6h-1.6zM304.3 190.6h1.6v1.6h-1.6zM304.4 190.1h1.6v1.6h-1.6zM319.6 178.8h1.6v1.6h-1.6zM329.6 176.9h1.6v1.6h-1.6zM322.2 182.9h1.6v1.6h-1.6zM310.7 167.7h1.6v1.6h-1.6zM309.5 173.9h1.6v1.6h-1.6zM310.4 192.9h1.6v1.6h-1.6zM304.6 185.6h1.6v1.6h-1.6zM319.4 172.8h1.6v1.6h-1.6zM309.2 169.6h1.6v1.6h-1.6zM328.1 173.0h1.6v1.6h-1.6zM309.6 175.6h1.6v1.6h-1.6zM325.2 190.0h1.6v1.6h-1.6zM316.2 181.3h1.6v1.6h-1.6zM296.6 176.2h1.6v1.6h-1.6zM307.8 186.4h1.6v1.6h-1.6zM319.3 175.6h1.6v1.6h-1.6zM311.5 176.1h1.6v1.6h-1.6zM311.3 174.8h1.6v1.6h-1.6zM319.4 183.0h1.6v1.6h-1.6zM325.5 184.3h1.6v1.6h-1.6zM295.8 179.0h1.6v1.6h-1.6zM308.9 184.5h1.6v1.6h-1.6zM301.4 176.4h1.6v1.6h-1.6zM298.8 177.1h1.6v1.6h-1.6zM322.1 168.3h1.6v1.6h-1.6zM299.7 184.3h1.6v1.6h-1.6zM317.5 186.9h1.6v1.6h-1.6zM303.1 188.9h1.6v1.6h-1.6zM321.7 187.9h1.6v1.6h-1.6zM297.9 179.2h1.6v1.6h-1.6zM330.0 191.3h1.6v1.6h-1.6zM294.1 175.8h1.6v1.6h-1.6zM314.1 181.0h1.6v1.6h-1.6zM297.5 188.2h1.6v1.6h-1.6zM305.0 180.3h1.6v1.6h-1.6zM298.1 182.0h1.6v1.6h-1.6zM298.3 168.4h1.6v1.6h-1.6zM313.2 174.2h1.6v1.6h-1.6zM323.5 172.9h1.6v1.6h-1.6zM309.3 167.4h1.6v1.6h-1.6zM301.7 178.7h1.6v1.6h-1.6zM315.0 178.9h1.6v1.6h-1.6zM326.4 170.3h1.6v1.6h-1.6zM309.1 183.2h1.6v1.6h-1.6zM309.3 166.2h1.6v1.6h-1.6zM299.2 189.1h1.6v1.6h-1.6zM321.8 186.1h1.6v1.6h-1.6zM299.3 180.9h1.6v1.6h-1.6zM318.3 189.9h1.6v1.6h-1.6zM295.0 177.7h1.6v1.6h-1.6zM296.3 173.3h1.6v1.6h-1.6zM306.0 179.7h1.6v1.6h-1.6zM318.7 191.0h1.6v1.6h-1.6zM330.1 182.0h1.6v1.6h-1.6zM312.7 191.5h1.6v1.6h-1.6zM308.6 174.4h1.6v1.6h-1.6zM322.0 173.2h1.6v1.6h-1.6zM307.5 178.0h1.6v1.6h-1.6zM311.8 176.0h1.6v1.6h-1.6zM310.0 178.7h1.6v1.6h-1.6zM295.6 180.8h1.6v1.6h-1.6zM314.6 177.2h1.6v1.6h-1.6zM301.9 168.7h1.6v1.6h-1.6zM307.7 174.8h1.6v1.6h-1.6zM312.1 172.4h1.6v1.6h-1.6zM322.4 179.7h1.6v1.6h-1.6zM293.5 177.4h1.6v1.6h-1.6zM316.3 193.1h1.6v1.6h-1.6zM307.5 182.8h1.6v1.6h-1.6zM307.6 174.4h1.6v1.6h-1.6zM317.0 182.6h1.6v1.6h-1.6zM305.5 180.0h1.6v1.6h-1.6zM313.3 187.2h1.6v1.6h-1.6zM303.0 173.5h1.6v1.6h-1.6zM324.2 177.9h1.6v1.6h-1.6zM326.7 177.3h1.6v1.6h-1.6zM304.3 185.1h1.6v1.6h-1.6zM325.6 175.2h1.6v1.6h-1.6zM305.6 189.1h1.6v1.6h-1.6zM323.9 184.1h1.6v1.6h-1.6zM295.1 183.6h1.6v1.6h-1.6zM314.7 192.1h1.6v1.6h-1.6zM329.6 187.2h1.6v1.6h-1.6zM321.9 177.7h1.6v1.6h-1.6zM319.7 193.7h1.6v1.6h-1.6zM323.7 178.4h1.6v1.6h-1.6zM322.5 176.6h1.6v1.6h-1.6zM310.7 178.3h1.6v1.6h-1.6zM297.8 175.0h1.6v1.6h-1.6zM321.9 167.9h1.6v1.6h-1.6zM297.7 189.5h1.6v1.6h-1.6zM319.2 181.4h1.6v1.6h-1.6zM297.6 169.3h1.6v1.6h-1.6zM315.0 192.0h1.6v1.6h-1.6zM301.4 177.6h1.6v1.6h-1.6zM314.1 189.7h1.6v1.6h-1.6zM311.6 166.8h1.6v1.6h-1.6zM310.0 176.6h1.6v1.6h-1.6zM319.5 192.2h1.6v1.6h-1.6zM312.5 185.4h1.6v1.6h-1.6zM308.3 187.9h1.6v1.6h-1.6zM297.3 186.9h1.6v1.6h-1.6zM299.7 182.5h1.6v1.6h-1.6zM301.1 175.7h1.6v1.6h-1.6zM299.6 175.8h1.6v1.6h-1.6zM316.3 180.6h1.6v1.6h-1.6zM308.4 182.2h1.6v1.6h-1.6zM326.0 176.0h1.6v1.6h-1.6zM316.0 179.5h1.6v1.6h-1.6zM320.4 172.5h1.6v1.6h-1.6zM303.4 186.6h1.6v1.6h-1.6zM315.6 173.2h1.6v1.6h-1.6zM307.9 186.2h1.6v1.6h-1.6zM310.1 183.4h1.6v1.6h-1.6zM315.0 193.5h1.6v1.6h-1.6zM328.7 178.8h1.6v1.6h-1.6zM312.2 172.4h1.6v1.6h-1.6zM322.6 168.8h1.6v1.6h-1.6zM305.2 189.9h1.6v1.6h-1.6zM315.4 181.5h1.6v1.6h-1.6zM306.2 170.2h1.6v1.6h-1.6zM330.3 187.5h1.6v1.6h-1.6zM324.6 168.7h1.6v1.6h-1.6zM323.8 172.1h1.6v1.6h-1.6zM301.0 181.0h1.6v1.6h-1.6zM317.0 169.3h1.6v1.6h-1.6zM323.0 182.4h1.6v1.6h-1.6zM328.3 192.0h1.6v1.6h-1.6zM320.1 176.2h1.6v1.6h-1.6zM330.3 186.2h1.6v1.6h-1.6zM304.5 190.2h1.6v1.6h-1.6zM321.5 173.4h1.6v1.6h-1.6zM314.2 173.1h1.6v1.6h-1.6zM304.6 173.1h1.6v1.6h-1.6zM298.3 179.6h1.6v1.6h-1.6zM303.8 174.0h1.6v1.6h-1.6zM304.0 180.3h1.6v1.6h-1.6zM327.3 170.4h1.6v1.6h-1.6zM326.7 190.1h1.6v1.6h-1.6zM317.0 181.3h1.6v1.6h-1.6zM321.8 181.0h1.6v1.6h-1.6zM318.9 191.9h1.6v1.6h-1.6zM323.4 173.3h1.6v1.6h-1.6zM307.3 188.2h1.6v1.6h-1.6zM302.3 178.7h1.6v1.6h-1.6zM307.6 186.5h1.6v1.6h-1.6zM330.0 180.2h1.6v1.6h-1.6zM315.3 175.8h1.6v1.6h-1.6zM318.8 167.9h1.6v1.6h-1.6zM315.3 169.3h1.6v1.6h-1.6zM319.2 167.8h1.6v1.6h-1.6zM294.4 182.1h1.6v1.6h-1.6zM326.6 188.1h1.6v1.6h-1.6zM313.5 168.1h1.6v1.6h-1.6zM313.8 171.1h1.6v1.6h-1.6zM313.7 175.9h1.6v1.6h-1.6zM312.7 171.5h1.6v1.6h-1.6zM320.7 177.7h1.6v1.6h-1.6zM312.1 168.1h1.6v1.6h-1.6zM312.2 181.7h1.6v1.6h-1.6zM298.5 174.4h1.6v1.6h-1.6zM306.3 185.8h1.6v1.6h-1.6zM330.2 192.1h1.6v1.6h-1.6zM326.7 192.4h1.6v1.6h-1.6zM294.0 179.8h1.6v1.6h-1.6zM316.2 185.3h1.6v1.6h-1.6zM317.1 183.3h1.6v1.6h-1.6zM313.5 193.1h1.6v1.6h-1.6zM325.6 185.4h1.6v1.6h-1.6zM313.5 182.3h1.6v1.6h-1.6zM322.7 188.8h1.6v1.6h-1.6zM325.7 177.4h1.6v1.6h-1.6zM306.3 175.7h1.6v1.6h-1.6zM303.4 182.5h1.6v1.6h-1.6zM313.7 175.4h1.6v1.6h-1.6zM319.5 178.8h1.6v1.6h-1.6zM302.3 190.9h1.6v1.6h-1.6zM300.1 170.1h1.6v1.6h-1.6zM303.1 179.5h1.6v1.6h-1.6zM323.8 175.3h1.6v1.6h-1.6zM302.5 184.4h1.6v1.6h-1.6zM303.3 180.7h1.6v1.6h-1.6zM303.1 190.7h1.6v1.6h-1.6zM300.4 172.5h1.6v1.6h-1.6zM305.0 175.2h1.6v1.6h-1.6zM321.5 185.0h1.6v1.6h-1.6zM324.0 181.2h1.6v1.6h-1.6zM296.3 187.5h1.6v1.6h-1.6zM302.7 172.1h1.6v1.6h-1.6zM307.7 176.0h1.6v1.6h-1.6zM308.3 169.7h1.6v1.6h-1.6zM324.0 188.0h1.6v1.6h-1.6zM306.4 188.3h1.6v1.6h-1.6zM308.0 174.0h1.6v1.6h-1.6zM316.3 186.9h1.6v1.6h-1.6zM311.8 189.1h1.6v1.6h-1.6zM293.7 180.0h1.6v1.6h-1.6zM308.0 167.7h1.6v1.6h-1.6zM301.2 190.8h1.6v1.6h-1.6zM330.7 192.3h1.6v1.6h-1.6zM306.5 192.2h1.6v1.6h-1.6zM298.7 186.1h1.6v1.6h-1.6zM298.5 185.1h1.6v1.6h-1.6zM327.6 186.5h1.6v1.6h-1.6zM330.2 178.7h1.6v1.6h-1.6zM307.7 169.3h1.6v1.6h-1.6zM296.0 171.1h1.6v1.6h-1.6zM306.8 167.3h1.6v1.6h-1.6zM305.2 171.1h1.6v1.6h-1.6zM298.0 180.8h1.6v1.6h-1.6zM314.3 182.0h1.6v1.6h-1.6zM322.9 180.8h1.6v1.6h-1.6zM301.9 168.1h1.6v1.6h-1.6zM305.3 187.4h1.6v1.6h-1.6zM329.2 180.2h1.6v1.6h-1.6zM299.5 175.3h1.6v1.6h-1.6zM315.4 174.2h1.6v1.6h-1.6zM311.1 183.0h1.6v1.6h-1.6zM326.2 179.1h1.6v1.6h-1.6zM322.9 177.2h1.6v1.6h-1.6zM299.9 186.7h1.6v1.6h-1.6zM301.8 188.5h1.6v1.6h-1.6zM312.7 184.4h1.6v1.6h-1.6zM311.3 171.1h1.6v1.6h-1.6zM293.8 174.5h1.6v1.6h-1.6zM294.8 173.3h1.6v1.6h-1.6zM317.3 176.4h1.6v1.6h-1.6zM311.6 183.6h1.6v1.6h-1.6zM305.6 176.0h1.6v1.6h-1.6zM327.7 182.3h1.6v1.6h-1.6zM309.5 181.2h1.6v1.6h-1.6zM311.2 175.3h1.6v1.6h-1.6zM328.8 172.5h1.6v1.6h-1.6zM329.7 190.0h1.6v1.6h-1.6zM327.6 170.5h1.6v1.6h-1.6zM304.5 170.7h1.6v1.6h-1.6zM321.4 172.6h1.6v1.6h-1.6zM316.0 170.4h1.6v1.6h-1.6zM297.0 185.4h1.6v1.6h-1.6zM306.7 181.7h1.6v1.6h-1.6zM312.6 192.0h1.6v1.6h-1.6zM313.3 176.6h1.6v1.6h-1.6zM303.7 182.2h1.6v1.6h-1.6zM317.8 179.0h1.6v1.6h-1.6zM296.7 180.0h1.6v1.6h-1.6zM312.0 184.0h1.6v1.6h-1.6zM310.5 168.3h1.6v1.6h-1.6zM324.4 172.5h1.6v1.6h-1.6zM325.5 188.5h1.6v1.6h-1.6zM312.9 178.0h1.6v1.6h-1.6zM314.9 192.7h1.6v1.6h-1.6zM312.3 179.5h1.6v1.6h-1.6zM304.5 189.7h1.6v1.6h-1.6zM312.8 175.6h1.6v1.6h-1.6zM300.9 172.0h1.6v1.6h-1.6zM325.7 188.6h1.6v1.6h-1.6zM331.4 191.9h1.6v1.6h-1.6zM319.9 188.5h1.6v1.6h-1.6zM321.0 188.8h1.6v1.6h-1.6zM324.4 170.9h1.6v1.6h-1.6zM325.0 174.5h1.6v1.6h-1.6zM294.1 180.4h1.6v1.6h-1.6zM306.6 188.3h1.6v1.6h-1.6zM317.0 191.7h1.6v1.6h-1.6zM329.6 184.1h1.6v1.6h-1.6zM295.7 184.8h1.6v1.6h-1.6zM327.2 174.7h1.6v1.6h-1.6zM300.5 185.5h1.6v1.6h-1.6zM317.5 169.4h1.6v1.6h-1.6zM321.5 167.6h1.6v1.6h-1.6zM327.0 187.7h1.6v1.6h-1.6zM323.8 190.6h1.6v1.6h-1.6zM315.4 192.6h1.6v1.6h-1.6zM318.1 179.8h1.6v1.6h-1.6zM308.2 175.9h1.6v1.6h-1.6zM324.2 172.4h1.6v1.6h-1.6zM318.7 187.8h1.6v1.6h-1.6zM320.3 180.5h1.6v1.6h-1.6zM305.5 173.6h1.6v1.6h-1.6zM300.5 184.2h1.6v1.6h-1.6zM320.0 192.6h1.6v1.6h-1.6zM306.1 192.1h1.6v1.6h-1.6zM328.7 174.1h1.6v1.6h-1.6zM330.3 183.4h1.6v1.6h-1.6zM330.7 187.8h1.6v1.6h-1.6zM306.2 173.8h1.6v1.6h-1.6zM313.6 179.7h1.6v1.6h-1.6zM314.1 179.3h1.6v1.6h-1.6zM322.2 173.0h1.6v1.6h-1.6zM301.0 182.3h1.6v1.6h-1.6zM302.6 175.2h1.6v1.6h-1.6zM307.1 180.8h1.6v1.6h-1.6zM330.2 184.0h1.6v1.6h-1.6zM309.4 177.4h1.6v1.6h-1.6zM302.4 179.3h1.6v1.6h-1.6zM310.1 185.3h1.6v1.6h-1.6zM322.9 181.6h1.6v1.6h-1.6zM318.2 192.5h1.6v1.6h-1.6zM328.4 173.0h1.6v1.6h-1.6zM313.8 171.3h1.6v1.6h-1.6zM299.1 181.5h1.6v1.6h-1.6zM303.8 186.3h1.6v1.6h-1.6zM321.5 174.9h1.6v1.6h-1.6zM323.1 184.2h1.6v1.6h-1.6zM320.7 178.8h1.6v1.6h-1.6zM310.1 168.9h1.6v1.6h-1.6zM311.7 192.9h1.6v1.6h-1.6zM296.0 173.5h1.6v1.6h-1.6zM320.3 178.3h1.6v1.6h-1.6zM298.2 177.9h1.6v1.6h-1.6zM315.6 187.0h1.6v1.6h-1.6zM308.9 184.3h1.6v1.6h-1.6zM319.8 183.3h1.6v1.6h-1.6zM311.7 166.4h1.6v1.6h-1.6zM296.0 177.0h1.6v1.6h-1.6zM311.5 168.9h1.6v1.6h-1.6zM330.4 190.0h1.6v1.6h-1.6zM312.2 182.5h1.6v1.6h-1.6zM297.9 174.5h1.6v1.6h-1.6zM301.8 190.4h1.6v1.6h-1.6zM313.0 177.5h1.6v1.6h-1.6zM308.8 191.0h1.6v1.6h-1.6zM303.2 188.3h1.6v1.6h-1.6zM320.8 178.6h1.6v1.6h-1.6zM307.5 178.3h1.6v1.6h-1.6zM310.9 174.8h1.6v1.6h-1.6zM317.5 177.5h1.6v1.6h-1.6zM305.0 187.8h1.6v1.6h-1.6zM310.9 179.3h1.6v1.6h-1.6zM327.5 178.8h1.6v1.6h-1.6zM307.9 191.3h1.6v1.6h-1.6zM331.3 188.1h1.6v1.6h-1.6zM308.9 184.9h1.6v1.6h-1.6zM322.1 174.3h1.6v1.6h-1.6zM321.4 192.8h1.6v1.6h-1.6zM318.8 184.8h1.6v1.6h-1.6zM310.2 184.4h1.6v1.6h-1.6zM302.0 187.7h1.6v1.6h-1.6zM314.2 193.6h1.6v1.6h-1.6zM306.5 186.0h1.6v1.6h-1.6zM293.9 177.7h1.6v1.6h-1.6zM323.1 173.2h1.6v1.6h-1.6zM317.1 172.2h1.6v1.6h-1.6zM295.5 182.4h1.6v1.6h-1.6zM325.2 189.6h1.6v1.6h-1.6zM308.5 182.6h1.6v1.6h-1.6zM321.0 187.5h1.6v1.6h-1.6zM322.3 182.3h1.6v1.6h-1.6zM303.0 185.9h1.6v1.6h-1.6zM315.1 181.3h1.6v1.6h-1.6zM323.6 175.1h1.6v1.6h-1.6zM321.5 192.8h1.6v1.6h-1.6zM303.9 182.0h1.6v1.6h-1.6zM313.8 179.9h1.6v1.6h-1.6zM299.7 183.6h1.6v1.6h-1.6zM328.0 184.7h1.6v1.6h-1.6zM304.5 188.7h1.6v1.6h-1.6zM309.6 170.0h1.6v1.6h-1.6zM316.8 178.9h1.6v1.6h-1.6zM315.4 192.9h1.6v1.6h-1.6zM307.0 187.4h1.6v1.6h-1.6zM296.1 174.4h1.6v1.6h-1.6zM320.2 185.4h1.6v1.6h-1.6zM325.5 176.7h1.6v1.6h-1.6zM303.9 176.0h1.6v1.6h-1.6zM314.2 166.6h1.6v1.6h-1.6zM307.8 184.5h1.6v1.6h-1.6zM299.0 174.7h1.6v1.6h-1.6zM327.2 192.3h1.6v1.6h-1.6zM302.9 170.9h1.6v1.6h-1.6zM324.2 186.8h1.6v1.6h-1.6zM303.5 179.7h1.6v1.6h-1.6zM325.1 190.2h1.6v1.6h-1.6zM301.4 185.8h1.6v1.6h-1.6zM320.5 175.4h1.6v1.6h-1.6zM327.5 172.1h1.6v1.6h-1.6zM311.7 174.8h1.6v1.6h-1.6zM310.4 188.9h1.6v1.6h-1.6zM315.4 183.1h1.6v1.6h-1.6zM301.9 183.4h1.6v1.6h-1.6zM306.5 178.4h1.6v1.6h-1.6zM310.0 189.3h1.6v1.6h-1.6zM328.9 185.1h1.6v1.6h-1.6zM299.9 176.0h1.6v1.6h-1.6zM320.7 172.0h1.6v1.6h-1.6zM327.6 190.6h1.6v1.6h-1.6zM302.0 176.2h1.6v1.6h-1.6zM302.1 186.2h1.6v1.6h-1.6zM314.4 182.4h1.6v1.6h-1.6zM316.6 190.3h1.6v1.6h-1.6zM300.1 173.6h1.6v1.6h-1.6zM319.2 185.6h1.6v1.6h-1.6zM305.8 179.1h1.6v1.6h-1.6zM304.5 181.8h1.6v1.6h-1.6zM307.1 176.1h1.6v1.6h-1.6zM302.9 174.2h1.6v1.6h-1.6zM305.3 182.7h1.6v1.6h-1.6zM303.7 169.1h1.6v1.6h-1.6zM326.2 179.2h1.6v1.6h-1.6zM313.2 174.7h1.6v1.6h-1.6zM327.8 187.2h1.6v1.6h-1.6zM317.5 184.6h1.6v1.6h-1.6zM320.2 180.1h1.6v1.6h-1.6zM309.3 176.9h1.6v1.6h-1.6zM312.9 179.2h1.6v1.6h-1.6zM313.8 181.0h1.6v1.6h-1.6zM324.0 191.2h1.6v1.6h-1.6zM304.9 166.8h1.6v1.6h-1.6zM324.3 183.5h1.6v1.6h-1.6zM304.3 171.3h1.6v1.6h-1.6zM327.1 189.6h1.6v1.6h-1.6zM319.9 185.5h1.6v1.6h-1.6zM322.2 178.8h1.6v1.6h-1.6zM308.7 181.5h1.6v1.6h-1.6zM329.0 189.5h1.6v1.6h-1.6zM296.1 172.9h1.6v1.6h-1.6zM313.3 174.7h1.6v1.6h-1.6zM326.8 180.5h1.6v1.6h-1.6zM299.0 176.9h1.6v1.6h-1.6zM318.1 169.0h1.6v1.6h-1.6zM315.1 192.5h1.6v1.6h-1.6zM310.2 187.5h1.6v1.6h-1.6zM316.3 182.4h1.6v1.6h-1.6zM300.0 179.0h1.6v1.6h-1.6zM328.3 185.0h1.6v1.6h-1.6zM301.7 178.5h1.6v1.6h-1.6zM314.4 175.4h1.6v1.6h-1.6zM315.7 183.8h1.6v1.6h-1.6zM318.8 172.0h1.6v1.6h-1.6zM296.0 187.5h1.6v1.6h-1.6zM315.0 168.8h1.6v1.6h-1.6zM318.0 173.3h1.6v1.6h-1.6zM325.0 186.4h1.6v1.6h-1.6zM298.7 171.6h1.6v1.6h-1.6zM311.7 193.0h1.6v1.6h-1.6zM305.7 173.2h1.6v1.6h-1.6zM325.5 171.1h1.6v1.6h-1.6zM318.0 183.3h1.6v1.6h-1.6zM315.2 176.7h1.6v1.6h-1.6zM325.3 173.0h1.6v1.6h-1.6zM321.1 171.1h1.6v1.6h-1.6zM312.5 193.3h1.6v1.6h-1.6zM302.6 173.8h1.6v1.6h-1.6zM329.0 185.0h1.6v1.6h-1.6z" fill="#6d7d8d"/>
<path d="M329.3 196.3h1.6v1.6h-1.6zM335.1 195.0h1.6v1.6h-1.6zM318.6 205.6h1.6v1.6h-1.6zM314.6 199.1h1.6v1.6h-1.6zM313.2 202.5h1.6v1.6h-1.6zM319.7 198.3h1.6v1.6h-1.6zM325.8 197.3h1.6v1.6h-1.6zM299.6 190.6h1.6v1.6h-1.6zM309.6 196.6h1.6v1.6h-1.6zM309.1 196.6h1.6v1.6h-1.6zM325.3 199.9h1.6v1.6h-1.6zM323.1 206.0h1.6v1.6h-1.6zM329.7 199.1h1.6v1.6h-1.6zM324.9 203.5h1.6v1.6h-1.6zM317.9 204.5h1.6v1.6h-1.6zM321.3 207.6h1.6v1.6h-1.6zM313.8 197.3h1.6v1.6h-1.6zM328.5 195.6h1.6v1.6h-1.6zM316.6 203.1h1.6v1.6h-1.6zM319.0 201.7h1.6v1.6h-1.6zM321.9 197.5h1.6v1.6h-1.6zM318.1 203.4h1.6v1.6h-1.6zM304.5 192.0h1.6v1.6h-1.6zM319.2 195.5h1.6v1.6h-1.6zM314.8 200.8h1.6v1.6h-1.6zM319.0 199.0h1.6v1.6h-1.6zM331.3 198.4h1.6v1.6h-1.6zM333.8 192.7h1.6v1.6h-1.6zM325.0 198.9h1.6v1.6h-1.6zM323.0 197.5h1.6v1.6h-1.6zM310.6 194.0h1.6v1.6h-1.6zM308.9 194.0h1.6v1.6h-1.6zM329.4 200.6h1.6v1.6h-1.6zM322.1 202.5h1.6v1.6h-1.6zM309.7 193.8h1.6v1.6h-1.6zM320.5 200.7h1.6v1.6h-1.6zM325.6 193.9h1.6v1.6h-1.6zM313.4 199.7h1.6v1.6h-1.6zM315.3 196.9h1.6v1.6h-1.6zM327.0 201.7h1.6v1.6h-1.6zM329.4 200.8h1.6v1.6h-1.6zM325.6 201.4h1.6v1.6h-1.6zM324.0 199.6h1.6v1.6h-1.6zM312.7 195.6h1.6v1.6h-1.6zM326.1 197.9h1.6v1.6h-1.6zM318.9 207.5h1.6v1.6h-1.6zM329.1 195.4h1.6v1.6h-1.6zM333.5 191.7h1.6v1.6h-1.6zM327.1 202.2h1.6v1.6h-1.6zM331.5 197.4h1.6v1.6h-1.6zM315.7 201.5h1.6v1.6h-1.6zM318.8 205.3h1.6v1.6h-1.6zM314.1 197.8h1.6v1.6h-1.6zM324.6 204.0h1.6v1.6h-1.6zM312.9 193.8h1.6v1.6h-1.6zM325.2 199.2h1.6v1.6h-1.6zM315.7 194.6h1.6v1.6h-1.6zM307.1 193.6h1.6v1.6h-1.6zM324.5 202.2h1.6v1.6h-1.6zM314.1 204.7h1.6v1.6h-1.6zM322.1 194.8h1.6v1.6h-1.6zM331.7 197.3h1.6v1.6h-1.6zM311.0 196.1h1.6v1.6h-1.6zM332.3 195.3h1.6v1.6h-1.6zM319.3 197.7h1.6v1.6h-1.6zM322.3 205.4h1.6v1.6h-1.6zM328.8 193.0h1.6v1.6h-1.6zM329.7 199.4h1.6v1.6h-1.6zM311.3 200.7h1.6v1.6h-1.6zM328.1 199.3h1.6v1.6h-1.6zM330.3 198.1h1.6v1.6h-1.6zM325.2 202.4h1.6v1.6h-1.6zM300.0 190.5h1.6v1.6h-1.6zM306.1 192.2h1.6v1.6h-1.6zM306.9 194.7h1.6v1.6h-1.6zM315.7 206.1h1.6v1.6h-1.6zM324.1 196.4h1.6v1.6h-1.6zM322.6 202.1h1.6v1.6h-1.6zM312.1 201.0h1.6v1.6h-1.6zM327.5 201.8h1.6v1.6h-1.6zM322.4 201.0h1.6v1.6h-1.6zM314.1 205.5h1.6v1.6h-1.6zM311.7 203.5h1.6v1.6h-1.6zM304.8 192.7h1.6v1.6h-1.6zM299.4 190.6h1.6v1.6h-1.6zM328.2 198.0h1.6v1.6h-1.6zM311.7 202.5h1.6v1.6h-1.6zM333.6 191.6h1.6v1.6h-1.6zM303.7 192.6h1.6v1.6h-1.6zM332.2 198.3h1.6v1.6h-1.6zM305.2 192.2h1.6v1.6h-1.6zM322.2 204.6h1.6v1.6h-1.6zM319.0 206.5h1.6v1.6h-1.6zM320.7 203.4h1.6v1.6h-1.6zM311.8 202.6h1.6v1.6h-1.6zM313.1 195.8h1.6v1.6h-1.6zM318.3 208.2h1.6v1.6h-1.6zM324.6 197.1h1.6v1.6h-1.6zM315.3 209.2h1.6v1.6h-1.6zM312.1 203.6h1.6v1.6h-1.6zM316.6 203.5h1.6v1.6h-1.6zM327.3 200.8h1.6v1.6h-1.6zM311.9 195.6h1.6v1.6h-1.6zM333.9 198.1h1.6v1.6h-1.6zM314.4 202.5h1.6v1.6h-1.6zM334.7 194.0h1.6v1.6h-1.6zM332.2 195.1h1.6v1.6h-1.6zM314.8 195.7h1.6v1.6h-1.6zM318.3 198.5h1.6v1.6h-1.6zM323.3 202.3h1.6v1.6h-1.6zM311.7 201.3h1.6v1.6h-1.6zM321.4 205.9h1.6v1.6h-1.6zM309.9 199.4h1.6v1.6h-1.6zM315.0 200.6h1.6v1.6h-1.6zM328.6 199.4h1.6v1.6h-1.6zM323.0 204.3h1.6v1.6h-1.6zM320.3 198.7h1.6v1.6h-1.6zM326.1 201.0h1.6v1.6h-1.6zM333.4 195.1h1.6v1.6h-1.6zM314.4 201.4h1.6v1.6h-1.6zM305.6 194.8h1.6v1.6h-1.6zM318.3 196.8h1.6v1.6h-1.6zM318.9 207.4h1.6v1.6h-1.6zM320.1 203.0h1.6v1.6h-1.6zM315.7 197.9h1.6v1.6h-1.6z" fill="#6d7d8d"/>
<path d="M330.2 182.0h1.5v1.5h-1.5zM326.0 203.1h1.5v1.5h-1.5zM324.7 169.3h1.5v1.5h-1.5zM329.8 175.0h1.5v1.5h-1.5zM319.4 167.9h1.5v1.5h-1.5zM318.2 209.4h1.5v1.5h-1.5zM312.4 206.8h1.5v1.5h-1.5zM331.3 179.8h1.5v1.5h-1.5zM329.8 173.1h1.5v1.5h-1.5zM308.2 166.0h1.5v1.5h-1.5zM299.4 168.5h1.5v1.5h-1.5zM330.3 175.7h1.5v1.5h-1.5zM330.2 185.7h1.5v1.5h-1.5zM300.7 191.0h1.5v1.5h-1.5zM305.2 194.0h1.5v1.5h-1.5zM295.6 187.1h1.5v1.5h-1.5zM328.3 202.7h1.5v1.5h-1.5zM331.3 176.9h1.5v1.5h-1.5zM325.5 205.2h1.5v1.5h-1.5zM310.5 204.1h1.5v1.5h-1.5zM330.9 184.8h1.5v1.5h-1.5zM304.8 194.2h1.5v1.5h-1.5zM306.6 166.7h1.5v1.5h-1.5zM318.3 167.1h1.5v1.5h-1.5zM330.0 183.7h1.5v1.5h-1.5zM331.9 188.1h1.5v1.5h-1.5zM327.1 170.9h1.5v1.5h-1.5zM330.8 174.8h1.5v1.5h-1.5zM334.4 198.3h1.5v1.5h-1.5zM294.5 186.0h1.5v1.5h-1.5zM328.9 172.9h1.5v1.5h-1.5zM334.6 193.8h1.5v1.5h-1.5zM319.3 209.4h1.5v1.5h-1.5zM294.5 171.2h1.5v1.5h-1.5zM327.4 169.4h1.5v1.5h-1.5zM325.4 168.3h1.5v1.5h-1.5zM293.8 174.4h1.5v1.5h-1.5zM310.5 203.6h1.5v1.5h-1.5zM299.5 168.3h1.5v1.5h-1.5zM297.3 167.9h1.5v1.5h-1.5zM334.9 193.0h1.5v1.5h-1.5zM310.1 199.9h1.5v1.5h-1.5zM335.6 197.2h1.5v1.5h-1.5zM294.3 174.3h1.5v1.5h-1.5zM330.5 180.3h1.5v1.5h-1.5zM300.9 167.5h1.5v1.5h-1.5zM334.8 199.2h1.5v1.5h-1.5zM297.5 169.4h1.5v1.5h-1.5zM296.0 185.6h1.5v1.5h-1.5zM333.8 199.1h1.5v1.5h-1.5zM327.0 202.8h1.5v1.5h-1.5zM309.8 166.2h1.5v1.5h-1.5zM331.0 187.6h1.5v1.5h-1.5zM293.9 172.1h1.5v1.5h-1.5zM302.0 167.7h1.5v1.5h-1.5zM334.2 191.5h1.5v1.5h-1.5zM310.2 200.3h1.5v1.5h-1.5zM325.6 168.9h1.5v1.5h-1.5zM292.6 177.6h1.5v1.5h-1.5zM294.6 173.1h1.5v1.5h-1.5z" fill="#6d7d8d"/>
<path d="M322.5 169.2h1.7v1.7h-1.7zM323.2 170.6h1.7v1.7h-1.7zM327.2 171.2h1.7v1.7h-1.7zM329.2 175.2h1.7v1.7h-1.7zM331.2 175.8h1.7v1.7h-1.7zM301.1 178.6h1.7v1.7h-1.7zM303.8 179.8h1.7v1.7h-1.7zM302.5 183.2h1.7v1.7h-1.7zM315.8 187.8h1.7v1.7h-1.7zM319.2 187.8h1.7v1.7h-1.7zM326.5 183.2h1.7v1.7h-1.7zM327.2 185.2h1.7v1.7h-1.7zM326.5 190.6h1.7v1.7h-1.7zM331.2 189.2h1.7v1.7h-1.7zM333.9 193.8h1.7v1.7h-1.7zM322.5 202.0h1.7v1.7h-1.7zM325.9 207.2h1.7v1.7h-1.7zM309.1 174.2h1.7v1.7h-1.7zM317.1 179.2h1.7v1.7h-1.7z" fill="#d96c2b"/>
<path d="M340.9 178.6h1.6v1.6h-1.6zM341.3 178.6h1.6v1.6h-1.6zM339.7 176.3h1.6v1.6h-1.6zM338.2 178.9h1.6v1.6h-1.6zM338.0 179.2h1.6v1.6h-1.6zM337.6 179.2h1.6v1.6h-1.6zM336.8 178.3h1.6v1.6h-1.6zM338.2 178.5h1.6v1.6h-1.6zM339.9 176.6h1.6v1.6h-1.6zM339.3 179.6h1.6v1.6h-1.6zM337.9 177.8h1.6v1.6h-1.6zM340.2 175.8h1.6v1.6h-1.6zM338.4 177.1h1.6v1.6h-1.6zM339.0 179.6h1.6v1.6h-1.6zM340.8 178.4h1.6v1.6h-1.6z" fill="#d96c2b"/>
<path d="M346.1 177.5h1.7v1.7h-1.7zM347.3 176.3h1.7v1.7h-1.7zM348.6 175.5h1.7v1.7h-1.7zM349.9 174.6h1.7v1.7h-1.7zM351.1 173.7h1.7v1.7h-1.7zM352.1 172.5h1.7v1.7h-1.7zM352.8 171.2h1.7v1.7h-1.7zM353.1 169.8h1.7v1.7h-1.7zM352.9 168.8h1.7v1.7h-1.7zM344.1 174.2h1.7v1.7h-1.7zM343.1 176.7h1.7v1.7h-1.7zM349.1 175.0h1.7v1.7h-1.7z" fill="#d96c2b"/>
<path d="M337.1 194.2h1.5v1.5h-1.5zM337.9 195.6h1.5v1.5h-1.5zM338.9 196.8h1.5v1.5h-1.5zM339.8 197.8h1.5v1.5h-1.5zM340.6 198.7h1.5v1.5h-1.5zM340.1 194.8h1.5v1.5h-1.5zM305.9 188.7h1.5v1.5h-1.5z" fill="#a3bad7"/>
<path d="M384.6 208.4h1.6v1.6h-1.6zM384.1 204.8h1.6v1.6h-1.6zM382.9 204.2h1.6v1.6h-1.6zM378.9 202.4h1.6v1.6h-1.6zM386.3 205.0h1.6v1.6h-1.6zM386.7 206.1h1.6v1.6h-1.6zM382.3 202.2h1.6v1.6h-1.6zM380.0 202.3h1.6v1.6h-1.6zM384.5 206.3h1.6v1.6h-1.6zM381.8 204.5h1.6v1.6h-1.6zM382.3 206.9h1.6v1.6h-1.6zM385.6 203.3h1.6v1.6h-1.6zM385.7 205.7h1.6v1.6h-1.6zM384.2 206.0h1.6v1.6h-1.6zM386.9 206.0h1.6v1.6h-1.6zM379.5 201.5h1.6v1.6h-1.6zM385.1 202.5h1.6v1.6h-1.6zM378.9 203.4h1.6v1.6h-1.6zM385.9 203.0h1.6v1.6h-1.6zM383.5 201.5h1.6v1.6h-1.6zM385.6 206.1h1.6v1.6h-1.6zM382.3 204.5h1.6v1.6h-1.6zM384.4 207.3h1.6v1.6h-1.6zM383.8 208.5h1.6v1.6h-1.6zM387.3 203.6h1.6v1.6h-1.6zM384.2 208.7h1.6v1.6h-1.6zM383.4 206.7h1.6v1.6h-1.6zM384.7 204.4h1.6v1.6h-1.6zM379.4 203.1h1.6v1.6h-1.6zM381.1 206.8h1.6v1.6h-1.6zM383.4 203.4h1.6v1.6h-1.6zM380.1 204.6h1.6v1.6h-1.6zM382.2 201.2h1.6v1.6h-1.6zM384.0 205.2h1.6v1.6h-1.6z" fill="#a3bad7"/>
<path d="M379.0 201.3h1.4v1.4h-1.4zM387.0 206.6h1.4v1.4h-1.4zM383.6 201.1h1.4v1.4h-1.4zM388.0 205.9h1.4v1.4h-1.4zM385.5 207.7h1.4v1.4h-1.4zM385.0 202.1h1.4v1.4h-1.4zM384.5 201.9h1.4v1.4h-1.4zM382.9 201.5h1.4v1.4h-1.4zM382.2 207.8h1.4v1.4h-1.4zM386.5 206.2h1.4v1.4h-1.4zM377.4 202.0h1.4v1.4h-1.4zM387.4 202.9h1.4v1.4h-1.4z" fill="#a3bad7"/>
<path d="M392.7 201.5h1.6v1.6h-1.6zM393.7 202.4h1.6v1.6h-1.6zM394.5 203.5h1.6v1.6h-1.6zM395.4 204.7h1.6v1.6h-1.6zM396.2 205.9h1.6v1.6h-1.6zM396.8 207.0h1.6v1.6h-1.6z" fill="#a3bad7"/>
<path d="M383.1 208.0C383.4 207.6 384.9 208.8 385.8 208.5C386.7 208.2 387.4 206.7 388.5 206.2C389.6 205.7 391.3 205.4 392.2 205.3C393.1 205.2 393.2 205.8 394.0 205.7C394.8 205.6 396.0 204.4 396.7 204.8C397.4 205.2 397.5 207.2 398.1 208.0C398.7 208.8 399.6 209.2 400.4 209.8C401.2 210.4 402.3 210.9 403.1 211.6C403.9 212.3 404.6 213.1 405.4 213.9C406.1 214.7 406.9 215.4 407.6 216.2C408.4 217.0 409.4 217.8 409.9 218.5C410.4 219.2 410.7 219.9 410.8 220.7C410.9 221.5 410.5 222.6 410.4 223.5C410.2 224.4 410.0 225.2 409.9 226.2C409.8 227.2 409.8 229.6 409.5 229.4C409.2 229.2 408.7 226.3 408.1 225.3C407.5 224.3 406.6 223.9 405.8 223.5C405.0 223.1 404.0 223.4 403.1 223.0C402.2 222.6 401.5 221.6 400.4 221.2C399.3 220.8 398.1 220.4 396.7 220.3C395.3 220.2 393.7 220.5 392.2 220.7C390.7 220.8 389.0 221.0 387.6 221.2C386.2 221.3 385.1 221.8 384.0 221.6C382.9 221.4 381.9 220.8 381.3 220.3C380.7 219.9 380.2 219.6 380.4 218.9C380.5 218.2 381.8 217.1 382.2 216.2C382.6 215.3 382.8 214.4 383.1 213.5C383.4 212.6 384.0 211.6 384.0 210.7C384.0 209.8 382.8 208.4 383.1 208.0Z" fill="#e3242f"/>
<path d="M400.4 221.6h1.4v1.4h-1.4zM397.1 205.2h1.4v1.4h-1.4zM398.6 220.4h1.4v1.4h-1.4zM382.4 214.3h1.4v1.4h-1.4zM407.5 225.5h1.4v1.4h-1.4zM406.3 214.0h1.4v1.4h-1.4zM391.4 205.1h1.4v1.4h-1.4zM404.9 212.4h1.4v1.4h-1.4zM382.8 209.1h1.4v1.4h-1.4zM387.4 220.5h1.4v1.4h-1.4zM382.7 209.9h1.4v1.4h-1.4zM408.8 226.8h1.4v1.4h-1.4zM384.5 208.3h1.4v1.4h-1.4zM406.8 215.8h1.4v1.4h-1.4zM388.6 204.7h1.4v1.4h-1.4zM389.5 205.5h1.4v1.4h-1.4zM383.1 212.5h1.4v1.4h-1.4zM407.2 225.7h1.4v1.4h-1.4zM387.2 220.5h1.4v1.4h-1.4zM386.7 220.3h1.4v1.4h-1.4zM405.3 223.6h1.4v1.4h-1.4zM394.2 204.1h1.4v1.4h-1.4zM409.9 223.1h1.4v1.4h-1.4zM382.3 211.1h1.4v1.4h-1.4zM388.9 220.8h1.4v1.4h-1.4zM391.0 205.3h1.4v1.4h-1.4zM398.8 208.5h1.4v1.4h-1.4zM404.0 222.7h1.4v1.4h-1.4zM408.1 216.0h1.4v1.4h-1.4zM394.6 219.9h1.4v1.4h-1.4zM402.7 221.9h1.4v1.4h-1.4zM388.4 205.2h1.4v1.4h-1.4zM407.5 217.0h1.4v1.4h-1.4zM400.8 221.8h1.4v1.4h-1.4zM409.9 225.6h1.4v1.4h-1.4zM407.6 227.2h1.4v1.4h-1.4zM394.0 204.8h1.4v1.4h-1.4zM407.1 225.0h1.4v1.4h-1.4zM404.2 222.9h1.4v1.4h-1.4zM394.0 220.4h1.4v1.4h-1.4zM381.5 220.1h1.4v1.4h-1.4zM396.7 205.0h1.4v1.4h-1.4zM400.2 221.5h1.4v1.4h-1.4zM381.3 214.8h1.4v1.4h-1.4zM410.5 221.2h1.4v1.4h-1.4z" fill="#e3242f"/>
<path d="M408.5 226.7h1.6v1.6h-1.6zM408.9 228.0h1.6v1.6h-1.6zM408.4 225.7h1.6v1.6h-1.6z" fill="#74c5d3"/>
<path d="M380.1 205.9h1.4v1.4h-1.4z" fill="#d96c2b"/>
<path d="M375.7 230.9h1.2v1.2h-1.2z" fill="#e3242f"/>
<path d="M366.3 244.2L368.5 241.2L371.0 238.0L373.5 235.0L376.3 232.2" stroke="#74c5d3" stroke-width="2.2" fill="none" stroke-linecap="round"/>
<path d="M374.7 231.7h1.6v1.6h-1.6zM375.6 231.1h1.6v1.6h-1.6zM371.8 233.8h1.6v1.6h-1.6zM376.0 230.7h1.6v1.6h-1.6z" fill="#e3242f"/>
<path d="M360.3 243.6C360.7 243.3 361.7 242.9 362.4 242.7C363.1 242.5 364.0 242.3 364.6 242.3C365.2 242.3 365.9 242.3 366.3 242.7C366.7 243.0 367.0 243.8 367.1 244.4C367.2 245.0 367.0 245.5 366.7 246.1C366.4 246.7 365.9 247.2 365.4 247.8C364.9 248.4 364.3 249.1 363.7 249.6C363.1 250.1 362.6 250.6 362.0 250.8C361.4 251.0 360.4 251.1 359.9 251.0C359.4 250.9 359.1 250.4 359.2 250.0C359.3 249.6 360.1 249.0 360.3 248.3C360.6 247.7 360.8 246.8 360.7 246.1C360.6 245.4 360.0 244.8 359.9 244.4C359.8 244.0 359.9 243.9 360.3 243.6Z" fill="#a41f2c"/>
<path d="M364.3 247.1h1.2v1.2h-1.2zM364.6 241.5h1.2v1.2h-1.2zM362.8 249.0h1.2v1.2h-1.2zM363.3 241.5h1.2v1.2h-1.2zM361.8 250.2h1.2v1.2h-1.2zM360.5 242.9h1.2v1.2h-1.2zM360.3 246.3h1.2v1.2h-1.2zM359.6 246.6h1.2v1.2h-1.2zM366.4 244.0h1.2v1.2h-1.2zM361.4 250.1h1.2v1.2h-1.2zM362.9 249.4h1.2v1.2h-1.2zM366.1 242.1h1.2v1.2h-1.2zM361.2 242.5h1.2v1.2h-1.2zM361.9 242.5h1.2v1.2h-1.2z" fill="#a41f2c"/>
<path d="M359.6 241.2h1.5v1.5h-1.5zM360.1 241.6h1.5v1.5h-1.5z" fill="#ec6fa6"/>
<path d="M359.0 249.8h1.3v1.3h-1.3z" fill="#3b79b2"/>
<path d="M316.5 259.5h1.6v1.6h-1.6zM308.9 258.0h1.6v1.6h-1.6zM319.6 257.7h1.6v1.6h-1.6zM316.3 270.0h1.6v1.6h-1.6zM311.7 262.1h1.6v1.6h-1.6zM310.1 269.2h1.6v1.6h-1.6zM313.7 264.0h1.6v1.6h-1.6zM321.3 264.9h1.6v1.6h-1.6zM312.1 264.1h1.6v1.6h-1.6zM315.2 269.1h1.6v1.6h-1.6zM312.6 266.9h1.6v1.6h-1.6zM317.4 268.3h1.6v1.6h-1.6zM319.3 254.8h1.6v1.6h-1.6zM309.6 266.8h1.6v1.6h-1.6zM320.2 264.2h1.6v1.6h-1.6zM312.7 257.7h1.6v1.6h-1.6zM313.0 263.7h1.6v1.6h-1.6zM314.8 259.5h1.6v1.6h-1.6zM314.4 254.6h1.6v1.6h-1.6zM311.6 258.3h1.6v1.6h-1.6zM321.9 259.8h1.6v1.6h-1.6zM311.0 254.3h1.6v1.6h-1.6zM310.4 264.4h1.6v1.6h-1.6zM316.0 263.9h1.6v1.6h-1.6zM309.3 267.4h1.6v1.6h-1.6zM312.0 263.1h1.6v1.6h-1.6zM312.3 266.1h1.6v1.6h-1.6zM309.5 259.7h1.6v1.6h-1.6zM317.9 260.1h1.6v1.6h-1.6zM311.6 254.0h1.6v1.6h-1.6zM310.5 266.8h1.6v1.6h-1.6zM322.6 266.7h1.6v1.6h-1.6zM310.7 262.6h1.6v1.6h-1.6zM309.4 265.5h1.6v1.6h-1.6zM313.0 268.8h1.6v1.6h-1.6zM316.3 252.4h1.6v1.6h-1.6zM314.1 264.5h1.6v1.6h-1.6zM308.7 270.5h1.6v1.6h-1.6zM314.4 262.9h1.6v1.6h-1.6zM321.2 267.7h1.6v1.6h-1.6zM316.2 257.2h1.6v1.6h-1.6zM312.6 256.8h1.6v1.6h-1.6zM319.3 266.0h1.6v1.6h-1.6zM313.8 261.9h1.6v1.6h-1.6zM318.9 258.2h1.6v1.6h-1.6zM314.7 260.2h1.6v1.6h-1.6zM312.3 265.9h1.6v1.6h-1.6zM308.2 257.8h1.6v1.6h-1.6zM314.0 256.5h1.6v1.6h-1.6zM312.0 259.6h1.6v1.6h-1.6zM315.9 262.4h1.6v1.6h-1.6zM310.5 272.9h1.6v1.6h-1.6zM312.6 259.8h1.6v1.6h-1.6zM311.7 272.3h1.6v1.6h-1.6zM310.1 262.6h1.6v1.6h-1.6zM312.9 258.0h1.6v1.6h-1.6zM308.5 265.1h1.6v1.6h-1.6zM319.7 264.7h1.6v1.6h-1.6zM311.7 260.5h1.6v1.6h-1.6zM315.4 253.3h1.6v1.6h-1.6zM319.5 253.7h1.6v1.6h-1.6zM314.0 270.5h1.6v1.6h-1.6zM314.7 254.4h1.6v1.6h-1.6zM318.2 265.9h1.6v1.6h-1.6zM310.4 261.1h1.6v1.6h-1.6zM313.8 270.0h1.6v1.6h-1.6zM321.2 256.3h1.6v1.6h-1.6zM310.5 273.1h1.6v1.6h-1.6zM321.8 261.4h1.6v1.6h-1.6zM315.2 271.5h1.6v1.6h-1.6zM309.0 265.7h1.6v1.6h-1.6zM315.7 262.6h1.6v1.6h-1.6zM312.2 261.9h1.6v1.6h-1.6zM314.7 264.0h1.6v1.6h-1.6zM317.7 263.8h1.6v1.6h-1.6zM316.8 258.0h1.6v1.6h-1.6zM309.3 264.9h1.6v1.6h-1.6zM323.5 262.4h1.6v1.6h-1.6zM311.2 253.4h1.6v1.6h-1.6zM319.9 264.2h1.6v1.6h-1.6zM308.6 257.7h1.6v1.6h-1.6zM315.7 262.4h1.6v1.6h-1.6zM314.8 270.2h1.6v1.6h-1.6zM309.7 265.4h1.6v1.6h-1.6zM315.4 265.5h1.6v1.6h-1.6zM322.9 263.2h1.6v1.6h-1.6zM308.2 265.0h1.6v1.6h-1.6zM312.6 266.9h1.6v1.6h-1.6zM313.2 254.6h1.6v1.6h-1.6zM309.1 267.0h1.6v1.6h-1.6zM323.4 260.3h1.6v1.6h-1.6zM309.5 260.0h1.6v1.6h-1.6zM313.1 267.2h1.6v1.6h-1.6zM312.5 254.6h1.6v1.6h-1.6zM311.9 260.6h1.6v1.6h-1.6zM316.8 258.8h1.6v1.6h-1.6zM325.1 263.7h1.6v1.6h-1.6zM323.2 261.4h1.6v1.6h-1.6zM314.3 259.1h1.6v1.6h-1.6zM313.0 268.7h1.6v1.6h-1.6zM309.5 255.0h1.6v1.6h-1.6zM310.2 255.1h1.6v1.6h-1.6zM316.1 263.5h1.6v1.6h-1.6zM312.8 254.0h1.6v1.6h-1.6zM310.7 257.0h1.6v1.6h-1.6zM311.0 267.6h1.6v1.6h-1.6zM325.2 262.2h1.6v1.6h-1.6zM325.4 263.6h1.6v1.6h-1.6zM313.0 268.8h1.6v1.6h-1.6zM315.4 259.4h1.6v1.6h-1.6zM312.8 267.8h1.6v1.6h-1.6zM314.6 261.7h1.6v1.6h-1.6zM328.2 264.5h1.6v1.6h-1.6zM308.0 269.0h1.6v1.6h-1.6zM311.4 255.9h1.6v1.6h-1.6zM311.3 273.7h1.6v1.6h-1.6zM312.7 272.0h1.6v1.6h-1.6zM325.2 265.2h1.6v1.6h-1.6zM317.8 257.7h1.6v1.6h-1.6zM315.5 266.2h1.6v1.6h-1.6zM317.8 253.7h1.6v1.6h-1.6zM311.4 257.7h1.6v1.6h-1.6zM309.0 263.3h1.6v1.6h-1.6zM318.1 263.1h1.6v1.6h-1.6zM317.5 264.5h1.6v1.6h-1.6zM312.2 255.5h1.6v1.6h-1.6zM314.2 274.7h1.6v1.6h-1.6zM316.7 269.9h1.6v1.6h-1.6zM320.1 267.3h1.6v1.6h-1.6zM311.8 265.7h1.6v1.6h-1.6zM318.2 268.3h1.6v1.6h-1.6zM316.7 258.3h1.6v1.6h-1.6zM320.1 255.2h1.6v1.6h-1.6zM316.8 254.2h1.6v1.6h-1.6zM317.5 262.9h1.6v1.6h-1.6zM320.9 256.1h1.6v1.6h-1.6zM311.8 268.3h1.6v1.6h-1.6zM320.5 261.9h1.6v1.6h-1.6zM319.9 261.9h1.6v1.6h-1.6zM308.4 263.9h1.6v1.6h-1.6zM313.6 266.0h1.6v1.6h-1.6zM323.1 264.2h1.6v1.6h-1.6zM310.1 269.5h1.6v1.6h-1.6zM312.3 261.2h1.6v1.6h-1.6zM322.2 258.5h1.6v1.6h-1.6zM319.1 259.8h1.6v1.6h-1.6zM318.5 261.0h1.6v1.6h-1.6zM314.1 274.0h1.6v1.6h-1.6zM313.0 254.0h1.6v1.6h-1.6zM322.9 264.3h1.6v1.6h-1.6zM314.7 256.1h1.6v1.6h-1.6zM322.4 262.1h1.6v1.6h-1.6zM311.8 273.6h1.6v1.6h-1.6zM324.6 260.7h1.6v1.6h-1.6zM325.0 264.2h1.6v1.6h-1.6zM317.2 269.1h1.6v1.6h-1.6zM320.3 258.8h1.6v1.6h-1.6zM314.9 258.2h1.6v1.6h-1.6zM314.4 265.6h1.6v1.6h-1.6zM317.2 262.3h1.6v1.6h-1.6zM310.5 266.8h1.6v1.6h-1.6zM316.1 256.5h1.6v1.6h-1.6zM322.8 264.9h1.6v1.6h-1.6zM321.0 264.3h1.6v1.6h-1.6zM309.3 262.9h1.6v1.6h-1.6zM319.8 263.3h1.6v1.6h-1.6zM313.7 267.2h1.6v1.6h-1.6zM316.5 260.3h1.6v1.6h-1.6zM318.6 265.9h1.6v1.6h-1.6zM313.5 274.4h1.6v1.6h-1.6zM309.9 268.7h1.6v1.6h-1.6zM308.9 264.8h1.6v1.6h-1.6zM308.2 258.4h1.6v1.6h-1.6zM316.5 264.7h1.6v1.6h-1.6zM317.0 259.4h1.6v1.6h-1.6zM319.4 263.3h1.6v1.6h-1.6zM311.9 264.5h1.6v1.6h-1.6zM322.0 265.8h1.6v1.6h-1.6zM326.2 262.9h1.6v1.6h-1.6zM312.7 274.5h1.6v1.6h-1.6zM310.2 259.4h1.6v1.6h-1.6zM317.9 262.0h1.6v1.6h-1.6zM312.6 272.6h1.6v1.6h-1.6zM315.0 265.2h1.6v1.6h-1.6zM318.3 255.3h1.6v1.6h-1.6zM310.1 263.1h1.6v1.6h-1.6zM324.3 261.1h1.6v1.6h-1.6zM317.2 268.7h1.6v1.6h-1.6zM317.8 269.0h1.6v1.6h-1.6zM320.5 254.9h1.6v1.6h-1.6zM320.0 259.4h1.6v1.6h-1.6zM320.2 261.3h1.6v1.6h-1.6zM321.3 262.5h1.6v1.6h-1.6zM314.3 256.9h1.6v1.6h-1.6zM313.3 259.9h1.6v1.6h-1.6zM318.1 264.1h1.6v1.6h-1.6zM313.9 259.2h1.6v1.6h-1.6zM322.5 266.1h1.6v1.6h-1.6zM315.2 252.6h1.6v1.6h-1.6z" fill="#3b79b2"/>
<path d="M316.5 251.9h1.5v1.5h-1.5zM308.6 270.9h1.5v1.5h-1.5zM326.9 264.5h1.5v1.5h-1.5zM320.1 253.4h1.5v1.5h-1.5zM317.1 274.8h1.5v1.5h-1.5zM307.0 267.6h1.5v1.5h-1.5zM308.1 260.1h1.5v1.5h-1.5zM310.3 273.3h1.5v1.5h-1.5zM322.2 256.1h1.5v1.5h-1.5zM307.6 257.3h1.5v1.5h-1.5zM326.7 262.7h1.5v1.5h-1.5zM323.7 258.7h1.5v1.5h-1.5zM312.5 275.4h1.5v1.5h-1.5zM309.8 272.4h1.5v1.5h-1.5zM313.7 251.6h1.5v1.5h-1.5zM315.8 275.3h1.5v1.5h-1.5zM318.1 273.8h1.5v1.5h-1.5zM324.8 266.7h1.5v1.5h-1.5zM308.1 259.4h1.5v1.5h-1.5zM308.1 270.5h1.5v1.5h-1.5zM308.2 261.4h1.5v1.5h-1.5zM320.3 271.9h1.5v1.5h-1.5zM324.8 261.5h1.5v1.5h-1.5zM313.0 275.7h1.5v1.5h-1.5zM319.6 272.4h1.5v1.5h-1.5zM315.7 276.2h1.5v1.5h-1.5zM307.9 259.9h1.5v1.5h-1.5zM307.2 265.0h1.5v1.5h-1.5zM307.9 261.1h1.5v1.5h-1.5zM318.5 273.6h1.5v1.5h-1.5zM308.3 257.4h1.5v1.5h-1.5zM319.0 273.1h1.5v1.5h-1.5zM322.7 269.5h1.5v1.5h-1.5zM323.3 268.9h1.5v1.5h-1.5zM314.5 252.1h1.5v1.5h-1.5z" fill="#3b79b2"/>
<path d="M316.2 274.8h1.6v1.6h-1.6zM324.6 267.9h1.6v1.6h-1.6zM327.8 268.0h1.6v1.6h-1.6zM331.4 265.1h1.6v1.6h-1.6zM315.4 274.6h1.6v1.6h-1.6zM327.1 267.6h1.6v1.6h-1.6zM326.3 268.7h1.6v1.6h-1.6zM323.8 267.7h1.6v1.6h-1.6zM324.4 271.9h1.6v1.6h-1.6zM330.1 267.5h1.6v1.6h-1.6zM324.9 271.0h1.6v1.6h-1.6zM322.0 269.2h1.6v1.6h-1.6zM324.2 273.4h1.6v1.6h-1.6zM325.6 270.5h1.6v1.6h-1.6zM326.6 267.6h1.6v1.6h-1.6zM328.4 265.8h1.6v1.6h-1.6zM320.3 275.0h1.6v1.6h-1.6zM316.4 274.5h1.6v1.6h-1.6zM329.1 266.3h1.6v1.6h-1.6zM318.3 272.9h1.6v1.6h-1.6zM326.5 264.9h1.6v1.6h-1.6zM324.2 266.7h1.6v1.6h-1.6zM314.6 274.8h1.6v1.6h-1.6zM319.3 272.0h1.6v1.6h-1.6zM328.5 270.9h1.6v1.6h-1.6zM327.9 266.0h1.6v1.6h-1.6zM321.4 275.1h1.6v1.6h-1.6zM326.4 268.5h1.6v1.6h-1.6zM329.0 268.7h1.6v1.6h-1.6zM317.7 270.8h1.6v1.6h-1.6zM325.7 265.3h1.6v1.6h-1.6zM327.1 266.1h1.6v1.6h-1.6zM326.7 269.9h1.6v1.6h-1.6zM323.2 267.1h1.6v1.6h-1.6zM317.2 274.1h1.6v1.6h-1.6zM325.6 273.0h1.6v1.6h-1.6zM328.1 269.1h1.6v1.6h-1.6zM324.6 268.0h1.6v1.6h-1.6zM326.5 269.5h1.6v1.6h-1.6zM328.9 267.9h1.6v1.6h-1.6zM321.4 274.6h1.6v1.6h-1.6zM316.2 274.0h1.6v1.6h-1.6zM325.7 268.6h1.6v1.6h-1.6zM328.6 268.5h1.6v1.6h-1.6zM323.9 267.7h1.6v1.6h-1.6zM322.0 274.9h1.6v1.6h-1.6zM320.9 272.7h1.6v1.6h-1.6zM326.5 268.9h1.6v1.6h-1.6zM327.5 270.0h1.6v1.6h-1.6zM328.3 265.1h1.6v1.6h-1.6zM322.0 273.0h1.6v1.6h-1.6zM327.3 270.3h1.6v1.6h-1.6zM328.6 270.1h1.6v1.6h-1.6zM328.3 266.5h1.6v1.6h-1.6zM322.9 274.0h1.6v1.6h-1.6zM314.6 274.4h1.6v1.6h-1.6zM320.9 268.7h1.6v1.6h-1.6zM327.3 271.1h1.6v1.6h-1.6zM322.2 274.7h1.6v1.6h-1.6zM331.3 266.4h1.6v1.6h-1.6zM317.1 274.1h1.6v1.6h-1.6zM321.9 275.0h1.6v1.6h-1.6zM326.0 267.1h1.6v1.6h-1.6zM324.6 269.9h1.6v1.6h-1.6zM321.1 274.0h1.6v1.6h-1.6zM317.7 275.2h1.6v1.6h-1.6zM320.5 268.8h1.6v1.6h-1.6zM327.0 265.9h1.6v1.6h-1.6zM331.8 266.5h1.6v1.6h-1.6zM328.1 268.6h1.6v1.6h-1.6zM319.1 274.6h1.6v1.6h-1.6zM317.7 272.1h1.6v1.6h-1.6zM331.7 266.5h1.6v1.6h-1.6zM324.3 266.1h1.6v1.6h-1.6zM328.0 269.5h1.6v1.6h-1.6zM317.9 271.8h1.6v1.6h-1.6zM323.8 272.8h1.6v1.6h-1.6zM320.6 275.3h1.6v1.6h-1.6z" fill="#e7776d"/>
<path d="M323.5 271.2h1.5v1.5h-1.5zM316.7 276.1h1.5v1.5h-1.5zM318.5 275.2h1.5v1.5h-1.5zM319.6 275.1h1.5v1.5h-1.5zM324.6 274.1h1.5v1.5h-1.5zM317.1 275.3h1.5v1.5h-1.5zM327.0 268.8h1.5v1.5h-1.5zM328.9 270.4h1.5v1.5h-1.5zM316.2 276.1h1.5v1.5h-1.5zM330.6 268.3h1.5v1.5h-1.5zM331.9 265.1h1.5v1.5h-1.5zM317.2 274.5h1.5v1.5h-1.5zM324.6 274.3h1.5v1.5h-1.5zM331.9 267.8h1.5v1.5h-1.5zM322.8 274.9h1.5v1.5h-1.5zM332.6 267.4h1.5v1.5h-1.5zM330.5 265.9h1.5v1.5h-1.5zM327.6 272.1h1.5v1.5h-1.5z" fill="#e7776d"/>
<path d="M315.2 267.3h1.1v1.1h-1.1zM312.8 269.4h1.1v1.1h-1.1zM317.4 267.6h1.1v1.1h-1.1zM319.4 266.4h1.1v1.1h-1.1zM311.4 267.1h1.1v1.1h-1.1zM311.0 270.1h1.1v1.1h-1.1zM311.1 267.6h1.1v1.1h-1.1zM312.8 265.9h1.1v1.1h-1.1zM313.5 268.4h1.1v1.1h-1.1zM317.0 263.9h1.1v1.1h-1.1z" fill="#fff"/>
<path d="M310.8 253.8h1.4v1.4h-1.4zM312.3 253.1h1.4v1.4h-1.4zM311.3 255.3h1.4v1.4h-1.4zM313.8 254.3h1.4v1.4h-1.4z" fill="#6d7d8d"/>
<path d="M317.0 252.4h1.2v1.2h-1.2zM320.8 256.2h1.2v1.2h-1.2zM326.4 263.9h1.2v1.2h-1.2zM329.4 265.4h1.2v1.2h-1.2z" fill="#a41f2c"/>
<text x="90.8" y="31.8" font-size="8.50" text-anchor="start" fill="#222">EpiSC-like</text>
<text x="30.9" y="77.0" font-size="8.50" text-anchor="start" fill="#222">VSM-enriched</text>
<text x="121.9" y="62.3" font-size="8.50" text-anchor="start" fill="#222">pEryP</text>
<text x="79.1" y="98.0" font-size="8.50" text-anchor="start" fill="#222">MacP</text>
<text x="108.7" y="103.7" font-size="8.50" text-anchor="start" fill="#222">preHSPC</text>
<text x="99.3" y="117.4" font-size="8.50" text-anchor="start" fill="#222">dHPC</text>
<text x="30.9" y="109.7" font-size="8.50" text-anchor="start" fill="#222">endo type 1</text>
<text x="67.3" y="136.6" font-size="8.50" text-anchor="start" fill="#222">endo type2</text>
<circle cx="120.3" cy="311.4" r="7.4" fill="#74c5d3"/>
<text x="129.8" y="315.7" font-size="11.00" text-anchor="start" fill="#222">dHPC</text>
<circle cx="120.3" cy="332.5" r="7.4" fill="#e3242f"/>
<text x="129.8" y="336.8" font-size="11.00" text-anchor="start" fill="#222">pEryP</text>
<circle cx="120.3" cy="354.0" r="7.4" fill="#ec6fa6"/>
<text x="129.8" y="358.3" font-size="11.00" text-anchor="start" fill="#222">MacP</text>
<circle cx="177.3" cy="311.4" r="7.4" fill="#a41f2c"/>
<text x="186.8" y="315.7" font-size="11.00" text-anchor="start" fill="#222">preHSPC</text>
<circle cx="177.3" cy="332.5" r="7.4" fill="#3b79b2"/>
<text x="186.8" y="336.8" font-size="11.00" text-anchor="start" fill="#222">endo type 1</text>
<circle cx="177.3" cy="354.0" r="7.4" fill="#e7776d"/>
<text x="186.8" y="358.3" font-size="11.00" text-anchor="start" fill="#222">endo type2</text>
<circle cx="256.2" cy="311.4" r="7.4" fill="#6d7d8d"/>
<text x="265.7" y="315.7" font-size="11.00" text-anchor="start" fill="#222">VSM-enriched</text>
<circle cx="256.2" cy="332.5" r="7.4" fill="#d96c2b"/>
<text x="265.7" y="336.8" font-size="11.00" text-anchor="start" fill="#222">EpiSC-like</text>
<circle cx="256.2" cy="354.0" r="7.4" fill="#a3bad7"/>
<text x="265.7" y="358.3" font-size="11.00" text-anchor="start" fill="#222">undefined</text>
<rect x="477.1" y="21.80" width="17.4" height="5.80" fill="#74c5d3"/>
<rect x="477.1" y="27.60" width="17.4" height="81.80" fill="#e3242f"/>
<rect x="477.1" y="109.40" width="17.4" height="1.60" fill="#ec6fa6"/>
<rect x="477.1" y="111.00" width="17.4" height="10.70" fill="#a41f2c"/>
<rect x="477.1" y="121.70" width="17.4" height="57.80" fill="#3b79b2"/>
<rect x="477.1" y="179.50" width="17.4" height="14.40" fill="#e7776d"/>
<rect x="477.1" y="193.90" width="17.4" height="115.10" fill="#6d7d8d"/>
<rect x="477.1" y="309.00" width="17.4" height="8.00" fill="#d96c2b"/>
<rect x="477.1" y="317.00" width="17.4" height="4.90" fill="#a3bad7"/>
<rect x="496.3" y="21.80" width="17.4" height="293.30" fill="#6d7d8d"/>
<rect x="496.3" y="315.10" width="17.4" height="5.00" fill="#d96c2b"/>
<rect x="496.3" y="320.10" width="17.4" height="1.80" fill="#a3bad7"/>
<rect x="515.5" y="21.80" width="17.4" height="0.60" fill="#e3242f"/>
<rect x="515.5" y="22.40" width="17.4" height="284.80" fill="#6d7d8d"/>
<rect x="515.5" y="307.20" width="17.4" height="13.50" fill="#d96c2b"/>
<rect x="515.5" y="320.70" width="17.4" height="1.20" fill="#a3bad7"/>
<rect x="534.6" y="21.80" width="17.4" height="9.20" fill="#74c5d3"/>
<rect x="534.6" y="31.00" width="17.4" height="50.10" fill="#e3242f"/>
<rect x="534.6" y="81.10" width="17.4" height="9.90" fill="#a41f2c"/>
<rect x="534.6" y="91.00" width="17.4" height="2.00" fill="#3b79b2"/>
<rect x="534.6" y="93.00" width="17.4" height="6.70" fill="#e7776d"/>
<rect x="534.6" y="99.70" width="17.4" height="212.90" fill="#6d7d8d"/>
<rect x="534.6" y="312.60" width="17.4" height="7.10" fill="#d96c2b"/>
<rect x="534.6" y="319.70" width="17.4" height="2.20" fill="#a3bad7"/>
<rect x="553.8" y="21.80" width="17.4" height="0.60" fill="#a41f2c"/>
<rect x="553.8" y="22.40" width="17.4" height="14.30" fill="#e3242f"/>
<rect x="553.8" y="36.70" width="17.4" height="0.80" fill="#a41f2c"/>
<rect x="553.8" y="37.50" width="17.4" height="31.60" fill="#3b79b2"/>
<rect x="553.8" y="69.10" width="17.4" height="15.90" fill="#e7776d"/>
<rect x="553.8" y="85.00" width="17.4" height="207.50" fill="#6d7d8d"/>
<rect x="553.8" y="292.50" width="17.4" height="22.40" fill="#d96c2b"/>
<rect x="553.8" y="314.90" width="17.4" height="7.00" fill="#a3bad7"/>
<rect x="573.0" y="21.80" width="17.4" height="11.00" fill="#74c5d3"/>
<rect x="573.0" y="32.80" width="17.4" height="110.60" fill="#e3242f"/>
<rect x="573.0" y="143.40" width="17.4" height="1.60" fill="#ec6fa6"/>
<rect x="573.0" y="145.00" width="17.4" height="19.70" fill="#a41f2c"/>
<rect x="573.0" y="164.70" width="17.4" height="20.00" fill="#3b79b2"/>
<rect x="573.0" y="184.70" width="17.4" height="17.50" fill="#e7776d"/>
<rect x="573.0" y="202.20" width="17.4" height="91.90" fill="#6d7d8d"/>
<rect x="573.0" y="294.10" width="17.4" height="8.20" fill="#d96c2b"/>
<rect x="573.0" y="302.30" width="17.4" height="19.60" fill="#a3bad7"/>
<text x="476.2" y="24.4" font-size="9.70" text-anchor="end" fill="#333">100%</text>
<text x="476.2" y="99.5" font-size="9.70" text-anchor="end" fill="#333">75%</text>
<text x="476.2" y="174.6" font-size="9.70" text-anchor="end" fill="#333">50%</text>
<text x="476.2" y="249.6" font-size="9.70" text-anchor="end" fill="#333">25%</text>
<text x="476.2" y="324.7" font-size="9.70" text-anchor="end" fill="#333">0%</text>
<text transform="translate(450.4 174.2) rotate(-90)" font-size="12.2" text-anchor="middle" fill="#222">Proportion [%]</text>
<text transform="translate(489.8 328.6) rotate(-60)" font-size="10.5" text-anchor="end" fill="#222">Ctrl</text>
<text transform="translate(509.0 328.6) rotate(-60)" font-size="10.5" text-anchor="end" fill="#222"><tspan font-style="italic">Etv2</tspan> KO</text>
<text transform="translate(528.2 328.6) rotate(-60)" font-size="10.5" text-anchor="end" fill="#222"><tspan font-style="italic">Ldb1</tspan> KO</text>
<text transform="translate(547.3 328.6) rotate(-60)" font-size="10.5" text-anchor="end" fill="#222"><tspan font-style="italic">Six4</tspan> KO</text>
<text transform="translate(566.5 328.6) rotate(-60)" font-size="10.5" text-anchor="end" fill="#222"><tspan font-style="italic">Smad1</tspan> KO</text>
<text transform="translate(585.7 328.6) rotate(-60)" font-size="10.5" text-anchor="end" fill="#222"><tspan font-style="italic">Zbtb7b</tspan> KO</text>
<circle cx="604.3" cy="90.2" r="7.5" fill="#74c5d3"/>
<text x="616.0" y="94.5" font-size="11.00" text-anchor="start" fill="#222">dHPC</text>
<circle cx="604.3" cy="111.3" r="7.5" fill="#e3242f"/>
<text x="616.0" y="115.6" font-size="11.00" text-anchor="start" fill="#222">pEryP</text>
<circle cx="604.3" cy="132.3" r="7.5" fill="#ec6fa6"/>
<text x="616.0" y="136.6" font-size="11.00" text-anchor="start" fill="#222">MacP</text>
<circle cx="604.3" cy="153.4" r="7.5" fill="#a41f2c"/>
<text x="616.0" y="157.7" font-size="11.00" text-anchor="start" fill="#222">preHSPC</text>
<circle cx="604.3" cy="174.5" r="7.5" fill="#3b79b2"/>
<text x="616.0" y="178.8" font-size="11.00" text-anchor="start" fill="#222">endo type 1</text>
<circle cx="604.3" cy="195.6" r="7.5" fill="#e7776d"/>
<text x="616.0" y="199.9" font-size="11.00" text-anchor="start" fill="#222">endo type2</text>
<circle cx="604.3" cy="216.6" r="7.5" fill="#6d7d8d"/>
<text x="616.0" y="220.9" font-size="11.00" text-anchor="start" fill="#222">VSM-enriched</text>
<circle cx="604.3" cy="237.7" r="7.5" fill="#d96c2b"/>
<text x="616.0" y="242.0" font-size="11.00" text-anchor="start" fill="#222">EpiSC-like</text>
<circle cx="604.3" cy="258.8" r="7.5" fill="#a3bad7"/>
<text x="616.0" y="263.1" font-size="11.00" text-anchor="start" fill="#222">undefined</text>
</svg>
</body></html>
